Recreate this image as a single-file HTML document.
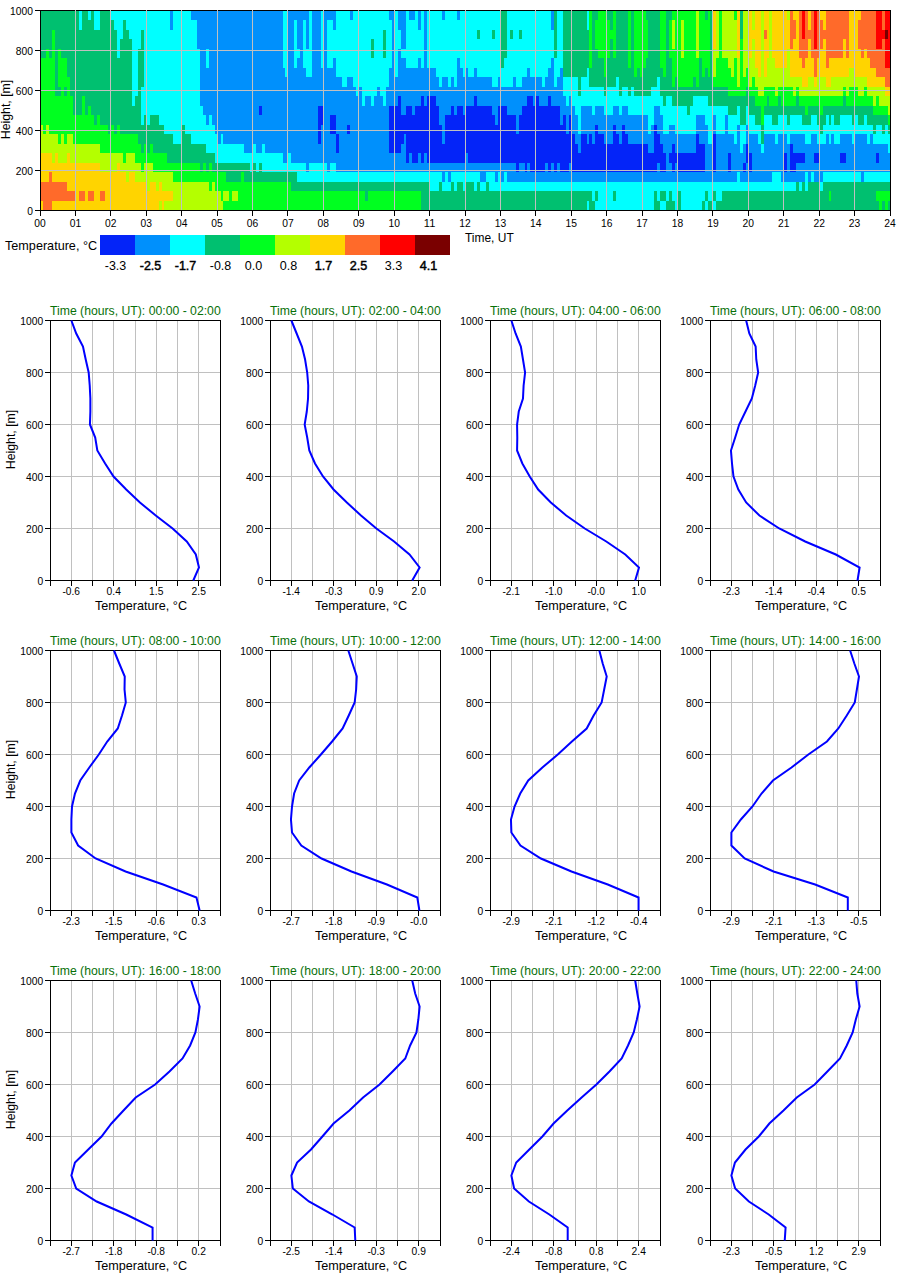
<!DOCTYPE html>
<html><head><meta charset="utf-8"><style>html,body{margin:0;padding:0;background:#fff;}svg{display:block}</style></head>
<body><svg width="900" height="1280" viewBox="0 0 900 1280" font-family="Liberation Sans, sans-serif">
<rect width="900" height="1280" fill="#fff"/>
<g shape-rendering="crispEdges">
<rect x="40.50" y="10.50" width="38.67" height="9.82" fill="#00c070"/>
<rect x="78.87" y="10.50" width="3.25" height="9.82" fill="#00ffff"/>
<rect x="81.82" y="10.50" width="6.20" height="9.82" fill="#00c070"/>
<rect x="87.72" y="10.50" width="3.25" height="9.82" fill="#00ffff"/>
<rect x="90.67" y="10.50" width="3.25" height="9.82" fill="#00c070"/>
<rect x="93.62" y="10.50" width="6.20" height="9.82" fill="#00ffff"/>
<rect x="99.53" y="10.50" width="12.11" height="9.82" fill="#00c070"/>
<rect x="111.33" y="10.50" width="59.33" height="9.82" fill="#00ffff"/>
<rect x="170.36" y="10.50" width="3.25" height="9.82" fill="#0090fc"/>
<rect x="173.31" y="10.50" width="18.01" height="9.82" fill="#00ffff"/>
<rect x="191.02" y="10.50" width="91.79" height="9.82" fill="#0090fc"/>
<rect x="282.51" y="10.50" width="6.20" height="9.82" fill="#00ffff"/>
<rect x="288.42" y="10.50" width="20.96" height="9.82" fill="#0090fc"/>
<rect x="309.08" y="10.50" width="3.25" height="9.82" fill="#00ffff"/>
<rect x="312.03" y="10.50" width="9.15" height="9.82" fill="#0090fc"/>
<rect x="320.88" y="10.50" width="3.25" height="9.82" fill="#00ffff"/>
<rect x="323.83" y="10.50" width="12.11" height="9.82" fill="#0090fc"/>
<rect x="335.64" y="10.50" width="15.06" height="9.82" fill="#00ffff"/>
<rect x="350.40" y="10.50" width="3.25" height="9.82" fill="#0090fc"/>
<rect x="353.35" y="10.50" width="35.72" height="9.82" fill="#00ffff"/>
<rect x="388.76" y="10.50" width="6.20" height="9.82" fill="#0090fc"/>
<rect x="394.67" y="10.50" width="3.25" height="9.82" fill="#00ffff"/>
<rect x="397.62" y="10.50" width="9.15" height="9.82" fill="#0090fc"/>
<rect x="406.47" y="10.50" width="3.25" height="9.82" fill="#00ffff"/>
<rect x="409.42" y="10.50" width="6.20" height="9.82" fill="#0090fc"/>
<rect x="415.33" y="10.50" width="3.25" height="9.82" fill="#00ffff"/>
<rect x="418.28" y="10.50" width="3.25" height="9.82" fill="#0090fc"/>
<rect x="421.23" y="10.50" width="3.25" height="9.82" fill="#00ffff"/>
<rect x="424.18" y="10.50" width="3.25" height="9.82" fill="#0090fc"/>
<rect x="427.13" y="10.50" width="15.06" height="9.82" fill="#00ffff"/>
<rect x="441.89" y="10.50" width="3.25" height="9.82" fill="#0090fc"/>
<rect x="444.84" y="10.50" width="12.11" height="9.82" fill="#00ffff"/>
<rect x="456.65" y="10.50" width="3.25" height="9.82" fill="#0090fc"/>
<rect x="459.60" y="10.50" width="41.62" height="9.82" fill="#00ffff"/>
<rect x="500.92" y="10.50" width="6.20" height="9.82" fill="#00c070"/>
<rect x="506.82" y="10.50" width="44.57" height="9.82" fill="#00ffff"/>
<rect x="551.09" y="10.50" width="3.25" height="9.82" fill="#0090fc"/>
<rect x="554.04" y="10.50" width="3.25" height="9.82" fill="#00c070"/>
<rect x="556.99" y="10.50" width="6.20" height="9.82" fill="#00ffff"/>
<rect x="562.90" y="10.50" width="23.91" height="9.82" fill="#00c070"/>
<rect x="586.51" y="10.50" width="3.25" height="9.82" fill="#00ffff"/>
<rect x="589.46" y="10.50" width="3.25" height="9.82" fill="#00ff20"/>
<rect x="592.41" y="10.50" width="6.20" height="9.82" fill="#00c070"/>
<rect x="598.31" y="10.50" width="9.15" height="9.82" fill="#00ff20"/>
<rect x="607.17" y="10.50" width="6.20" height="9.82" fill="#00c070"/>
<rect x="613.07" y="10.50" width="3.25" height="9.82" fill="#00ff20"/>
<rect x="616.02" y="10.50" width="12.11" height="9.82" fill="#00c070"/>
<rect x="627.83" y="10.50" width="3.25" height="9.82" fill="#00ff20"/>
<rect x="630.78" y="10.50" width="3.25" height="9.82" fill="#00c070"/>
<rect x="633.73" y="10.50" width="12.11" height="9.82" fill="#00ff20"/>
<rect x="645.53" y="10.50" width="15.06" height="9.82" fill="#00c070"/>
<rect x="660.29" y="10.50" width="6.20" height="9.82" fill="#00ff20"/>
<rect x="666.19" y="10.50" width="6.20" height="9.82" fill="#00c070"/>
<rect x="672.10" y="10.50" width="23.91" height="9.82" fill="#00ff20"/>
<rect x="695.71" y="10.50" width="3.25" height="9.82" fill="#b4ff00"/>
<rect x="698.66" y="10.50" width="6.20" height="9.82" fill="#00ff20"/>
<rect x="704.56" y="10.50" width="3.25" height="9.82" fill="#00c070"/>
<rect x="707.51" y="10.50" width="3.25" height="9.82" fill="#00ff20"/>
<rect x="710.47" y="10.50" width="3.25" height="9.82" fill="#00c070"/>
<rect x="713.42" y="10.50" width="3.25" height="9.82" fill="#ffd400"/>
<rect x="716.37" y="10.50" width="3.25" height="9.82" fill="#b4ff00"/>
<rect x="719.32" y="10.50" width="3.25" height="9.82" fill="#00ff20"/>
<rect x="722.27" y="10.50" width="12.11" height="9.82" fill="#b4ff00"/>
<rect x="734.08" y="10.50" width="3.25" height="9.82" fill="#00ff20"/>
<rect x="737.03" y="10.50" width="3.25" height="9.82" fill="#ffd400"/>
<rect x="739.98" y="10.50" width="3.25" height="9.82" fill="#00c070"/>
<rect x="742.93" y="10.50" width="6.20" height="9.82" fill="#b4ff00"/>
<rect x="748.83" y="10.50" width="3.25" height="9.82" fill="#ffd400"/>
<rect x="751.78" y="10.50" width="3.25" height="9.82" fill="#b4ff00"/>
<rect x="754.74" y="10.50" width="6.20" height="9.82" fill="#ffd400"/>
<rect x="760.64" y="10.50" width="3.25" height="9.82" fill="#b4ff00"/>
<rect x="763.59" y="10.50" width="6.20" height="9.82" fill="#ffd400"/>
<rect x="769.49" y="10.50" width="3.25" height="9.82" fill="#b4ff00"/>
<rect x="772.44" y="10.50" width="15.06" height="9.82" fill="#ffd400"/>
<rect x="787.20" y="10.50" width="3.25" height="9.82" fill="#b4ff00"/>
<rect x="790.15" y="10.50" width="3.25" height="9.82" fill="#ff6a2a"/>
<rect x="793.10" y="10.50" width="6.20" height="9.82" fill="#ffd400"/>
<rect x="799.01" y="10.50" width="3.25" height="9.82" fill="#ff6a2a"/>
<rect x="801.96" y="10.50" width="3.25" height="9.82" fill="#ff0000"/>
<rect x="804.91" y="10.50" width="3.25" height="9.82" fill="#ff6a2a"/>
<rect x="807.86" y="10.50" width="3.25" height="9.82" fill="#ffd400"/>
<rect x="810.81" y="10.50" width="3.25" height="9.82" fill="#ff6a2a"/>
<rect x="813.76" y="10.50" width="3.25" height="9.82" fill="#ff0000"/>
<rect x="816.72" y="10.50" width="3.25" height="9.82" fill="#ff6a2a"/>
<rect x="819.67" y="10.50" width="6.20" height="9.82" fill="#ffd400"/>
<rect x="825.57" y="10.50" width="23.91" height="9.82" fill="#ff6a2a"/>
<rect x="849.18" y="10.50" width="12.11" height="9.82" fill="#ffd400"/>
<rect x="860.99" y="10.50" width="15.06" height="9.82" fill="#ff6a2a"/>
<rect x="875.74" y="10.50" width="6.20" height="9.82" fill="#ff0000"/>
<rect x="881.65" y="10.50" width="3.25" height="9.82" fill="#ff6a2a"/>
<rect x="884.60" y="10.50" width="6.20" height="9.82" fill="#ff0000"/>
<rect x="40.50" y="20.02" width="38.67" height="9.82" fill="#00c070"/>
<rect x="78.87" y="20.02" width="3.25" height="9.82" fill="#00ffff"/>
<rect x="81.82" y="20.02" width="12.11" height="9.82" fill="#00c070"/>
<rect x="93.62" y="20.02" width="6.20" height="9.82" fill="#00ffff"/>
<rect x="99.53" y="20.02" width="15.06" height="9.82" fill="#00c070"/>
<rect x="114.28" y="20.02" width="9.15" height="9.82" fill="#00ffff"/>
<rect x="123.14" y="20.02" width="3.25" height="9.82" fill="#00c070"/>
<rect x="126.09" y="20.02" width="44.57" height="9.82" fill="#00ffff"/>
<rect x="170.36" y="20.02" width="3.25" height="9.82" fill="#0090fc"/>
<rect x="173.31" y="20.02" width="23.91" height="9.82" fill="#00ffff"/>
<rect x="196.92" y="20.02" width="85.89" height="9.82" fill="#0090fc"/>
<rect x="282.51" y="20.02" width="6.20" height="9.82" fill="#00ffff"/>
<rect x="288.42" y="20.02" width="6.20" height="9.82" fill="#0090fc"/>
<rect x="294.32" y="20.02" width="3.25" height="9.82" fill="#00ffff"/>
<rect x="297.27" y="20.02" width="6.20" height="9.82" fill="#0090fc"/>
<rect x="303.17" y="20.02" width="3.25" height="9.82" fill="#00ffff"/>
<rect x="306.12" y="20.02" width="3.25" height="9.82" fill="#0090fc"/>
<rect x="309.08" y="20.02" width="3.25" height="9.82" fill="#00ffff"/>
<rect x="312.03" y="20.02" width="9.15" height="9.82" fill="#0090fc"/>
<rect x="320.88" y="20.02" width="3.25" height="9.82" fill="#00ffff"/>
<rect x="323.83" y="20.02" width="3.25" height="9.82" fill="#0090fc"/>
<rect x="326.78" y="20.02" width="6.20" height="9.82" fill="#00ffff"/>
<rect x="332.69" y="20.02" width="3.25" height="9.82" fill="#0090fc"/>
<rect x="335.64" y="20.02" width="56.38" height="9.82" fill="#00ffff"/>
<rect x="391.72" y="20.02" width="3.25" height="9.82" fill="#0090fc"/>
<rect x="394.67" y="20.02" width="3.25" height="9.82" fill="#00ffff"/>
<rect x="397.62" y="20.02" width="9.15" height="9.82" fill="#0090fc"/>
<rect x="406.47" y="20.02" width="12.11" height="9.82" fill="#00ffff"/>
<rect x="418.28" y="20.02" width="3.25" height="9.82" fill="#0090fc"/>
<rect x="421.23" y="20.02" width="3.25" height="9.82" fill="#00ffff"/>
<rect x="424.18" y="20.02" width="3.25" height="9.82" fill="#0090fc"/>
<rect x="427.13" y="20.02" width="74.08" height="9.82" fill="#00ffff"/>
<rect x="500.92" y="20.02" width="6.20" height="9.82" fill="#00c070"/>
<rect x="506.82" y="20.02" width="44.57" height="9.82" fill="#00ffff"/>
<rect x="551.09" y="20.02" width="3.25" height="9.82" fill="#0090fc"/>
<rect x="554.04" y="20.02" width="3.25" height="9.82" fill="#00c070"/>
<rect x="556.99" y="20.02" width="6.20" height="9.82" fill="#00ffff"/>
<rect x="562.90" y="20.02" width="23.91" height="9.82" fill="#00c070"/>
<rect x="586.51" y="20.02" width="3.25" height="9.82" fill="#00ffff"/>
<rect x="589.46" y="20.02" width="3.25" height="9.82" fill="#00ff20"/>
<rect x="592.41" y="20.02" width="3.25" height="9.82" fill="#00c070"/>
<rect x="595.36" y="20.02" width="15.06" height="9.82" fill="#00ff20"/>
<rect x="610.12" y="20.02" width="3.25" height="9.82" fill="#00c070"/>
<rect x="613.07" y="20.02" width="3.25" height="9.82" fill="#00ff20"/>
<rect x="616.02" y="20.02" width="12.11" height="9.82" fill="#00c070"/>
<rect x="627.83" y="20.02" width="3.25" height="9.82" fill="#00ff20"/>
<rect x="630.78" y="20.02" width="3.25" height="9.82" fill="#00c070"/>
<rect x="633.73" y="20.02" width="15.06" height="9.82" fill="#00ff20"/>
<rect x="648.49" y="20.02" width="12.11" height="9.82" fill="#00c070"/>
<rect x="660.29" y="20.02" width="6.20" height="9.82" fill="#00ff20"/>
<rect x="666.19" y="20.02" width="3.25" height="9.82" fill="#00c070"/>
<rect x="669.15" y="20.02" width="3.25" height="9.82" fill="#00ff20"/>
<rect x="672.10" y="20.02" width="3.25" height="9.82" fill="#b4ff00"/>
<rect x="675.05" y="20.02" width="6.20" height="9.82" fill="#00ff20"/>
<rect x="680.95" y="20.02" width="3.25" height="9.82" fill="#b4ff00"/>
<rect x="683.90" y="20.02" width="12.11" height="9.82" fill="#00ff20"/>
<rect x="695.71" y="20.02" width="3.25" height="9.82" fill="#b4ff00"/>
<rect x="698.66" y="20.02" width="12.11" height="9.82" fill="#00ff20"/>
<rect x="710.47" y="20.02" width="3.25" height="9.82" fill="#00c070"/>
<rect x="713.42" y="20.02" width="3.25" height="9.82" fill="#ffd400"/>
<rect x="716.37" y="20.02" width="3.25" height="9.82" fill="#b4ff00"/>
<rect x="719.32" y="20.02" width="3.25" height="9.82" fill="#00ff20"/>
<rect x="722.27" y="20.02" width="15.06" height="9.82" fill="#b4ff00"/>
<rect x="737.03" y="20.02" width="3.25" height="9.82" fill="#ffd400"/>
<rect x="739.98" y="20.02" width="3.25" height="9.82" fill="#00c070"/>
<rect x="742.93" y="20.02" width="6.20" height="9.82" fill="#b4ff00"/>
<rect x="748.83" y="20.02" width="3.25" height="9.82" fill="#ffd400"/>
<rect x="751.78" y="20.02" width="3.25" height="9.82" fill="#b4ff00"/>
<rect x="754.74" y="20.02" width="6.20" height="9.82" fill="#ffd400"/>
<rect x="760.64" y="20.02" width="3.25" height="9.82" fill="#b4ff00"/>
<rect x="763.59" y="20.02" width="6.20" height="9.82" fill="#ffd400"/>
<rect x="769.49" y="20.02" width="3.25" height="9.82" fill="#b4ff00"/>
<rect x="772.44" y="20.02" width="18.01" height="9.82" fill="#ffd400"/>
<rect x="790.15" y="20.02" width="6.20" height="9.82" fill="#ff6a2a"/>
<rect x="796.06" y="20.02" width="3.25" height="9.82" fill="#ffd400"/>
<rect x="799.01" y="20.02" width="3.25" height="9.82" fill="#ff6a2a"/>
<rect x="801.96" y="20.02" width="3.25" height="9.82" fill="#ff0000"/>
<rect x="804.91" y="20.02" width="3.25" height="9.82" fill="#ff6a2a"/>
<rect x="807.86" y="20.02" width="3.25" height="9.82" fill="#ffd400"/>
<rect x="810.81" y="20.02" width="3.25" height="9.82" fill="#ff6a2a"/>
<rect x="813.76" y="20.02" width="3.25" height="9.82" fill="#ff0000"/>
<rect x="816.72" y="20.02" width="6.20" height="9.82" fill="#ff6a2a"/>
<rect x="822.62" y="20.02" width="3.25" height="9.82" fill="#ffd400"/>
<rect x="825.57" y="20.02" width="23.91" height="9.82" fill="#ff6a2a"/>
<rect x="849.18" y="20.02" width="9.15" height="9.82" fill="#ffd400"/>
<rect x="858.03" y="20.02" width="18.01" height="9.82" fill="#ff6a2a"/>
<rect x="875.74" y="20.02" width="6.20" height="9.82" fill="#ff0000"/>
<rect x="881.65" y="20.02" width="3.25" height="9.82" fill="#ff6a2a"/>
<rect x="884.60" y="20.02" width="6.20" height="9.82" fill="#ff0000"/>
<rect x="40.50" y="29.55" width="12.11" height="9.82" fill="#00c070"/>
<rect x="52.31" y="29.55" width="3.25" height="9.82" fill="#00ff20"/>
<rect x="55.26" y="29.55" width="62.28" height="9.82" fill="#00c070"/>
<rect x="117.24" y="29.55" width="6.20" height="9.82" fill="#00ffff"/>
<rect x="123.14" y="29.55" width="6.20" height="9.82" fill="#00c070"/>
<rect x="129.04" y="29.55" width="12.11" height="9.82" fill="#00ffff"/>
<rect x="140.85" y="29.55" width="3.25" height="9.82" fill="#00c070"/>
<rect x="143.80" y="29.55" width="53.42" height="9.82" fill="#00ffff"/>
<rect x="196.92" y="29.55" width="85.89" height="9.82" fill="#0090fc"/>
<rect x="282.51" y="29.55" width="6.20" height="9.82" fill="#00ffff"/>
<rect x="288.42" y="29.55" width="6.20" height="9.82" fill="#0090fc"/>
<rect x="294.32" y="29.55" width="3.25" height="9.82" fill="#00ffff"/>
<rect x="297.27" y="29.55" width="6.20" height="9.82" fill="#0090fc"/>
<rect x="303.17" y="29.55" width="3.25" height="9.82" fill="#00ffff"/>
<rect x="306.12" y="29.55" width="3.25" height="9.82" fill="#0090fc"/>
<rect x="309.08" y="29.55" width="3.25" height="9.82" fill="#00ffff"/>
<rect x="312.03" y="29.55" width="9.15" height="9.82" fill="#0090fc"/>
<rect x="320.88" y="29.55" width="3.25" height="9.82" fill="#00ffff"/>
<rect x="323.83" y="29.55" width="3.25" height="9.82" fill="#0090fc"/>
<rect x="326.78" y="29.55" width="56.38" height="9.82" fill="#00ffff"/>
<rect x="382.86" y="29.55" width="3.25" height="9.82" fill="#00c070"/>
<rect x="385.81" y="29.55" width="6.20" height="9.82" fill="#00ffff"/>
<rect x="391.72" y="29.55" width="3.25" height="9.82" fill="#0090fc"/>
<rect x="394.67" y="29.55" width="6.20" height="9.82" fill="#00ffff"/>
<rect x="400.57" y="29.55" width="6.20" height="9.82" fill="#0090fc"/>
<rect x="406.47" y="29.55" width="18.01" height="9.82" fill="#00ffff"/>
<rect x="424.18" y="29.55" width="3.25" height="9.82" fill="#0090fc"/>
<rect x="427.13" y="29.55" width="50.47" height="9.82" fill="#00ffff"/>
<rect x="477.31" y="29.55" width="3.25" height="9.82" fill="#00c070"/>
<rect x="480.26" y="29.55" width="12.11" height="9.82" fill="#00ffff"/>
<rect x="492.06" y="29.55" width="3.25" height="9.82" fill="#00c070"/>
<rect x="495.01" y="29.55" width="6.20" height="9.82" fill="#00ffff"/>
<rect x="500.92" y="29.55" width="6.20" height="9.82" fill="#00c070"/>
<rect x="506.82" y="29.55" width="3.25" height="9.82" fill="#00ffff"/>
<rect x="509.77" y="29.55" width="3.25" height="9.82" fill="#00c070"/>
<rect x="512.72" y="29.55" width="6.20" height="9.82" fill="#00ffff"/>
<rect x="518.62" y="29.55" width="3.25" height="9.82" fill="#00c070"/>
<rect x="521.58" y="29.55" width="32.77" height="9.82" fill="#00ffff"/>
<rect x="554.04" y="29.55" width="3.25" height="9.82" fill="#00c070"/>
<rect x="556.99" y="29.55" width="6.20" height="9.82" fill="#00ffff"/>
<rect x="562.90" y="29.55" width="26.86" height="9.82" fill="#00c070"/>
<rect x="589.46" y="29.55" width="3.25" height="9.82" fill="#00ff20"/>
<rect x="592.41" y="29.55" width="3.25" height="9.82" fill="#00c070"/>
<rect x="595.36" y="29.55" width="20.96" height="9.82" fill="#00ff20"/>
<rect x="616.02" y="29.55" width="12.11" height="9.82" fill="#00c070"/>
<rect x="627.83" y="29.55" width="3.25" height="9.82" fill="#00ff20"/>
<rect x="630.78" y="29.55" width="3.25" height="9.82" fill="#00c070"/>
<rect x="633.73" y="29.55" width="15.06" height="9.82" fill="#00ff20"/>
<rect x="648.49" y="29.55" width="12.11" height="9.82" fill="#00c070"/>
<rect x="660.29" y="29.55" width="6.20" height="9.82" fill="#00ff20"/>
<rect x="666.19" y="29.55" width="3.25" height="9.82" fill="#00c070"/>
<rect x="669.15" y="29.55" width="3.25" height="9.82" fill="#00ff20"/>
<rect x="672.10" y="29.55" width="3.25" height="9.82" fill="#b4ff00"/>
<rect x="675.05" y="29.55" width="6.20" height="9.82" fill="#00ff20"/>
<rect x="680.95" y="29.55" width="3.25" height="9.82" fill="#b4ff00"/>
<rect x="683.90" y="29.55" width="12.11" height="9.82" fill="#00ff20"/>
<rect x="695.71" y="29.55" width="3.25" height="9.82" fill="#b4ff00"/>
<rect x="698.66" y="29.55" width="12.11" height="9.82" fill="#00ff20"/>
<rect x="710.47" y="29.55" width="3.25" height="9.82" fill="#00c070"/>
<rect x="713.42" y="29.55" width="3.25" height="9.82" fill="#ffd400"/>
<rect x="716.37" y="29.55" width="3.25" height="9.82" fill="#b4ff00"/>
<rect x="719.32" y="29.55" width="3.25" height="9.82" fill="#00ff20"/>
<rect x="722.27" y="29.55" width="15.06" height="9.82" fill="#b4ff00"/>
<rect x="737.03" y="29.55" width="3.25" height="9.82" fill="#ffd400"/>
<rect x="739.98" y="29.55" width="3.25" height="9.82" fill="#00c070"/>
<rect x="742.93" y="29.55" width="6.20" height="9.82" fill="#b4ff00"/>
<rect x="748.83" y="29.55" width="12.11" height="9.82" fill="#ffd400"/>
<rect x="760.64" y="29.55" width="3.25" height="9.82" fill="#b4ff00"/>
<rect x="763.59" y="29.55" width="3.25" height="9.82" fill="#ff6a2a"/>
<rect x="766.54" y="29.55" width="3.25" height="9.82" fill="#ffd400"/>
<rect x="769.49" y="29.55" width="3.25" height="9.82" fill="#b4ff00"/>
<rect x="772.44" y="29.55" width="18.01" height="9.82" fill="#ffd400"/>
<rect x="790.15" y="29.55" width="6.20" height="9.82" fill="#ff6a2a"/>
<rect x="796.06" y="29.55" width="3.25" height="9.82" fill="#ffd400"/>
<rect x="799.01" y="29.55" width="3.25" height="9.82" fill="#ff6a2a"/>
<rect x="801.96" y="29.55" width="3.25" height="9.82" fill="#ff0000"/>
<rect x="804.91" y="29.55" width="9.15" height="9.82" fill="#ff6a2a"/>
<rect x="813.76" y="29.55" width="3.25" height="9.82" fill="#ff0000"/>
<rect x="816.72" y="29.55" width="32.77" height="9.82" fill="#ff6a2a"/>
<rect x="849.18" y="29.55" width="9.15" height="9.82" fill="#ffd400"/>
<rect x="858.03" y="29.55" width="18.01" height="9.82" fill="#ff6a2a"/>
<rect x="875.74" y="29.55" width="9.15" height="9.82" fill="#ff0000"/>
<rect x="884.60" y="29.55" width="3.25" height="9.82" fill="#7a0000"/>
<rect x="887.55" y="29.55" width="3.25" height="9.82" fill="#ff0000"/>
<rect x="40.50" y="39.07" width="12.11" height="9.82" fill="#00c070"/>
<rect x="52.31" y="39.07" width="3.25" height="9.82" fill="#00ff20"/>
<rect x="55.26" y="39.07" width="62.28" height="9.82" fill="#00c070"/>
<rect x="117.24" y="39.07" width="3.25" height="9.82" fill="#00ffff"/>
<rect x="120.19" y="39.07" width="12.11" height="9.82" fill="#00c070"/>
<rect x="131.99" y="39.07" width="9.15" height="9.82" fill="#00ffff"/>
<rect x="140.85" y="39.07" width="3.25" height="9.82" fill="#00c070"/>
<rect x="143.80" y="39.07" width="53.42" height="9.82" fill="#00ffff"/>
<rect x="196.92" y="39.07" width="85.89" height="9.82" fill="#0090fc"/>
<rect x="282.51" y="39.07" width="6.20" height="9.82" fill="#00ffff"/>
<rect x="288.42" y="39.07" width="6.20" height="9.82" fill="#0090fc"/>
<rect x="294.32" y="39.07" width="3.25" height="9.82" fill="#00ffff"/>
<rect x="297.27" y="39.07" width="6.20" height="9.82" fill="#0090fc"/>
<rect x="303.17" y="39.07" width="3.25" height="9.82" fill="#00ffff"/>
<rect x="306.12" y="39.07" width="3.25" height="9.82" fill="#0090fc"/>
<rect x="309.08" y="39.07" width="3.25" height="9.82" fill="#00ffff"/>
<rect x="312.03" y="39.07" width="9.15" height="9.82" fill="#0090fc"/>
<rect x="320.88" y="39.07" width="3.25" height="9.82" fill="#00ffff"/>
<rect x="323.83" y="39.07" width="3.25" height="9.82" fill="#0090fc"/>
<rect x="326.78" y="39.07" width="44.57" height="9.82" fill="#00ffff"/>
<rect x="371.06" y="39.07" width="3.25" height="9.82" fill="#00c070"/>
<rect x="374.01" y="39.07" width="9.15" height="9.82" fill="#00ffff"/>
<rect x="382.86" y="39.07" width="3.25" height="9.82" fill="#00c070"/>
<rect x="385.81" y="39.07" width="6.20" height="9.82" fill="#00ffff"/>
<rect x="391.72" y="39.07" width="3.25" height="9.82" fill="#0090fc"/>
<rect x="394.67" y="39.07" width="6.20" height="9.82" fill="#00ffff"/>
<rect x="400.57" y="39.07" width="6.20" height="9.82" fill="#0090fc"/>
<rect x="406.47" y="39.07" width="18.01" height="9.82" fill="#00ffff"/>
<rect x="424.18" y="39.07" width="3.25" height="9.82" fill="#0090fc"/>
<rect x="427.13" y="39.07" width="74.08" height="9.82" fill="#00ffff"/>
<rect x="500.92" y="39.07" width="6.20" height="9.82" fill="#00c070"/>
<rect x="506.82" y="39.07" width="47.52" height="9.82" fill="#00ffff"/>
<rect x="554.04" y="39.07" width="3.25" height="9.82" fill="#00c070"/>
<rect x="556.99" y="39.07" width="6.20" height="9.82" fill="#00ffff"/>
<rect x="562.90" y="39.07" width="26.86" height="9.82" fill="#00c070"/>
<rect x="589.46" y="39.07" width="3.25" height="9.82" fill="#00ff20"/>
<rect x="592.41" y="39.07" width="3.25" height="9.82" fill="#00c070"/>
<rect x="595.36" y="39.07" width="15.06" height="9.82" fill="#00ff20"/>
<rect x="610.12" y="39.07" width="3.25" height="9.82" fill="#00c070"/>
<rect x="613.07" y="39.07" width="3.25" height="9.82" fill="#00ff20"/>
<rect x="616.02" y="39.07" width="12.11" height="9.82" fill="#00c070"/>
<rect x="627.83" y="39.07" width="3.25" height="9.82" fill="#00ff20"/>
<rect x="630.78" y="39.07" width="3.25" height="9.82" fill="#00c070"/>
<rect x="633.73" y="39.07" width="15.06" height="9.82" fill="#00ff20"/>
<rect x="648.49" y="39.07" width="12.11" height="9.82" fill="#00c070"/>
<rect x="660.29" y="39.07" width="6.20" height="9.82" fill="#00ff20"/>
<rect x="666.19" y="39.07" width="3.25" height="9.82" fill="#00c070"/>
<rect x="669.15" y="39.07" width="3.25" height="9.82" fill="#00ff20"/>
<rect x="672.10" y="39.07" width="3.25" height="9.82" fill="#b4ff00"/>
<rect x="675.05" y="39.07" width="6.20" height="9.82" fill="#00ff20"/>
<rect x="680.95" y="39.07" width="3.25" height="9.82" fill="#b4ff00"/>
<rect x="683.90" y="39.07" width="12.11" height="9.82" fill="#00ff20"/>
<rect x="695.71" y="39.07" width="3.25" height="9.82" fill="#b4ff00"/>
<rect x="698.66" y="39.07" width="12.11" height="9.82" fill="#00ff20"/>
<rect x="710.47" y="39.07" width="3.25" height="9.82" fill="#00c070"/>
<rect x="713.42" y="39.07" width="3.25" height="9.82" fill="#ffd400"/>
<rect x="716.37" y="39.07" width="3.25" height="9.82" fill="#b4ff00"/>
<rect x="719.32" y="39.07" width="3.25" height="9.82" fill="#00ff20"/>
<rect x="722.27" y="39.07" width="15.06" height="9.82" fill="#b4ff00"/>
<rect x="737.03" y="39.07" width="3.25" height="9.82" fill="#ffd400"/>
<rect x="739.98" y="39.07" width="3.25" height="9.82" fill="#00ff20"/>
<rect x="742.93" y="39.07" width="6.20" height="9.82" fill="#b4ff00"/>
<rect x="748.83" y="39.07" width="3.25" height="9.82" fill="#ffd400"/>
<rect x="751.78" y="39.07" width="3.25" height="9.82" fill="#b4ff00"/>
<rect x="754.74" y="39.07" width="6.20" height="9.82" fill="#ffd400"/>
<rect x="760.64" y="39.07" width="3.25" height="9.82" fill="#b4ff00"/>
<rect x="763.59" y="39.07" width="6.20" height="9.82" fill="#ffd400"/>
<rect x="769.49" y="39.07" width="3.25" height="9.82" fill="#b4ff00"/>
<rect x="772.44" y="39.07" width="18.01" height="9.82" fill="#ffd400"/>
<rect x="790.15" y="39.07" width="3.25" height="9.82" fill="#ff6a2a"/>
<rect x="793.10" y="39.07" width="6.20" height="9.82" fill="#ffd400"/>
<rect x="799.01" y="39.07" width="9.15" height="9.82" fill="#ff6a2a"/>
<rect x="807.86" y="39.07" width="3.25" height="9.82" fill="#ffd400"/>
<rect x="810.81" y="39.07" width="3.25" height="9.82" fill="#ff6a2a"/>
<rect x="813.76" y="39.07" width="3.25" height="9.82" fill="#ff0000"/>
<rect x="816.72" y="39.07" width="6.20" height="9.82" fill="#ff6a2a"/>
<rect x="822.62" y="39.07" width="3.25" height="9.82" fill="#ffd400"/>
<rect x="825.57" y="39.07" width="18.01" height="9.82" fill="#ff6a2a"/>
<rect x="843.28" y="39.07" width="3.25" height="9.82" fill="#ffd400"/>
<rect x="846.23" y="39.07" width="3.25" height="9.82" fill="#ff6a2a"/>
<rect x="849.18" y="39.07" width="9.15" height="9.82" fill="#ffd400"/>
<rect x="858.03" y="39.07" width="18.01" height="9.82" fill="#ff6a2a"/>
<rect x="875.74" y="39.07" width="6.20" height="9.82" fill="#ff0000"/>
<rect x="881.65" y="39.07" width="3.25" height="9.82" fill="#ff6a2a"/>
<rect x="884.60" y="39.07" width="6.20" height="9.82" fill="#ff0000"/>
<rect x="40.50" y="48.60" width="6.20" height="9.82" fill="#00c070"/>
<rect x="46.40" y="48.60" width="3.25" height="9.82" fill="#00ff20"/>
<rect x="49.35" y="48.60" width="3.25" height="9.82" fill="#00c070"/>
<rect x="52.31" y="48.60" width="3.25" height="9.82" fill="#00ff20"/>
<rect x="55.26" y="48.60" width="3.25" height="9.82" fill="#00c070"/>
<rect x="58.21" y="48.60" width="3.25" height="9.82" fill="#00ff20"/>
<rect x="61.16" y="48.60" width="56.38" height="9.82" fill="#00c070"/>
<rect x="117.24" y="48.60" width="3.25" height="9.82" fill="#00ffff"/>
<rect x="120.19" y="48.60" width="12.11" height="9.82" fill="#00c070"/>
<rect x="131.99" y="48.60" width="6.20" height="9.82" fill="#00ffff"/>
<rect x="137.90" y="48.60" width="6.20" height="9.82" fill="#00c070"/>
<rect x="143.80" y="48.60" width="56.38" height="9.82" fill="#00ffff"/>
<rect x="199.88" y="48.60" width="6.20" height="9.82" fill="#0090fc"/>
<rect x="205.78" y="48.60" width="3.25" height="9.82" fill="#00ffff"/>
<rect x="208.73" y="48.60" width="74.08" height="9.82" fill="#0090fc"/>
<rect x="282.51" y="48.60" width="6.20" height="9.82" fill="#00ffff"/>
<rect x="288.42" y="48.60" width="6.20" height="9.82" fill="#0090fc"/>
<rect x="294.32" y="48.60" width="6.20" height="9.82" fill="#00ffff"/>
<rect x="300.22" y="48.60" width="3.25" height="9.82" fill="#0090fc"/>
<rect x="303.17" y="48.60" width="9.15" height="9.82" fill="#00ffff"/>
<rect x="312.03" y="48.60" width="9.15" height="9.82" fill="#0090fc"/>
<rect x="320.88" y="48.60" width="3.25" height="9.82" fill="#00ffff"/>
<rect x="323.83" y="48.60" width="3.25" height="9.82" fill="#0090fc"/>
<rect x="326.78" y="48.60" width="44.57" height="9.82" fill="#00ffff"/>
<rect x="371.06" y="48.60" width="3.25" height="9.82" fill="#00c070"/>
<rect x="374.01" y="48.60" width="9.15" height="9.82" fill="#00ffff"/>
<rect x="382.86" y="48.60" width="3.25" height="9.82" fill="#00c070"/>
<rect x="385.81" y="48.60" width="6.20" height="9.82" fill="#00ffff"/>
<rect x="391.72" y="48.60" width="3.25" height="9.82" fill="#0090fc"/>
<rect x="394.67" y="48.60" width="3.25" height="9.82" fill="#00ffff"/>
<rect x="397.62" y="48.60" width="3.25" height="9.82" fill="#0090fc"/>
<rect x="400.57" y="48.60" width="23.91" height="9.82" fill="#00ffff"/>
<rect x="424.18" y="48.60" width="3.25" height="9.82" fill="#0090fc"/>
<rect x="427.13" y="48.60" width="74.08" height="9.82" fill="#00ffff"/>
<rect x="500.92" y="48.60" width="6.20" height="9.82" fill="#00c070"/>
<rect x="506.82" y="48.60" width="47.52" height="9.82" fill="#00ffff"/>
<rect x="554.04" y="48.60" width="3.25" height="9.82" fill="#00c070"/>
<rect x="556.99" y="48.60" width="6.20" height="9.82" fill="#00ffff"/>
<rect x="562.90" y="48.60" width="26.86" height="9.82" fill="#00c070"/>
<rect x="589.46" y="48.60" width="3.25" height="9.82" fill="#00ff20"/>
<rect x="592.41" y="48.60" width="6.20" height="9.82" fill="#00c070"/>
<rect x="598.31" y="48.60" width="12.11" height="9.82" fill="#00ff20"/>
<rect x="610.12" y="48.60" width="3.25" height="9.82" fill="#00c070"/>
<rect x="613.07" y="48.60" width="3.25" height="9.82" fill="#00ff20"/>
<rect x="616.02" y="48.60" width="12.11" height="9.82" fill="#00c070"/>
<rect x="627.83" y="48.60" width="3.25" height="9.82" fill="#00ff20"/>
<rect x="630.78" y="48.60" width="3.25" height="9.82" fill="#00c070"/>
<rect x="633.73" y="48.60" width="15.06" height="9.82" fill="#00ff20"/>
<rect x="648.49" y="48.60" width="12.11" height="9.82" fill="#00c070"/>
<rect x="660.29" y="48.60" width="6.20" height="9.82" fill="#00ff20"/>
<rect x="666.19" y="48.60" width="3.25" height="9.82" fill="#00c070"/>
<rect x="669.15" y="48.60" width="12.11" height="9.82" fill="#00ff20"/>
<rect x="680.95" y="48.60" width="3.25" height="9.82" fill="#b4ff00"/>
<rect x="683.90" y="48.60" width="12.11" height="9.82" fill="#00ff20"/>
<rect x="695.71" y="48.60" width="3.25" height="9.82" fill="#b4ff00"/>
<rect x="698.66" y="48.60" width="12.11" height="9.82" fill="#00ff20"/>
<rect x="710.47" y="48.60" width="3.25" height="9.82" fill="#00c070"/>
<rect x="713.42" y="48.60" width="6.20" height="9.82" fill="#b4ff00"/>
<rect x="719.32" y="48.60" width="3.25" height="9.82" fill="#00ff20"/>
<rect x="722.27" y="48.60" width="15.06" height="9.82" fill="#b4ff00"/>
<rect x="737.03" y="48.60" width="3.25" height="9.82" fill="#ffd400"/>
<rect x="739.98" y="48.60" width="3.25" height="9.82" fill="#00ff20"/>
<rect x="742.93" y="48.60" width="6.20" height="9.82" fill="#b4ff00"/>
<rect x="748.83" y="48.60" width="3.25" height="9.82" fill="#ffd400"/>
<rect x="751.78" y="48.60" width="3.25" height="9.82" fill="#b4ff00"/>
<rect x="754.74" y="48.60" width="6.20" height="9.82" fill="#ffd400"/>
<rect x="760.64" y="48.60" width="3.25" height="9.82" fill="#b4ff00"/>
<rect x="763.59" y="48.60" width="6.20" height="9.82" fill="#ffd400"/>
<rect x="769.49" y="48.60" width="3.25" height="9.82" fill="#b4ff00"/>
<rect x="772.44" y="48.60" width="15.06" height="9.82" fill="#ffd400"/>
<rect x="787.20" y="48.60" width="3.25" height="9.82" fill="#b4ff00"/>
<rect x="790.15" y="48.60" width="9.15" height="9.82" fill="#ffd400"/>
<rect x="799.01" y="48.60" width="9.15" height="9.82" fill="#ff6a2a"/>
<rect x="807.86" y="48.60" width="3.25" height="9.82" fill="#ffd400"/>
<rect x="810.81" y="48.60" width="9.15" height="9.82" fill="#ff6a2a"/>
<rect x="819.67" y="48.60" width="6.20" height="9.82" fill="#ffd400"/>
<rect x="825.57" y="48.60" width="18.01" height="9.82" fill="#ff6a2a"/>
<rect x="843.28" y="48.60" width="3.25" height="9.82" fill="#ffd400"/>
<rect x="846.23" y="48.60" width="3.25" height="9.82" fill="#ff6a2a"/>
<rect x="849.18" y="48.60" width="12.11" height="9.82" fill="#ffd400"/>
<rect x="860.99" y="48.60" width="3.25" height="9.82" fill="#ff6a2a"/>
<rect x="863.94" y="48.60" width="3.25" height="9.82" fill="#ffd400"/>
<rect x="866.89" y="48.60" width="18.01" height="9.82" fill="#ff6a2a"/>
<rect x="884.60" y="48.60" width="6.20" height="9.82" fill="#ff0000"/>
<rect x="40.50" y="58.12" width="15.06" height="9.82" fill="#00ff20"/>
<rect x="55.26" y="58.12" width="3.25" height="9.82" fill="#00c070"/>
<rect x="58.21" y="58.12" width="9.15" height="9.82" fill="#00ff20"/>
<rect x="67.06" y="58.12" width="65.23" height="9.82" fill="#00c070"/>
<rect x="131.99" y="58.12" width="6.20" height="9.82" fill="#00ffff"/>
<rect x="137.90" y="58.12" width="6.20" height="9.82" fill="#00c070"/>
<rect x="143.80" y="58.12" width="56.38" height="9.82" fill="#00ffff"/>
<rect x="199.88" y="58.12" width="6.20" height="9.82" fill="#0090fc"/>
<rect x="205.78" y="58.12" width="3.25" height="9.82" fill="#00ffff"/>
<rect x="208.73" y="58.12" width="74.08" height="9.82" fill="#0090fc"/>
<rect x="282.51" y="58.12" width="6.20" height="9.82" fill="#00ffff"/>
<rect x="288.42" y="58.12" width="6.20" height="9.82" fill="#0090fc"/>
<rect x="294.32" y="58.12" width="3.25" height="9.82" fill="#00ffff"/>
<rect x="297.27" y="58.12" width="6.20" height="9.82" fill="#0090fc"/>
<rect x="303.17" y="58.12" width="9.15" height="9.82" fill="#00ffff"/>
<rect x="312.03" y="58.12" width="9.15" height="9.82" fill="#0090fc"/>
<rect x="320.88" y="58.12" width="3.25" height="9.82" fill="#00ffff"/>
<rect x="323.83" y="58.12" width="3.25" height="9.82" fill="#0090fc"/>
<rect x="326.78" y="58.12" width="6.20" height="9.82" fill="#00ffff"/>
<rect x="332.69" y="58.12" width="3.25" height="9.82" fill="#0090fc"/>
<rect x="335.64" y="58.12" width="56.38" height="9.82" fill="#00ffff"/>
<rect x="391.72" y="58.12" width="3.25" height="9.82" fill="#0090fc"/>
<rect x="394.67" y="58.12" width="3.25" height="9.82" fill="#00ffff"/>
<rect x="397.62" y="58.12" width="9.15" height="9.82" fill="#0090fc"/>
<rect x="406.47" y="58.12" width="12.11" height="9.82" fill="#00ffff"/>
<rect x="418.28" y="58.12" width="3.25" height="9.82" fill="#0090fc"/>
<rect x="421.23" y="58.12" width="3.25" height="9.82" fill="#00ffff"/>
<rect x="424.18" y="58.12" width="3.25" height="9.82" fill="#0090fc"/>
<rect x="427.13" y="58.12" width="29.81" height="9.82" fill="#00ffff"/>
<rect x="456.65" y="58.12" width="3.25" height="9.82" fill="#0090fc"/>
<rect x="459.60" y="58.12" width="41.62" height="9.82" fill="#00ffff"/>
<rect x="500.92" y="58.12" width="3.25" height="9.82" fill="#00c070"/>
<rect x="503.87" y="58.12" width="47.52" height="9.82" fill="#00ffff"/>
<rect x="551.09" y="58.12" width="3.25" height="9.82" fill="#0090fc"/>
<rect x="554.04" y="58.12" width="9.15" height="9.82" fill="#00ffff"/>
<rect x="562.90" y="58.12" width="26.86" height="9.82" fill="#00c070"/>
<rect x="589.46" y="58.12" width="3.25" height="9.82" fill="#00ff20"/>
<rect x="592.41" y="58.12" width="12.11" height="9.82" fill="#00c070"/>
<rect x="604.22" y="58.12" width="3.25" height="9.82" fill="#00ff20"/>
<rect x="607.17" y="58.12" width="20.96" height="9.82" fill="#00c070"/>
<rect x="627.83" y="58.12" width="3.25" height="9.82" fill="#00ff20"/>
<rect x="630.78" y="58.12" width="3.25" height="9.82" fill="#00c070"/>
<rect x="633.73" y="58.12" width="12.11" height="9.82" fill="#00ff20"/>
<rect x="645.53" y="58.12" width="15.06" height="9.82" fill="#00c070"/>
<rect x="660.29" y="58.12" width="6.20" height="9.82" fill="#00ff20"/>
<rect x="666.19" y="58.12" width="6.20" height="9.82" fill="#00c070"/>
<rect x="672.10" y="58.12" width="26.86" height="9.82" fill="#00ff20"/>
<rect x="698.66" y="58.12" width="3.25" height="9.82" fill="#00c070"/>
<rect x="701.61" y="58.12" width="9.15" height="9.82" fill="#00ff20"/>
<rect x="710.47" y="58.12" width="3.25" height="9.82" fill="#00c070"/>
<rect x="713.42" y="58.12" width="3.25" height="9.82" fill="#b4ff00"/>
<rect x="716.37" y="58.12" width="12.11" height="9.82" fill="#00ff20"/>
<rect x="728.17" y="58.12" width="6.20" height="9.82" fill="#b4ff00"/>
<rect x="734.08" y="58.12" width="3.25" height="9.82" fill="#00ff20"/>
<rect x="737.03" y="58.12" width="3.25" height="9.82" fill="#b4ff00"/>
<rect x="739.98" y="58.12" width="3.25" height="9.82" fill="#00ff20"/>
<rect x="742.93" y="58.12" width="12.11" height="9.82" fill="#b4ff00"/>
<rect x="754.74" y="58.12" width="6.20" height="9.82" fill="#ffd400"/>
<rect x="760.64" y="58.12" width="3.25" height="9.82" fill="#b4ff00"/>
<rect x="763.59" y="58.12" width="3.25" height="9.82" fill="#ffd400"/>
<rect x="766.54" y="58.12" width="9.15" height="9.82" fill="#b4ff00"/>
<rect x="775.40" y="58.12" width="12.11" height="9.82" fill="#ffd400"/>
<rect x="787.20" y="58.12" width="3.25" height="9.82" fill="#b4ff00"/>
<rect x="790.15" y="58.12" width="12.11" height="9.82" fill="#ffd400"/>
<rect x="801.96" y="58.12" width="3.25" height="9.82" fill="#ff6a2a"/>
<rect x="804.91" y="58.12" width="9.15" height="9.82" fill="#ffd400"/>
<rect x="813.76" y="58.12" width="3.25" height="9.82" fill="#ff6a2a"/>
<rect x="816.72" y="58.12" width="9.15" height="9.82" fill="#ffd400"/>
<rect x="825.57" y="58.12" width="3.25" height="9.82" fill="#ff6a2a"/>
<rect x="828.52" y="58.12" width="41.62" height="9.82" fill="#ffd400"/>
<rect x="869.84" y="58.12" width="15.06" height="9.82" fill="#ff6a2a"/>
<rect x="884.60" y="58.12" width="6.20" height="9.82" fill="#ff0000"/>
<rect x="40.50" y="67.64" width="15.06" height="9.82" fill="#00ff20"/>
<rect x="55.26" y="67.64" width="3.25" height="9.82" fill="#00c070"/>
<rect x="58.21" y="67.64" width="9.15" height="9.82" fill="#00ff20"/>
<rect x="67.06" y="67.64" width="65.23" height="9.82" fill="#00c070"/>
<rect x="131.99" y="67.64" width="6.20" height="9.82" fill="#00ffff"/>
<rect x="137.90" y="67.64" width="6.20" height="9.82" fill="#00c070"/>
<rect x="143.80" y="67.64" width="56.38" height="9.82" fill="#00ffff"/>
<rect x="199.88" y="67.64" width="85.89" height="9.82" fill="#0090fc"/>
<rect x="285.47" y="67.64" width="3.25" height="9.82" fill="#00ffff"/>
<rect x="288.42" y="67.64" width="18.01" height="9.82" fill="#0090fc"/>
<rect x="306.12" y="67.64" width="6.20" height="9.82" fill="#00ffff"/>
<rect x="312.03" y="67.64" width="23.91" height="9.82" fill="#0090fc"/>
<rect x="335.64" y="67.64" width="53.42" height="9.82" fill="#00ffff"/>
<rect x="388.76" y="67.64" width="6.20" height="9.82" fill="#0090fc"/>
<rect x="394.67" y="67.64" width="3.25" height="9.82" fill="#00ffff"/>
<rect x="397.62" y="67.64" width="38.67" height="9.82" fill="#0090fc"/>
<rect x="435.99" y="67.64" width="20.96" height="9.82" fill="#00ffff"/>
<rect x="456.65" y="67.64" width="6.20" height="9.82" fill="#0090fc"/>
<rect x="462.55" y="67.64" width="3.25" height="9.82" fill="#00ffff"/>
<rect x="465.50" y="67.64" width="3.25" height="9.82" fill="#0090fc"/>
<rect x="468.45" y="67.64" width="6.20" height="9.82" fill="#00ffff"/>
<rect x="474.35" y="67.64" width="3.25" height="9.82" fill="#0090fc"/>
<rect x="477.31" y="67.64" width="50.47" height="9.82" fill="#00ffff"/>
<rect x="527.48" y="67.64" width="3.25" height="9.82" fill="#0090fc"/>
<rect x="530.43" y="67.64" width="18.01" height="9.82" fill="#00ffff"/>
<rect x="548.14" y="67.64" width="6.20" height="9.82" fill="#0090fc"/>
<rect x="554.04" y="67.64" width="6.20" height="9.82" fill="#00ffff"/>
<rect x="559.94" y="67.64" width="3.25" height="9.82" fill="#0090fc"/>
<rect x="562.90" y="67.64" width="23.91" height="9.82" fill="#00c070"/>
<rect x="586.51" y="67.64" width="3.25" height="9.82" fill="#00ffff"/>
<rect x="589.46" y="67.64" width="15.06" height="9.82" fill="#00c070"/>
<rect x="604.22" y="67.64" width="3.25" height="9.82" fill="#00ff20"/>
<rect x="607.17" y="67.64" width="26.86" height="9.82" fill="#00c070"/>
<rect x="633.73" y="67.64" width="3.25" height="9.82" fill="#00ff20"/>
<rect x="636.68" y="67.64" width="3.25" height="9.82" fill="#00c070"/>
<rect x="639.63" y="67.64" width="3.25" height="9.82" fill="#00ff20"/>
<rect x="642.58" y="67.64" width="20.96" height="9.82" fill="#00c070"/>
<rect x="663.24" y="67.64" width="3.25" height="9.82" fill="#00ff20"/>
<rect x="666.19" y="67.64" width="6.20" height="9.82" fill="#00c070"/>
<rect x="672.10" y="67.64" width="26.86" height="9.82" fill="#00ff20"/>
<rect x="698.66" y="67.64" width="3.25" height="9.82" fill="#00c070"/>
<rect x="701.61" y="67.64" width="3.25" height="9.82" fill="#00ff20"/>
<rect x="704.56" y="67.64" width="3.25" height="9.82" fill="#00c070"/>
<rect x="707.51" y="67.64" width="3.25" height="9.82" fill="#00ff20"/>
<rect x="710.47" y="67.64" width="3.25" height="9.82" fill="#00c070"/>
<rect x="713.42" y="67.64" width="3.25" height="9.82" fill="#b4ff00"/>
<rect x="716.37" y="67.64" width="15.06" height="9.82" fill="#00ff20"/>
<rect x="731.12" y="67.64" width="3.25" height="9.82" fill="#b4ff00"/>
<rect x="734.08" y="67.64" width="3.25" height="9.82" fill="#00ff20"/>
<rect x="737.03" y="67.64" width="3.25" height="9.82" fill="#b4ff00"/>
<rect x="739.98" y="67.64" width="3.25" height="9.82" fill="#00ff20"/>
<rect x="742.93" y="67.64" width="3.25" height="9.82" fill="#b4ff00"/>
<rect x="745.88" y="67.64" width="3.25" height="9.82" fill="#00ff20"/>
<rect x="748.83" y="67.64" width="9.15" height="9.82" fill="#b4ff00"/>
<rect x="757.69" y="67.64" width="3.25" height="9.82" fill="#ffd400"/>
<rect x="760.64" y="67.64" width="3.25" height="9.82" fill="#b4ff00"/>
<rect x="763.59" y="67.64" width="3.25" height="9.82" fill="#ffd400"/>
<rect x="766.54" y="67.64" width="23.91" height="9.82" fill="#b4ff00"/>
<rect x="790.15" y="67.64" width="23.91" height="9.82" fill="#ffd400"/>
<rect x="813.76" y="67.64" width="3.25" height="9.82" fill="#ff6a2a"/>
<rect x="816.72" y="67.64" width="32.77" height="9.82" fill="#ffd400"/>
<rect x="849.18" y="67.64" width="6.20" height="9.82" fill="#b4ff00"/>
<rect x="855.08" y="67.64" width="20.96" height="9.82" fill="#ffd400"/>
<rect x="875.74" y="67.64" width="15.06" height="9.82" fill="#ff6a2a"/>
<rect x="40.50" y="77.17" width="15.06" height="9.82" fill="#00ff20"/>
<rect x="55.26" y="77.17" width="3.25" height="9.82" fill="#00c070"/>
<rect x="58.21" y="77.17" width="12.11" height="9.82" fill="#00ff20"/>
<rect x="70.01" y="77.17" width="62.28" height="9.82" fill="#00c070"/>
<rect x="131.99" y="77.17" width="6.20" height="9.82" fill="#00ffff"/>
<rect x="137.90" y="77.17" width="6.20" height="9.82" fill="#00c070"/>
<rect x="143.80" y="77.17" width="56.38" height="9.82" fill="#00ffff"/>
<rect x="199.88" y="77.17" width="141.97" height="9.82" fill="#0090fc"/>
<rect x="341.54" y="77.17" width="6.20" height="9.82" fill="#00ffff"/>
<rect x="347.44" y="77.17" width="6.20" height="9.82" fill="#0090fc"/>
<rect x="353.35" y="77.17" width="35.72" height="9.82" fill="#00ffff"/>
<rect x="388.76" y="77.17" width="50.47" height="9.82" fill="#0090fc"/>
<rect x="438.94" y="77.17" width="3.25" height="9.82" fill="#00ffff"/>
<rect x="441.89" y="77.17" width="6.20" height="9.82" fill="#0090fc"/>
<rect x="447.79" y="77.17" width="3.25" height="9.82" fill="#00ffff"/>
<rect x="450.74" y="77.17" width="3.25" height="9.82" fill="#0090fc"/>
<rect x="453.69" y="77.17" width="3.25" height="9.82" fill="#00ffff"/>
<rect x="456.65" y="77.17" width="35.72" height="9.82" fill="#0090fc"/>
<rect x="492.06" y="77.17" width="6.20" height="9.82" fill="#00ffff"/>
<rect x="497.97" y="77.17" width="3.25" height="9.82" fill="#0090fc"/>
<rect x="500.92" y="77.17" width="12.11" height="9.82" fill="#00ffff"/>
<rect x="512.72" y="77.17" width="3.25" height="9.82" fill="#0090fc"/>
<rect x="515.67" y="77.17" width="6.20" height="9.82" fill="#00ffff"/>
<rect x="521.58" y="77.17" width="20.96" height="9.82" fill="#0090fc"/>
<rect x="542.24" y="77.17" width="3.25" height="9.82" fill="#00ffff"/>
<rect x="545.19" y="77.17" width="9.15" height="9.82" fill="#0090fc"/>
<rect x="554.04" y="77.17" width="3.25" height="9.82" fill="#00ffff"/>
<rect x="556.99" y="77.17" width="6.20" height="9.82" fill="#0090fc"/>
<rect x="562.90" y="77.17" width="15.06" height="9.82" fill="#00ffff"/>
<rect x="577.65" y="77.17" width="3.25" height="9.82" fill="#00c070"/>
<rect x="580.60" y="77.17" width="9.15" height="9.82" fill="#00ffff"/>
<rect x="589.46" y="77.17" width="26.86" height="9.82" fill="#00c070"/>
<rect x="616.02" y="77.17" width="3.25" height="9.82" fill="#00ffff"/>
<rect x="618.97" y="77.17" width="38.67" height="9.82" fill="#00c070"/>
<rect x="657.34" y="77.17" width="3.25" height="9.82" fill="#00ffff"/>
<rect x="660.29" y="77.17" width="12.11" height="9.82" fill="#00c070"/>
<rect x="672.10" y="77.17" width="3.25" height="9.82" fill="#00ff20"/>
<rect x="675.05" y="77.17" width="3.25" height="9.82" fill="#00c070"/>
<rect x="678.00" y="77.17" width="15.06" height="9.82" fill="#00ff20"/>
<rect x="692.76" y="77.17" width="3.25" height="9.82" fill="#00c070"/>
<rect x="695.71" y="77.17" width="3.25" height="9.82" fill="#00ff20"/>
<rect x="698.66" y="77.17" width="15.06" height="9.82" fill="#00c070"/>
<rect x="713.42" y="77.17" width="23.91" height="9.82" fill="#00ff20"/>
<rect x="737.03" y="77.17" width="3.25" height="9.82" fill="#b4ff00"/>
<rect x="739.98" y="77.17" width="9.15" height="9.82" fill="#00ff20"/>
<rect x="748.83" y="77.17" width="3.25" height="9.82" fill="#b4ff00"/>
<rect x="751.78" y="77.17" width="3.25" height="9.82" fill="#00ff20"/>
<rect x="754.74" y="77.17" width="47.52" height="9.82" fill="#b4ff00"/>
<rect x="801.96" y="77.17" width="6.20" height="9.82" fill="#ffd400"/>
<rect x="807.86" y="77.17" width="6.20" height="9.82" fill="#b4ff00"/>
<rect x="813.76" y="77.17" width="3.25" height="9.82" fill="#ffd400"/>
<rect x="816.72" y="77.17" width="9.15" height="9.82" fill="#b4ff00"/>
<rect x="825.57" y="77.17" width="6.20" height="9.82" fill="#ffd400"/>
<rect x="831.47" y="77.17" width="35.72" height="9.82" fill="#b4ff00"/>
<rect x="866.89" y="77.17" width="18.01" height="9.82" fill="#ffd400"/>
<rect x="884.60" y="77.17" width="6.20" height="9.82" fill="#ff6a2a"/>
<rect x="40.50" y="86.69" width="15.06" height="9.82" fill="#00ff20"/>
<rect x="55.26" y="86.69" width="6.20" height="9.82" fill="#00c070"/>
<rect x="61.16" y="86.69" width="3.25" height="9.82" fill="#00ff20"/>
<rect x="64.11" y="86.69" width="3.25" height="9.82" fill="#00c070"/>
<rect x="67.06" y="86.69" width="3.25" height="9.82" fill="#00ff20"/>
<rect x="70.01" y="86.69" width="62.28" height="9.82" fill="#00c070"/>
<rect x="131.99" y="86.69" width="6.20" height="9.82" fill="#00ffff"/>
<rect x="137.90" y="86.69" width="3.25" height="9.82" fill="#00c070"/>
<rect x="140.85" y="86.69" width="59.33" height="9.82" fill="#00ffff"/>
<rect x="199.88" y="86.69" width="156.72" height="9.82" fill="#0090fc"/>
<rect x="356.30" y="86.69" width="3.25" height="9.82" fill="#00ffff"/>
<rect x="359.25" y="86.69" width="3.25" height="9.82" fill="#0090fc"/>
<rect x="362.20" y="86.69" width="15.06" height="9.82" fill="#00ffff"/>
<rect x="376.96" y="86.69" width="3.25" height="9.82" fill="#0090fc"/>
<rect x="379.91" y="86.69" width="6.20" height="9.82" fill="#00ffff"/>
<rect x="385.81" y="86.69" width="177.38" height="9.82" fill="#0090fc"/>
<rect x="562.90" y="86.69" width="15.06" height="9.82" fill="#00ffff"/>
<rect x="577.65" y="86.69" width="3.25" height="9.82" fill="#00c070"/>
<rect x="580.60" y="86.69" width="23.91" height="9.82" fill="#00ffff"/>
<rect x="604.22" y="86.69" width="3.25" height="9.82" fill="#00c070"/>
<rect x="607.17" y="86.69" width="12.11" height="9.82" fill="#00ffff"/>
<rect x="618.97" y="86.69" width="3.25" height="9.82" fill="#00c070"/>
<rect x="621.92" y="86.69" width="6.20" height="9.82" fill="#00ffff"/>
<rect x="627.83" y="86.69" width="3.25" height="9.82" fill="#00c070"/>
<rect x="630.78" y="86.69" width="3.25" height="9.82" fill="#00ffff"/>
<rect x="633.73" y="86.69" width="18.01" height="9.82" fill="#00c070"/>
<rect x="651.44" y="86.69" width="9.15" height="9.82" fill="#00ffff"/>
<rect x="660.29" y="86.69" width="68.18" height="9.82" fill="#00c070"/>
<rect x="728.17" y="86.69" width="18.01" height="9.82" fill="#00ff20"/>
<rect x="745.88" y="86.69" width="3.25" height="9.82" fill="#00c070"/>
<rect x="748.83" y="86.69" width="9.15" height="9.82" fill="#00ff20"/>
<rect x="757.69" y="86.69" width="6.20" height="9.82" fill="#b4ff00"/>
<rect x="763.59" y="86.69" width="12.11" height="9.82" fill="#00ff20"/>
<rect x="775.40" y="86.69" width="3.25" height="9.82" fill="#b4ff00"/>
<rect x="778.35" y="86.69" width="15.06" height="9.82" fill="#00ff20"/>
<rect x="793.10" y="86.69" width="3.25" height="9.82" fill="#b4ff00"/>
<rect x="796.06" y="86.69" width="3.25" height="9.82" fill="#00ff20"/>
<rect x="799.01" y="86.69" width="44.57" height="9.82" fill="#b4ff00"/>
<rect x="843.28" y="86.69" width="3.25" height="9.82" fill="#00ff20"/>
<rect x="846.23" y="86.69" width="3.25" height="9.82" fill="#b4ff00"/>
<rect x="849.18" y="86.69" width="9.15" height="9.82" fill="#00ff20"/>
<rect x="858.03" y="86.69" width="6.20" height="9.82" fill="#b4ff00"/>
<rect x="863.94" y="86.69" width="3.25" height="9.82" fill="#00ff20"/>
<rect x="866.89" y="86.69" width="18.01" height="9.82" fill="#b4ff00"/>
<rect x="884.60" y="86.69" width="6.20" height="9.82" fill="#ffd400"/>
<rect x="40.50" y="96.21" width="32.77" height="9.82" fill="#00ff20"/>
<rect x="72.97" y="96.21" width="9.15" height="9.82" fill="#00c070"/>
<rect x="81.82" y="96.21" width="3.25" height="9.82" fill="#00ff20"/>
<rect x="84.77" y="96.21" width="47.52" height="9.82" fill="#00c070"/>
<rect x="131.99" y="96.21" width="3.25" height="9.82" fill="#00ffff"/>
<rect x="134.94" y="96.21" width="6.20" height="9.82" fill="#00c070"/>
<rect x="140.85" y="96.21" width="59.33" height="9.82" fill="#00ffff"/>
<rect x="199.88" y="96.21" width="162.63" height="9.82" fill="#0090fc"/>
<rect x="362.20" y="96.21" width="3.25" height="9.82" fill="#00ffff"/>
<rect x="365.15" y="96.21" width="6.20" height="9.82" fill="#0090fc"/>
<rect x="371.06" y="96.21" width="3.25" height="9.82" fill="#00ffff"/>
<rect x="374.01" y="96.21" width="9.15" height="9.82" fill="#0090fc"/>
<rect x="382.86" y="96.21" width="3.25" height="9.82" fill="#00ffff"/>
<rect x="385.81" y="96.21" width="12.11" height="9.82" fill="#0090fc"/>
<rect x="397.62" y="96.21" width="3.25" height="9.82" fill="#0424f8"/>
<rect x="400.57" y="96.21" width="20.96" height="9.82" fill="#0090fc"/>
<rect x="421.23" y="96.21" width="3.25" height="9.82" fill="#0424f8"/>
<rect x="424.18" y="96.21" width="3.25" height="9.82" fill="#0090fc"/>
<rect x="427.13" y="96.21" width="9.15" height="9.82" fill="#0424f8"/>
<rect x="435.99" y="96.21" width="38.67" height="9.82" fill="#0090fc"/>
<rect x="474.35" y="96.21" width="3.25" height="9.82" fill="#0424f8"/>
<rect x="477.31" y="96.21" width="50.47" height="9.82" fill="#0090fc"/>
<rect x="527.48" y="96.21" width="6.20" height="9.82" fill="#0424f8"/>
<rect x="533.38" y="96.21" width="3.25" height="9.82" fill="#0090fc"/>
<rect x="536.33" y="96.21" width="3.25" height="9.82" fill="#0424f8"/>
<rect x="539.28" y="96.21" width="9.15" height="9.82" fill="#0090fc"/>
<rect x="548.14" y="96.21" width="3.25" height="9.82" fill="#0424f8"/>
<rect x="551.09" y="96.21" width="15.06" height="9.82" fill="#0090fc"/>
<rect x="565.85" y="96.21" width="3.25" height="9.82" fill="#00ffff"/>
<rect x="568.80" y="96.21" width="3.25" height="9.82" fill="#0090fc"/>
<rect x="571.75" y="96.21" width="91.79" height="9.82" fill="#00ffff"/>
<rect x="663.24" y="96.21" width="3.25" height="9.82" fill="#00c070"/>
<rect x="666.19" y="96.21" width="6.20" height="9.82" fill="#00ffff"/>
<rect x="672.10" y="96.21" width="20.96" height="9.82" fill="#00c070"/>
<rect x="692.76" y="96.21" width="15.06" height="9.82" fill="#00ffff"/>
<rect x="707.51" y="96.21" width="47.52" height="9.82" fill="#00c070"/>
<rect x="754.74" y="96.21" width="12.11" height="9.82" fill="#00ff20"/>
<rect x="766.54" y="96.21" width="3.25" height="9.82" fill="#00c070"/>
<rect x="769.49" y="96.21" width="9.15" height="9.82" fill="#00ff20"/>
<rect x="778.35" y="96.21" width="3.25" height="9.82" fill="#00c070"/>
<rect x="781.30" y="96.21" width="15.06" height="9.82" fill="#00ff20"/>
<rect x="796.06" y="96.21" width="3.25" height="9.82" fill="#00c070"/>
<rect x="799.01" y="96.21" width="44.57" height="9.82" fill="#00ff20"/>
<rect x="843.28" y="96.21" width="3.25" height="9.82" fill="#00c070"/>
<rect x="846.23" y="96.21" width="26.86" height="9.82" fill="#00ff20"/>
<rect x="872.79" y="96.21" width="3.25" height="9.82" fill="#b4ff00"/>
<rect x="875.74" y="96.21" width="3.25" height="9.82" fill="#00ff20"/>
<rect x="878.69" y="96.21" width="12.11" height="9.82" fill="#b4ff00"/>
<rect x="40.50" y="105.74" width="32.77" height="9.82" fill="#00ff20"/>
<rect x="72.97" y="105.74" width="9.15" height="9.82" fill="#00c070"/>
<rect x="81.82" y="105.74" width="3.25" height="9.82" fill="#00ff20"/>
<rect x="84.77" y="105.74" width="3.25" height="9.82" fill="#00c070"/>
<rect x="87.72" y="105.74" width="3.25" height="9.82" fill="#00ff20"/>
<rect x="90.67" y="105.74" width="50.47" height="9.82" fill="#00c070"/>
<rect x="140.85" y="105.74" width="62.28" height="9.82" fill="#00ffff"/>
<rect x="202.83" y="105.74" width="56.38" height="9.82" fill="#0090fc"/>
<rect x="258.90" y="105.74" width="3.25" height="9.82" fill="#0424f8"/>
<rect x="261.85" y="105.74" width="56.38" height="9.82" fill="#0090fc"/>
<rect x="317.93" y="105.74" width="6.20" height="9.82" fill="#0424f8"/>
<rect x="323.83" y="105.74" width="65.23" height="9.82" fill="#0090fc"/>
<rect x="388.76" y="105.74" width="12.11" height="9.82" fill="#0424f8"/>
<rect x="400.57" y="105.74" width="6.20" height="9.82" fill="#0090fc"/>
<rect x="406.47" y="105.74" width="6.20" height="9.82" fill="#0424f8"/>
<rect x="412.38" y="105.74" width="3.25" height="9.82" fill="#0090fc"/>
<rect x="415.33" y="105.74" width="23.91" height="9.82" fill="#0424f8"/>
<rect x="438.94" y="105.74" width="12.11" height="9.82" fill="#0090fc"/>
<rect x="450.74" y="105.74" width="3.25" height="9.82" fill="#0424f8"/>
<rect x="453.69" y="105.74" width="3.25" height="9.82" fill="#0090fc"/>
<rect x="456.65" y="105.74" width="6.20" height="9.82" fill="#0424f8"/>
<rect x="462.55" y="105.74" width="3.25" height="9.82" fill="#0090fc"/>
<rect x="465.50" y="105.74" width="26.86" height="9.82" fill="#0424f8"/>
<rect x="492.06" y="105.74" width="6.20" height="9.82" fill="#0090fc"/>
<rect x="497.97" y="105.74" width="9.15" height="9.82" fill="#0424f8"/>
<rect x="506.82" y="105.74" width="15.06" height="9.82" fill="#0090fc"/>
<rect x="521.58" y="105.74" width="38.67" height="9.82" fill="#0424f8"/>
<rect x="559.94" y="105.74" width="15.06" height="9.82" fill="#0090fc"/>
<rect x="574.70" y="105.74" width="6.20" height="9.82" fill="#00ffff"/>
<rect x="580.60" y="105.74" width="12.11" height="9.82" fill="#0090fc"/>
<rect x="592.41" y="105.74" width="3.25" height="9.82" fill="#00ffff"/>
<rect x="595.36" y="105.74" width="9.15" height="9.82" fill="#0090fc"/>
<rect x="604.22" y="105.74" width="9.15" height="9.82" fill="#00ffff"/>
<rect x="613.07" y="105.74" width="6.20" height="9.82" fill="#0090fc"/>
<rect x="618.97" y="105.74" width="3.25" height="9.82" fill="#00ffff"/>
<rect x="621.92" y="105.74" width="6.20" height="9.82" fill="#0090fc"/>
<rect x="627.83" y="105.74" width="26.86" height="9.82" fill="#00ffff"/>
<rect x="654.39" y="105.74" width="6.20" height="9.82" fill="#0090fc"/>
<rect x="660.29" y="105.74" width="26.86" height="9.82" fill="#00ffff"/>
<rect x="686.85" y="105.74" width="3.25" height="9.82" fill="#00c070"/>
<rect x="689.81" y="105.74" width="38.67" height="9.82" fill="#00ffff"/>
<rect x="728.17" y="105.74" width="9.15" height="9.82" fill="#00c070"/>
<rect x="737.03" y="105.74" width="3.25" height="9.82" fill="#00ffff"/>
<rect x="739.98" y="105.74" width="6.20" height="9.82" fill="#00c070"/>
<rect x="745.88" y="105.74" width="3.25" height="9.82" fill="#00ffff"/>
<rect x="748.83" y="105.74" width="12.11" height="9.82" fill="#00c070"/>
<rect x="760.64" y="105.74" width="3.25" height="9.82" fill="#00ff20"/>
<rect x="763.59" y="105.74" width="41.62" height="9.82" fill="#00c070"/>
<rect x="804.91" y="105.74" width="3.25" height="9.82" fill="#00ff20"/>
<rect x="807.86" y="105.74" width="12.11" height="9.82" fill="#00c070"/>
<rect x="819.67" y="105.74" width="3.25" height="9.82" fill="#00ff20"/>
<rect x="822.62" y="105.74" width="50.47" height="9.82" fill="#00c070"/>
<rect x="872.79" y="105.74" width="15.06" height="9.82" fill="#00ff20"/>
<rect x="887.55" y="105.74" width="3.25" height="9.82" fill="#b4ff00"/>
<rect x="40.50" y="115.26" width="53.42" height="9.82" fill="#00ff20"/>
<rect x="93.62" y="115.26" width="3.25" height="9.82" fill="#00c070"/>
<rect x="96.58" y="115.26" width="3.25" height="9.82" fill="#00ff20"/>
<rect x="99.53" y="115.26" width="41.62" height="9.82" fill="#00c070"/>
<rect x="140.85" y="115.26" width="3.25" height="9.82" fill="#00ffff"/>
<rect x="143.80" y="115.26" width="3.25" height="9.82" fill="#00c070"/>
<rect x="146.75" y="115.26" width="3.25" height="9.82" fill="#00ffff"/>
<rect x="149.70" y="115.26" width="9.15" height="9.82" fill="#00c070"/>
<rect x="158.56" y="115.26" width="47.52" height="9.82" fill="#00ffff"/>
<rect x="205.78" y="115.26" width="3.25" height="9.82" fill="#0090fc"/>
<rect x="208.73" y="115.26" width="3.25" height="9.82" fill="#00ffff"/>
<rect x="211.68" y="115.26" width="106.55" height="9.82" fill="#0090fc"/>
<rect x="317.93" y="115.26" width="6.20" height="9.82" fill="#0424f8"/>
<rect x="323.83" y="115.26" width="6.20" height="9.82" fill="#0090fc"/>
<rect x="329.74" y="115.26" width="6.20" height="9.82" fill="#0424f8"/>
<rect x="335.64" y="115.26" width="53.42" height="9.82" fill="#0090fc"/>
<rect x="388.76" y="115.26" width="50.47" height="9.82" fill="#0424f8"/>
<rect x="438.94" y="115.26" width="6.20" height="9.82" fill="#0090fc"/>
<rect x="444.84" y="115.26" width="50.47" height="9.82" fill="#0424f8"/>
<rect x="495.01" y="115.26" width="3.25" height="9.82" fill="#0090fc"/>
<rect x="497.97" y="115.26" width="18.01" height="9.82" fill="#0424f8"/>
<rect x="515.67" y="115.26" width="3.25" height="9.82" fill="#0090fc"/>
<rect x="518.62" y="115.26" width="41.62" height="9.82" fill="#0424f8"/>
<rect x="559.94" y="115.26" width="3.25" height="9.82" fill="#0090fc"/>
<rect x="562.90" y="115.26" width="3.25" height="9.82" fill="#0424f8"/>
<rect x="565.85" y="115.26" width="3.25" height="9.82" fill="#0090fc"/>
<rect x="568.80" y="115.26" width="3.25" height="9.82" fill="#0424f8"/>
<rect x="571.75" y="115.26" width="6.20" height="9.82" fill="#0090fc"/>
<rect x="577.65" y="115.26" width="3.25" height="9.82" fill="#00ffff"/>
<rect x="580.60" y="115.26" width="68.18" height="9.82" fill="#0090fc"/>
<rect x="648.49" y="115.26" width="6.20" height="9.82" fill="#00ffff"/>
<rect x="654.39" y="115.26" width="9.15" height="9.82" fill="#0090fc"/>
<rect x="663.24" y="115.26" width="32.77" height="9.82" fill="#00ffff"/>
<rect x="695.71" y="115.26" width="9.15" height="9.82" fill="#0090fc"/>
<rect x="704.56" y="115.26" width="9.15" height="9.82" fill="#00ffff"/>
<rect x="713.42" y="115.26" width="3.25" height="9.82" fill="#0090fc"/>
<rect x="716.37" y="115.26" width="9.15" height="9.82" fill="#00ffff"/>
<rect x="725.22" y="115.26" width="3.25" height="9.82" fill="#0090fc"/>
<rect x="728.17" y="115.26" width="12.11" height="9.82" fill="#00ffff"/>
<rect x="739.98" y="115.26" width="6.20" height="9.82" fill="#00c070"/>
<rect x="745.88" y="115.26" width="9.15" height="9.82" fill="#00ffff"/>
<rect x="754.74" y="115.26" width="6.20" height="9.82" fill="#00c070"/>
<rect x="760.64" y="115.26" width="3.25" height="9.82" fill="#00ff20"/>
<rect x="763.59" y="115.26" width="9.15" height="9.82" fill="#00ffff"/>
<rect x="772.44" y="115.26" width="6.20" height="9.82" fill="#00c070"/>
<rect x="778.35" y="115.26" width="9.15" height="9.82" fill="#00ffff"/>
<rect x="787.20" y="115.26" width="3.25" height="9.82" fill="#00c070"/>
<rect x="790.15" y="115.26" width="12.11" height="9.82" fill="#00ffff"/>
<rect x="801.96" y="115.26" width="9.15" height="9.82" fill="#00c070"/>
<rect x="810.81" y="115.26" width="6.20" height="9.82" fill="#00ffff"/>
<rect x="816.72" y="115.26" width="9.15" height="9.82" fill="#00c070"/>
<rect x="825.57" y="115.26" width="3.25" height="9.82" fill="#00ffff"/>
<rect x="828.52" y="115.26" width="3.25" height="9.82" fill="#00c070"/>
<rect x="831.47" y="115.26" width="3.25" height="9.82" fill="#00ffff"/>
<rect x="834.42" y="115.26" width="6.20" height="9.82" fill="#00c070"/>
<rect x="840.33" y="115.26" width="12.11" height="9.82" fill="#00ffff"/>
<rect x="852.13" y="115.26" width="3.25" height="9.82" fill="#00c070"/>
<rect x="855.08" y="115.26" width="3.25" height="9.82" fill="#00ffff"/>
<rect x="858.03" y="115.26" width="6.20" height="9.82" fill="#00c070"/>
<rect x="863.94" y="115.26" width="3.25" height="9.82" fill="#00ffff"/>
<rect x="866.89" y="115.26" width="20.96" height="9.82" fill="#00c070"/>
<rect x="887.55" y="115.26" width="3.25" height="9.82" fill="#00ff20"/>
<rect x="40.50" y="124.79" width="3.25" height="9.82" fill="#b4ff00"/>
<rect x="43.45" y="124.79" width="3.25" height="9.82" fill="#00ff20"/>
<rect x="46.40" y="124.79" width="3.25" height="9.82" fill="#b4ff00"/>
<rect x="49.35" y="124.79" width="59.33" height="9.82" fill="#00ff20"/>
<rect x="108.38" y="124.79" width="3.25" height="9.82" fill="#00c070"/>
<rect x="111.33" y="124.79" width="3.25" height="9.82" fill="#00ff20"/>
<rect x="114.28" y="124.79" width="3.25" height="9.82" fill="#00c070"/>
<rect x="117.24" y="124.79" width="3.25" height="9.82" fill="#00ff20"/>
<rect x="120.19" y="124.79" width="44.57" height="9.82" fill="#00c070"/>
<rect x="164.46" y="124.79" width="18.01" height="9.82" fill="#00ffff"/>
<rect x="182.17" y="124.79" width="3.25" height="9.82" fill="#00c070"/>
<rect x="185.12" y="124.79" width="29.81" height="9.82" fill="#00ffff"/>
<rect x="214.63" y="124.79" width="103.60" height="9.82" fill="#0090fc"/>
<rect x="317.93" y="124.79" width="3.25" height="9.82" fill="#0424f8"/>
<rect x="320.88" y="124.79" width="9.15" height="9.82" fill="#0090fc"/>
<rect x="329.74" y="124.79" width="6.20" height="9.82" fill="#0424f8"/>
<rect x="335.64" y="124.79" width="12.11" height="9.82" fill="#0090fc"/>
<rect x="347.44" y="124.79" width="3.25" height="9.82" fill="#0424f8"/>
<rect x="350.40" y="124.79" width="38.67" height="9.82" fill="#0090fc"/>
<rect x="388.76" y="124.79" width="53.42" height="9.82" fill="#0424f8"/>
<rect x="441.89" y="124.79" width="3.25" height="9.82" fill="#0090fc"/>
<rect x="444.84" y="124.79" width="71.13" height="9.82" fill="#0424f8"/>
<rect x="515.67" y="124.79" width="3.25" height="9.82" fill="#0090fc"/>
<rect x="518.62" y="124.79" width="47.52" height="9.82" fill="#0424f8"/>
<rect x="565.85" y="124.79" width="3.25" height="9.82" fill="#0090fc"/>
<rect x="568.80" y="124.79" width="3.25" height="9.82" fill="#0424f8"/>
<rect x="571.75" y="124.79" width="6.20" height="9.82" fill="#0090fc"/>
<rect x="577.65" y="124.79" width="3.25" height="9.82" fill="#00ffff"/>
<rect x="580.60" y="124.79" width="15.06" height="9.82" fill="#0090fc"/>
<rect x="595.36" y="124.79" width="3.25" height="9.82" fill="#0424f8"/>
<rect x="598.31" y="124.79" width="15.06" height="9.82" fill="#0090fc"/>
<rect x="613.07" y="124.79" width="3.25" height="9.82" fill="#0424f8"/>
<rect x="616.02" y="124.79" width="6.20" height="9.82" fill="#0090fc"/>
<rect x="621.92" y="124.79" width="3.25" height="9.82" fill="#0424f8"/>
<rect x="624.88" y="124.79" width="23.91" height="9.82" fill="#0090fc"/>
<rect x="648.49" y="124.79" width="3.25" height="9.82" fill="#00ffff"/>
<rect x="651.44" y="124.79" width="3.25" height="9.82" fill="#0090fc"/>
<rect x="654.39" y="124.79" width="3.25" height="9.82" fill="#0424f8"/>
<rect x="657.34" y="124.79" width="6.20" height="9.82" fill="#0090fc"/>
<rect x="663.24" y="124.79" width="6.20" height="9.82" fill="#00ffff"/>
<rect x="669.15" y="124.79" width="6.20" height="9.82" fill="#0090fc"/>
<rect x="675.05" y="124.79" width="20.96" height="9.82" fill="#00ffff"/>
<rect x="695.71" y="124.79" width="12.11" height="9.82" fill="#0090fc"/>
<rect x="707.51" y="124.79" width="6.20" height="9.82" fill="#00ffff"/>
<rect x="713.42" y="124.79" width="3.25" height="9.82" fill="#0090fc"/>
<rect x="716.37" y="124.79" width="9.15" height="9.82" fill="#00ffff"/>
<rect x="725.22" y="124.79" width="3.25" height="9.82" fill="#0090fc"/>
<rect x="728.17" y="124.79" width="9.15" height="9.82" fill="#00ffff"/>
<rect x="737.03" y="124.79" width="3.25" height="9.82" fill="#0090fc"/>
<rect x="739.98" y="124.79" width="6.20" height="9.82" fill="#00ffff"/>
<rect x="745.88" y="124.79" width="3.25" height="9.82" fill="#0090fc"/>
<rect x="748.83" y="124.79" width="12.11" height="9.82" fill="#00ffff"/>
<rect x="760.64" y="124.79" width="3.25" height="9.82" fill="#00c070"/>
<rect x="763.59" y="124.79" width="56.38" height="9.82" fill="#00ffff"/>
<rect x="819.67" y="124.79" width="3.25" height="9.82" fill="#00c070"/>
<rect x="822.62" y="124.79" width="50.47" height="9.82" fill="#00ffff"/>
<rect x="872.79" y="124.79" width="3.25" height="9.82" fill="#00c070"/>
<rect x="875.74" y="124.79" width="6.20" height="9.82" fill="#00ffff"/>
<rect x="881.65" y="124.79" width="3.25" height="9.82" fill="#00c070"/>
<rect x="884.60" y="124.79" width="3.25" height="9.82" fill="#00ffff"/>
<rect x="887.55" y="124.79" width="3.25" height="9.82" fill="#00c070"/>
<rect x="40.50" y="134.31" width="18.01" height="9.82" fill="#b4ff00"/>
<rect x="58.21" y="134.31" width="3.25" height="9.82" fill="#00ff20"/>
<rect x="61.16" y="134.31" width="3.25" height="9.82" fill="#b4ff00"/>
<rect x="64.11" y="134.31" width="3.25" height="9.82" fill="#00ff20"/>
<rect x="67.06" y="134.31" width="6.20" height="9.82" fill="#b4ff00"/>
<rect x="72.97" y="134.31" width="65.23" height="9.82" fill="#00ff20"/>
<rect x="137.90" y="134.31" width="35.72" height="9.82" fill="#00c070"/>
<rect x="173.31" y="134.31" width="9.15" height="9.82" fill="#00ffff"/>
<rect x="182.17" y="134.31" width="9.15" height="9.82" fill="#00c070"/>
<rect x="191.02" y="134.31" width="26.86" height="9.82" fill="#00ffff"/>
<rect x="217.58" y="134.31" width="3.25" height="9.82" fill="#0090fc"/>
<rect x="220.53" y="134.31" width="3.25" height="9.82" fill="#00ffff"/>
<rect x="223.49" y="134.31" width="94.74" height="9.82" fill="#0090fc"/>
<rect x="317.93" y="134.31" width="3.25" height="9.82" fill="#0424f8"/>
<rect x="320.88" y="134.31" width="15.06" height="9.82" fill="#0090fc"/>
<rect x="335.64" y="134.31" width="3.25" height="9.82" fill="#0424f8"/>
<rect x="338.59" y="134.31" width="50.47" height="9.82" fill="#0090fc"/>
<rect x="388.76" y="134.31" width="15.06" height="9.82" fill="#0424f8"/>
<rect x="403.52" y="134.31" width="3.25" height="9.82" fill="#0090fc"/>
<rect x="406.47" y="134.31" width="35.72" height="9.82" fill="#0424f8"/>
<rect x="441.89" y="134.31" width="3.25" height="9.82" fill="#0090fc"/>
<rect x="444.84" y="134.31" width="130.16" height="9.82" fill="#0424f8"/>
<rect x="574.70" y="134.31" width="6.20" height="9.82" fill="#0090fc"/>
<rect x="580.60" y="134.31" width="6.20" height="9.82" fill="#0424f8"/>
<rect x="586.51" y="134.31" width="3.25" height="9.82" fill="#0090fc"/>
<rect x="589.46" y="134.31" width="3.25" height="9.82" fill="#0424f8"/>
<rect x="592.41" y="134.31" width="3.25" height="9.82" fill="#0090fc"/>
<rect x="595.36" y="134.31" width="9.15" height="9.82" fill="#0424f8"/>
<rect x="604.22" y="134.31" width="9.15" height="9.82" fill="#0090fc"/>
<rect x="613.07" y="134.31" width="6.20" height="9.82" fill="#0424f8"/>
<rect x="618.97" y="134.31" width="3.25" height="9.82" fill="#0090fc"/>
<rect x="621.92" y="134.31" width="6.20" height="9.82" fill="#0424f8"/>
<rect x="627.83" y="134.31" width="26.86" height="9.82" fill="#0090fc"/>
<rect x="654.39" y="134.31" width="6.20" height="9.82" fill="#0424f8"/>
<rect x="660.29" y="134.31" width="35.72" height="9.82" fill="#0090fc"/>
<rect x="695.71" y="134.31" width="3.25" height="9.82" fill="#0424f8"/>
<rect x="698.66" y="134.31" width="9.15" height="9.82" fill="#0090fc"/>
<rect x="707.51" y="134.31" width="6.20" height="9.82" fill="#00ffff"/>
<rect x="713.42" y="134.31" width="3.25" height="9.82" fill="#0424f8"/>
<rect x="716.37" y="134.31" width="18.01" height="9.82" fill="#0090fc"/>
<rect x="734.08" y="134.31" width="3.25" height="9.82" fill="#00ffff"/>
<rect x="737.03" y="134.31" width="3.25" height="9.82" fill="#0090fc"/>
<rect x="739.98" y="134.31" width="6.20" height="9.82" fill="#00ffff"/>
<rect x="745.88" y="134.31" width="12.11" height="9.82" fill="#0090fc"/>
<rect x="757.69" y="134.31" width="3.25" height="9.82" fill="#00ffff"/>
<rect x="760.64" y="134.31" width="3.25" height="9.82" fill="#00c070"/>
<rect x="763.59" y="134.31" width="12.11" height="9.82" fill="#0090fc"/>
<rect x="775.40" y="134.31" width="3.25" height="9.82" fill="#00ffff"/>
<rect x="778.35" y="134.31" width="9.15" height="9.82" fill="#0090fc"/>
<rect x="787.20" y="134.31" width="3.25" height="9.82" fill="#00ffff"/>
<rect x="790.15" y="134.31" width="15.06" height="9.82" fill="#0090fc"/>
<rect x="804.91" y="134.31" width="6.20" height="9.82" fill="#00ffff"/>
<rect x="810.81" y="134.31" width="6.20" height="9.82" fill="#0090fc"/>
<rect x="816.72" y="134.31" width="9.15" height="9.82" fill="#00ffff"/>
<rect x="825.57" y="134.31" width="3.25" height="9.82" fill="#0090fc"/>
<rect x="828.52" y="134.31" width="3.25" height="9.82" fill="#00ffff"/>
<rect x="831.47" y="134.31" width="3.25" height="9.82" fill="#0090fc"/>
<rect x="834.42" y="134.31" width="6.20" height="9.82" fill="#00ffff"/>
<rect x="840.33" y="134.31" width="12.11" height="9.82" fill="#0090fc"/>
<rect x="852.13" y="134.31" width="3.25" height="9.82" fill="#00ffff"/>
<rect x="855.08" y="134.31" width="12.11" height="9.82" fill="#0090fc"/>
<rect x="866.89" y="134.31" width="3.25" height="9.82" fill="#00ffff"/>
<rect x="869.84" y="134.31" width="3.25" height="9.82" fill="#0090fc"/>
<rect x="872.79" y="134.31" width="18.01" height="9.82" fill="#00ffff"/>
<rect x="40.50" y="143.83" width="59.33" height="9.82" fill="#b4ff00"/>
<rect x="99.53" y="143.83" width="41.62" height="9.82" fill="#00ff20"/>
<rect x="140.85" y="143.83" width="3.25" height="9.82" fill="#00c070"/>
<rect x="143.80" y="143.83" width="3.25" height="9.82" fill="#00ff20"/>
<rect x="146.75" y="143.83" width="3.25" height="9.82" fill="#00c070"/>
<rect x="149.70" y="143.83" width="3.25" height="9.82" fill="#00ff20"/>
<rect x="152.65" y="143.83" width="53.42" height="9.82" fill="#00c070"/>
<rect x="205.78" y="143.83" width="38.67" height="9.82" fill="#00ffff"/>
<rect x="244.15" y="143.83" width="9.15" height="9.82" fill="#0090fc"/>
<rect x="253.00" y="143.83" width="3.25" height="9.82" fill="#00ffff"/>
<rect x="255.95" y="143.83" width="6.20" height="9.82" fill="#0090fc"/>
<rect x="261.85" y="143.83" width="3.25" height="9.82" fill="#00ffff"/>
<rect x="264.81" y="143.83" width="71.13" height="9.82" fill="#0090fc"/>
<rect x="335.64" y="143.83" width="3.25" height="9.82" fill="#0424f8"/>
<rect x="338.59" y="143.83" width="50.47" height="9.82" fill="#0090fc"/>
<rect x="388.76" y="143.83" width="12.11" height="9.82" fill="#0424f8"/>
<rect x="400.57" y="143.83" width="6.20" height="9.82" fill="#0090fc"/>
<rect x="406.47" y="143.83" width="171.48" height="9.82" fill="#0424f8"/>
<rect x="577.65" y="143.83" width="3.25" height="9.82" fill="#0090fc"/>
<rect x="580.60" y="143.83" width="68.18" height="9.82" fill="#0424f8"/>
<rect x="648.49" y="143.83" width="6.20" height="9.82" fill="#0090fc"/>
<rect x="654.39" y="143.83" width="9.15" height="9.82" fill="#0424f8"/>
<rect x="663.24" y="143.83" width="9.15" height="9.82" fill="#0090fc"/>
<rect x="672.10" y="143.83" width="3.25" height="9.82" fill="#0424f8"/>
<rect x="675.05" y="143.83" width="20.96" height="9.82" fill="#0090fc"/>
<rect x="695.71" y="143.83" width="9.15" height="9.82" fill="#0424f8"/>
<rect x="704.56" y="143.83" width="9.15" height="9.82" fill="#0090fc"/>
<rect x="713.42" y="143.83" width="3.25" height="9.82" fill="#0424f8"/>
<rect x="716.37" y="143.83" width="23.91" height="9.82" fill="#0090fc"/>
<rect x="739.98" y="143.83" width="3.25" height="9.82" fill="#00ffff"/>
<rect x="742.93" y="143.83" width="3.25" height="9.82" fill="#0090fc"/>
<rect x="745.88" y="143.83" width="3.25" height="9.82" fill="#0424f8"/>
<rect x="748.83" y="143.83" width="12.11" height="9.82" fill="#0090fc"/>
<rect x="760.64" y="143.83" width="3.25" height="9.82" fill="#00ffff"/>
<rect x="763.59" y="143.83" width="26.86" height="9.82" fill="#0090fc"/>
<rect x="790.15" y="143.83" width="3.25" height="9.82" fill="#0424f8"/>
<rect x="793.10" y="143.83" width="94.74" height="9.82" fill="#0090fc"/>
<rect x="887.55" y="143.83" width="3.25" height="9.82" fill="#00ffff"/>
<rect x="40.50" y="153.36" width="12.11" height="9.82" fill="#ffd400"/>
<rect x="52.31" y="153.36" width="3.25" height="9.82" fill="#b4ff00"/>
<rect x="55.26" y="153.36" width="3.25" height="9.82" fill="#ffd400"/>
<rect x="58.21" y="153.36" width="9.15" height="9.82" fill="#b4ff00"/>
<rect x="67.06" y="153.36" width="3.25" height="9.82" fill="#ffd400"/>
<rect x="70.01" y="153.36" width="53.42" height="9.82" fill="#b4ff00"/>
<rect x="123.14" y="153.36" width="3.25" height="9.82" fill="#00ff20"/>
<rect x="126.09" y="153.36" width="9.15" height="9.82" fill="#b4ff00"/>
<rect x="134.94" y="153.36" width="32.77" height="9.82" fill="#00ff20"/>
<rect x="167.41" y="153.36" width="47.52" height="9.82" fill="#00c070"/>
<rect x="214.63" y="153.36" width="68.18" height="9.82" fill="#00ffff"/>
<rect x="282.51" y="153.36" width="6.20" height="9.82" fill="#0090fc"/>
<rect x="288.42" y="153.36" width="3.25" height="9.82" fill="#00ffff"/>
<rect x="291.37" y="153.36" width="115.40" height="9.82" fill="#0090fc"/>
<rect x="406.47" y="153.36" width="3.25" height="9.82" fill="#0424f8"/>
<rect x="409.42" y="153.36" width="3.25" height="9.82" fill="#0090fc"/>
<rect x="412.38" y="153.36" width="6.20" height="9.82" fill="#0424f8"/>
<rect x="418.28" y="153.36" width="3.25" height="9.82" fill="#0090fc"/>
<rect x="421.23" y="153.36" width="3.25" height="9.82" fill="#0424f8"/>
<rect x="424.18" y="153.36" width="3.25" height="9.82" fill="#0090fc"/>
<rect x="427.13" y="153.36" width="38.67" height="9.82" fill="#0424f8"/>
<rect x="465.50" y="153.36" width="3.25" height="9.82" fill="#0090fc"/>
<rect x="468.45" y="153.36" width="198.04" height="9.82" fill="#0424f8"/>
<rect x="666.19" y="153.36" width="3.25" height="9.82" fill="#0090fc"/>
<rect x="669.15" y="153.36" width="35.72" height="9.82" fill="#0424f8"/>
<rect x="704.56" y="153.36" width="9.15" height="9.82" fill="#0090fc"/>
<rect x="713.42" y="153.36" width="3.25" height="9.82" fill="#0424f8"/>
<rect x="716.37" y="153.36" width="12.11" height="9.82" fill="#0090fc"/>
<rect x="728.17" y="153.36" width="3.25" height="9.82" fill="#0424f8"/>
<rect x="731.12" y="153.36" width="15.06" height="9.82" fill="#0090fc"/>
<rect x="745.88" y="153.36" width="6.20" height="9.82" fill="#0424f8"/>
<rect x="751.78" y="153.36" width="32.77" height="9.82" fill="#0090fc"/>
<rect x="784.25" y="153.36" width="3.25" height="9.82" fill="#0424f8"/>
<rect x="787.20" y="153.36" width="3.25" height="9.82" fill="#0090fc"/>
<rect x="790.15" y="153.36" width="15.06" height="9.82" fill="#0424f8"/>
<rect x="804.91" y="153.36" width="9.15" height="9.82" fill="#0090fc"/>
<rect x="813.76" y="153.36" width="6.20" height="9.82" fill="#0424f8"/>
<rect x="819.67" y="153.36" width="20.96" height="9.82" fill="#0090fc"/>
<rect x="840.33" y="153.36" width="6.20" height="9.82" fill="#0424f8"/>
<rect x="846.23" y="153.36" width="29.81" height="9.82" fill="#0090fc"/>
<rect x="875.74" y="153.36" width="3.25" height="9.82" fill="#0424f8"/>
<rect x="878.69" y="153.36" width="12.11" height="9.82" fill="#0090fc"/>
<rect x="40.50" y="162.88" width="59.33" height="9.82" fill="#ffd400"/>
<rect x="99.53" y="162.88" width="18.01" height="9.82" fill="#b4ff00"/>
<rect x="117.24" y="162.88" width="3.25" height="9.82" fill="#ffd400"/>
<rect x="120.19" y="162.88" width="20.96" height="9.82" fill="#b4ff00"/>
<rect x="140.85" y="162.88" width="3.25" height="9.82" fill="#00ff20"/>
<rect x="143.80" y="162.88" width="9.15" height="9.82" fill="#b4ff00"/>
<rect x="152.65" y="162.88" width="47.52" height="9.82" fill="#00ff20"/>
<rect x="199.88" y="162.88" width="3.25" height="9.82" fill="#00c070"/>
<rect x="202.83" y="162.88" width="3.25" height="9.82" fill="#00ff20"/>
<rect x="205.78" y="162.88" width="3.25" height="9.82" fill="#00c070"/>
<rect x="208.73" y="162.88" width="3.25" height="9.82" fill="#00ff20"/>
<rect x="211.68" y="162.88" width="38.67" height="9.82" fill="#00c070"/>
<rect x="250.05" y="162.88" width="3.25" height="9.82" fill="#00ffff"/>
<rect x="253.00" y="162.88" width="3.25" height="9.82" fill="#00c070"/>
<rect x="255.95" y="162.88" width="3.25" height="9.82" fill="#00ffff"/>
<rect x="258.90" y="162.88" width="3.25" height="9.82" fill="#00c070"/>
<rect x="261.85" y="162.88" width="44.57" height="9.82" fill="#00ffff"/>
<rect x="306.12" y="162.88" width="3.25" height="9.82" fill="#0090fc"/>
<rect x="309.08" y="162.88" width="18.01" height="9.82" fill="#00ffff"/>
<rect x="326.78" y="162.88" width="3.25" height="9.82" fill="#0090fc"/>
<rect x="329.74" y="162.88" width="6.20" height="9.82" fill="#00ffff"/>
<rect x="335.64" y="162.88" width="180.33" height="9.82" fill="#0090fc"/>
<rect x="515.67" y="162.88" width="3.25" height="9.82" fill="#0424f8"/>
<rect x="518.62" y="162.88" width="6.20" height="9.82" fill="#0090fc"/>
<rect x="524.53" y="162.88" width="3.25" height="9.82" fill="#0424f8"/>
<rect x="527.48" y="162.88" width="3.25" height="9.82" fill="#0090fc"/>
<rect x="530.43" y="162.88" width="15.06" height="9.82" fill="#0424f8"/>
<rect x="545.19" y="162.88" width="3.25" height="9.82" fill="#0090fc"/>
<rect x="548.14" y="162.88" width="3.25" height="9.82" fill="#0424f8"/>
<rect x="551.09" y="162.88" width="3.25" height="9.82" fill="#0090fc"/>
<rect x="554.04" y="162.88" width="3.25" height="9.82" fill="#0424f8"/>
<rect x="556.99" y="162.88" width="3.25" height="9.82" fill="#0090fc"/>
<rect x="559.94" y="162.88" width="9.15" height="9.82" fill="#0424f8"/>
<rect x="568.80" y="162.88" width="3.25" height="9.82" fill="#0090fc"/>
<rect x="571.75" y="162.88" width="85.89" height="9.82" fill="#0424f8"/>
<rect x="657.34" y="162.88" width="3.25" height="9.82" fill="#0090fc"/>
<rect x="660.29" y="162.88" width="6.20" height="9.82" fill="#0424f8"/>
<rect x="666.19" y="162.88" width="6.20" height="9.82" fill="#0090fc"/>
<rect x="672.10" y="162.88" width="3.25" height="9.82" fill="#0424f8"/>
<rect x="675.05" y="162.88" width="3.25" height="9.82" fill="#0090fc"/>
<rect x="678.00" y="162.88" width="26.86" height="9.82" fill="#0424f8"/>
<rect x="704.56" y="162.88" width="9.15" height="9.82" fill="#0090fc"/>
<rect x="713.42" y="162.88" width="3.25" height="9.82" fill="#0424f8"/>
<rect x="716.37" y="162.88" width="12.11" height="9.82" fill="#0090fc"/>
<rect x="728.17" y="162.88" width="3.25" height="9.82" fill="#0424f8"/>
<rect x="731.12" y="162.88" width="12.11" height="9.82" fill="#0090fc"/>
<rect x="742.93" y="162.88" width="3.25" height="9.82" fill="#0424f8"/>
<rect x="745.88" y="162.88" width="3.25" height="9.82" fill="#0090fc"/>
<rect x="748.83" y="162.88" width="3.25" height="9.82" fill="#0424f8"/>
<rect x="751.78" y="162.88" width="32.77" height="9.82" fill="#0090fc"/>
<rect x="784.25" y="162.88" width="3.25" height="9.82" fill="#0424f8"/>
<rect x="787.20" y="162.88" width="3.25" height="9.82" fill="#0090fc"/>
<rect x="790.15" y="162.88" width="6.20" height="9.82" fill="#0424f8"/>
<rect x="796.06" y="162.88" width="94.74" height="9.82" fill="#0090fc"/>
<rect x="40.50" y="172.40" width="9.15" height="9.82" fill="#ffd400"/>
<rect x="49.35" y="172.40" width="3.25" height="9.82" fill="#ff6a2a"/>
<rect x="52.31" y="172.40" width="74.08" height="9.82" fill="#ffd400"/>
<rect x="126.09" y="172.40" width="3.25" height="9.82" fill="#b4ff00"/>
<rect x="129.04" y="172.40" width="6.20" height="9.82" fill="#ffd400"/>
<rect x="134.94" y="172.40" width="38.67" height="9.82" fill="#b4ff00"/>
<rect x="173.31" y="172.40" width="53.42" height="9.82" fill="#00ff20"/>
<rect x="226.44" y="172.40" width="15.06" height="9.82" fill="#00c070"/>
<rect x="241.19" y="172.40" width="3.25" height="9.82" fill="#00ff20"/>
<rect x="244.15" y="172.40" width="53.42" height="9.82" fill="#00c070"/>
<rect x="297.27" y="172.40" width="144.92" height="9.82" fill="#00ffff"/>
<rect x="441.89" y="172.40" width="3.25" height="9.82" fill="#0090fc"/>
<rect x="444.84" y="172.40" width="3.25" height="9.82" fill="#00ffff"/>
<rect x="447.79" y="172.40" width="3.25" height="9.82" fill="#0090fc"/>
<rect x="450.74" y="172.40" width="29.81" height="9.82" fill="#00ffff"/>
<rect x="480.26" y="172.40" width="6.20" height="9.82" fill="#0090fc"/>
<rect x="486.16" y="172.40" width="9.15" height="9.82" fill="#00ffff"/>
<rect x="495.01" y="172.40" width="3.25" height="9.82" fill="#0090fc"/>
<rect x="497.97" y="172.40" width="3.25" height="9.82" fill="#00ffff"/>
<rect x="500.92" y="172.40" width="3.25" height="9.82" fill="#0090fc"/>
<rect x="503.87" y="172.40" width="3.25" height="9.82" fill="#00ffff"/>
<rect x="506.82" y="172.40" width="230.51" height="9.82" fill="#0090fc"/>
<rect x="737.03" y="172.40" width="3.25" height="9.82" fill="#00ffff"/>
<rect x="739.98" y="172.40" width="32.77" height="9.82" fill="#0090fc"/>
<rect x="772.44" y="172.40" width="9.15" height="9.82" fill="#00ffff"/>
<rect x="781.30" y="172.40" width="23.91" height="9.82" fill="#0090fc"/>
<rect x="804.91" y="172.40" width="3.25" height="9.82" fill="#00ffff"/>
<rect x="807.86" y="172.40" width="3.25" height="9.82" fill="#0090fc"/>
<rect x="810.81" y="172.40" width="3.25" height="9.82" fill="#00ffff"/>
<rect x="813.76" y="172.40" width="9.15" height="9.82" fill="#0090fc"/>
<rect x="822.62" y="172.40" width="38.67" height="9.82" fill="#00ffff"/>
<rect x="860.99" y="172.40" width="3.25" height="9.82" fill="#0090fc"/>
<rect x="863.94" y="172.40" width="26.86" height="9.82" fill="#00ffff"/>
<rect x="40.50" y="181.93" width="26.86" height="9.82" fill="#ff6a2a"/>
<rect x="67.06" y="181.93" width="79.99" height="9.82" fill="#ffd400"/>
<rect x="146.75" y="181.93" width="3.25" height="9.82" fill="#b4ff00"/>
<rect x="149.70" y="181.93" width="6.20" height="9.82" fill="#ffd400"/>
<rect x="155.60" y="181.93" width="3.25" height="9.82" fill="#b4ff00"/>
<rect x="158.56" y="181.93" width="3.25" height="9.82" fill="#ffd400"/>
<rect x="161.51" y="181.93" width="47.52" height="9.82" fill="#b4ff00"/>
<rect x="208.73" y="181.93" width="3.25" height="9.82" fill="#00ff20"/>
<rect x="211.68" y="181.93" width="3.25" height="9.82" fill="#b4ff00"/>
<rect x="214.63" y="181.93" width="77.04" height="9.82" fill="#00ff20"/>
<rect x="291.37" y="181.93" width="139.02" height="9.82" fill="#00c070"/>
<rect x="430.08" y="181.93" width="9.15" height="9.82" fill="#00ffff"/>
<rect x="438.94" y="181.93" width="3.25" height="9.82" fill="#00c070"/>
<rect x="441.89" y="181.93" width="9.15" height="9.82" fill="#00ffff"/>
<rect x="450.74" y="181.93" width="3.25" height="9.82" fill="#00c070"/>
<rect x="453.69" y="181.93" width="3.25" height="9.82" fill="#00ffff"/>
<rect x="456.65" y="181.93" width="6.20" height="9.82" fill="#00c070"/>
<rect x="462.55" y="181.93" width="3.25" height="9.82" fill="#00ffff"/>
<rect x="465.50" y="181.93" width="9.15" height="9.82" fill="#00c070"/>
<rect x="474.35" y="181.93" width="3.25" height="9.82" fill="#00ffff"/>
<rect x="477.31" y="181.93" width="3.25" height="9.82" fill="#00c070"/>
<rect x="480.26" y="181.93" width="6.20" height="9.82" fill="#00ffff"/>
<rect x="486.16" y="181.93" width="3.25" height="9.82" fill="#00c070"/>
<rect x="489.11" y="181.93" width="307.24" height="9.82" fill="#00ffff"/>
<rect x="796.06" y="181.93" width="3.25" height="9.82" fill="#00c070"/>
<rect x="799.01" y="181.93" width="3.25" height="9.82" fill="#00ffff"/>
<rect x="801.96" y="181.93" width="3.25" height="9.82" fill="#00c070"/>
<rect x="804.91" y="181.93" width="3.25" height="9.82" fill="#00ffff"/>
<rect x="807.86" y="181.93" width="12.11" height="9.82" fill="#00c070"/>
<rect x="819.67" y="181.93" width="3.25" height="9.82" fill="#00ffff"/>
<rect x="822.62" y="181.93" width="68.18" height="9.82" fill="#00c070"/>
<rect x="40.50" y="191.45" width="35.72" height="9.82" fill="#ff6a2a"/>
<rect x="75.92" y="191.45" width="3.25" height="9.82" fill="#ffd400"/>
<rect x="78.87" y="191.45" width="6.20" height="9.82" fill="#ff6a2a"/>
<rect x="84.77" y="191.45" width="3.25" height="9.82" fill="#ffd400"/>
<rect x="87.72" y="191.45" width="6.20" height="9.82" fill="#ff6a2a"/>
<rect x="93.62" y="191.45" width="6.20" height="9.82" fill="#ffd400"/>
<rect x="99.53" y="191.45" width="6.20" height="9.82" fill="#ff6a2a"/>
<rect x="105.43" y="191.45" width="68.18" height="9.82" fill="#ffd400"/>
<rect x="173.31" y="191.45" width="47.52" height="9.82" fill="#b4ff00"/>
<rect x="220.53" y="191.45" width="3.25" height="9.82" fill="#00ff20"/>
<rect x="223.49" y="191.45" width="6.20" height="9.82" fill="#b4ff00"/>
<rect x="229.39" y="191.45" width="3.25" height="9.82" fill="#00ff20"/>
<rect x="232.34" y="191.45" width="6.20" height="9.82" fill="#b4ff00"/>
<rect x="238.24" y="191.45" width="127.21" height="9.82" fill="#00ff20"/>
<rect x="365.15" y="191.45" width="3.25" height="9.82" fill="#00c070"/>
<rect x="368.10" y="191.45" width="53.42" height="9.82" fill="#00ff20"/>
<rect x="421.23" y="191.45" width="171.48" height="9.82" fill="#00c070"/>
<rect x="592.41" y="191.45" width="3.25" height="9.82" fill="#00ffff"/>
<rect x="595.36" y="191.45" width="3.25" height="9.82" fill="#00c070"/>
<rect x="598.31" y="191.45" width="15.06" height="9.82" fill="#00ffff"/>
<rect x="613.07" y="191.45" width="3.25" height="9.82" fill="#00c070"/>
<rect x="616.02" y="191.45" width="38.67" height="9.82" fill="#00ffff"/>
<rect x="654.39" y="191.45" width="3.25" height="9.82" fill="#00c070"/>
<rect x="657.34" y="191.45" width="3.25" height="9.82" fill="#00ffff"/>
<rect x="660.29" y="191.45" width="6.20" height="9.82" fill="#00c070"/>
<rect x="666.19" y="191.45" width="3.25" height="9.82" fill="#00ffff"/>
<rect x="669.15" y="191.45" width="3.25" height="9.82" fill="#00c070"/>
<rect x="672.10" y="191.45" width="6.20" height="9.82" fill="#00ffff"/>
<rect x="678.00" y="191.45" width="3.25" height="9.82" fill="#00c070"/>
<rect x="680.95" y="191.45" width="23.91" height="9.82" fill="#00ffff"/>
<rect x="704.56" y="191.45" width="3.25" height="9.82" fill="#00c070"/>
<rect x="707.51" y="191.45" width="6.20" height="9.82" fill="#00ffff"/>
<rect x="713.42" y="191.45" width="3.25" height="9.82" fill="#00c070"/>
<rect x="716.37" y="191.45" width="6.20" height="9.82" fill="#00ffff"/>
<rect x="722.27" y="191.45" width="106.55" height="9.82" fill="#00c070"/>
<rect x="828.52" y="191.45" width="3.25" height="9.82" fill="#00ff20"/>
<rect x="831.47" y="191.45" width="44.57" height="9.82" fill="#00c070"/>
<rect x="875.74" y="191.45" width="15.06" height="9.82" fill="#00ff20"/>
<rect x="40.50" y="200.98" width="3.25" height="9.82" fill="#ffd400"/>
<rect x="43.45" y="200.98" width="9.15" height="9.82" fill="#ff6a2a"/>
<rect x="52.31" y="200.98" width="106.55" height="9.82" fill="#ffd400"/>
<rect x="158.56" y="200.98" width="3.25" height="9.82" fill="#b4ff00"/>
<rect x="161.51" y="200.98" width="3.25" height="9.82" fill="#ffd400"/>
<rect x="164.46" y="200.98" width="59.33" height="9.82" fill="#b4ff00"/>
<rect x="223.49" y="200.98" width="198.04" height="9.82" fill="#00ff20"/>
<rect x="421.23" y="200.98" width="165.58" height="9.82" fill="#00c070"/>
<rect x="586.51" y="200.98" width="3.25" height="9.82" fill="#00ffff"/>
<rect x="589.46" y="200.98" width="6.20" height="9.82" fill="#00c070"/>
<rect x="595.36" y="200.98" width="59.33" height="9.82" fill="#00ffff"/>
<rect x="654.39" y="200.98" width="6.20" height="9.82" fill="#00c070"/>
<rect x="660.29" y="200.98" width="6.20" height="9.82" fill="#00ffff"/>
<rect x="666.19" y="200.98" width="9.15" height="9.82" fill="#00c070"/>
<rect x="675.05" y="200.98" width="3.25" height="9.82" fill="#00ffff"/>
<rect x="678.00" y="200.98" width="3.25" height="9.82" fill="#00c070"/>
<rect x="680.95" y="200.98" width="20.96" height="9.82" fill="#00ffff"/>
<rect x="701.61" y="200.98" width="3.25" height="9.82" fill="#00c070"/>
<rect x="704.56" y="200.98" width="3.25" height="9.82" fill="#00ffff"/>
<rect x="707.51" y="200.98" width="6.20" height="9.82" fill="#00c070"/>
<rect x="713.42" y="200.98" width="3.25" height="9.82" fill="#00ffff"/>
<rect x="716.37" y="200.98" width="162.63" height="9.82" fill="#00c070"/>
<rect x="878.69" y="200.98" width="3.25" height="9.82" fill="#00ff20"/>
<rect x="881.65" y="200.98" width="3.25" height="9.82" fill="#00c070"/>
<rect x="884.60" y="200.98" width="3.25" height="9.82" fill="#00ff20"/>
<rect x="887.55" y="200.98" width="3.25" height="9.82" fill="#00c070"/>
</g>
<g shape-rendering="crispEdges">
<rect x="40.5" y="10.5" width="850.0" height="200.0" fill="none" stroke="#000" stroke-width="1"/>
<line x1="75.50" y1="10.0" x2="75.50" y2="210.0" stroke="#c0c0c0" stroke-width="1"/>
<line x1="110.50" y1="10.0" x2="110.50" y2="210.0" stroke="#c0c0c0" stroke-width="1"/>
<line x1="146.50" y1="10.0" x2="146.50" y2="210.0" stroke="#c0c0c0" stroke-width="1"/>
<line x1="181.50" y1="10.0" x2="181.50" y2="210.0" stroke="#c0c0c0" stroke-width="1"/>
<line x1="217.50" y1="10.0" x2="217.50" y2="210.0" stroke="#c0c0c0" stroke-width="1"/>
<line x1="252.50" y1="10.0" x2="252.50" y2="210.0" stroke="#c0c0c0" stroke-width="1"/>
<line x1="287.50" y1="10.0" x2="287.50" y2="210.0" stroke="#c0c0c0" stroke-width="1"/>
<line x1="323.50" y1="10.0" x2="323.50" y2="210.0" stroke="#c0c0c0" stroke-width="1"/>
<line x1="358.50" y1="10.0" x2="358.50" y2="210.0" stroke="#c0c0c0" stroke-width="1"/>
<line x1="394.50" y1="10.0" x2="394.50" y2="210.0" stroke="#c0c0c0" stroke-width="1"/>
<line x1="429.50" y1="10.0" x2="429.50" y2="210.0" stroke="#c0c0c0" stroke-width="1"/>
<line x1="465.50" y1="10.0" x2="465.50" y2="210.0" stroke="#c0c0c0" stroke-width="1"/>
<line x1="500.50" y1="10.0" x2="500.50" y2="210.0" stroke="#c0c0c0" stroke-width="1"/>
<line x1="535.50" y1="10.0" x2="535.50" y2="210.0" stroke="#c0c0c0" stroke-width="1"/>
<line x1="571.50" y1="10.0" x2="571.50" y2="210.0" stroke="#c0c0c0" stroke-width="1"/>
<line x1="606.50" y1="10.0" x2="606.50" y2="210.0" stroke="#c0c0c0" stroke-width="1"/>
<line x1="642.50" y1="10.0" x2="642.50" y2="210.0" stroke="#c0c0c0" stroke-width="1"/>
<line x1="677.50" y1="10.0" x2="677.50" y2="210.0" stroke="#c0c0c0" stroke-width="1"/>
<line x1="712.50" y1="10.0" x2="712.50" y2="210.0" stroke="#c0c0c0" stroke-width="1"/>
<line x1="748.50" y1="10.0" x2="748.50" y2="210.0" stroke="#c0c0c0" stroke-width="1"/>
<line x1="783.50" y1="10.0" x2="783.50" y2="210.0" stroke="#c0c0c0" stroke-width="1"/>
<line x1="819.50" y1="10.0" x2="819.50" y2="210.0" stroke="#c0c0c0" stroke-width="1"/>
<line x1="854.50" y1="10.0" x2="854.50" y2="210.0" stroke="#c0c0c0" stroke-width="1"/>
<line x1="41.0" y1="170.5" x2="890.0" y2="170.5" stroke="#c0c0c0" stroke-width="1"/>
<line x1="41.0" y1="130.5" x2="890.0" y2="130.5" stroke="#c0c0c0" stroke-width="1"/>
<line x1="41.0" y1="90.5" x2="890.0" y2="90.5" stroke="#c0c0c0" stroke-width="1"/>
<line x1="41.0" y1="50.5" x2="890.0" y2="50.5" stroke="#c0c0c0" stroke-width="1"/>
<line x1="40.50" y1="210.5" x2="40.50" y2="215.5" stroke="#000" stroke-width="1"/>
<line x1="75.50" y1="210.5" x2="75.50" y2="215.5" stroke="#000" stroke-width="1"/>
<line x1="110.50" y1="210.5" x2="110.50" y2="215.5" stroke="#000" stroke-width="1"/>
<line x1="146.50" y1="210.5" x2="146.50" y2="215.5" stroke="#000" stroke-width="1"/>
<line x1="181.50" y1="210.5" x2="181.50" y2="215.5" stroke="#000" stroke-width="1"/>
<line x1="217.50" y1="210.5" x2="217.50" y2="215.5" stroke="#000" stroke-width="1"/>
<line x1="252.50" y1="210.5" x2="252.50" y2="215.5" stroke="#000" stroke-width="1"/>
<line x1="287.50" y1="210.5" x2="287.50" y2="215.5" stroke="#000" stroke-width="1"/>
<line x1="323.50" y1="210.5" x2="323.50" y2="215.5" stroke="#000" stroke-width="1"/>
<line x1="358.50" y1="210.5" x2="358.50" y2="215.5" stroke="#000" stroke-width="1"/>
<line x1="394.50" y1="210.5" x2="394.50" y2="215.5" stroke="#000" stroke-width="1"/>
<line x1="429.50" y1="210.5" x2="429.50" y2="215.5" stroke="#000" stroke-width="1"/>
<line x1="465.50" y1="210.5" x2="465.50" y2="215.5" stroke="#000" stroke-width="1"/>
<line x1="500.50" y1="210.5" x2="500.50" y2="215.5" stroke="#000" stroke-width="1"/>
<line x1="535.50" y1="210.5" x2="535.50" y2="215.5" stroke="#000" stroke-width="1"/>
<line x1="571.50" y1="210.5" x2="571.50" y2="215.5" stroke="#000" stroke-width="1"/>
<line x1="606.50" y1="210.5" x2="606.50" y2="215.5" stroke="#000" stroke-width="1"/>
<line x1="642.50" y1="210.5" x2="642.50" y2="215.5" stroke="#000" stroke-width="1"/>
<line x1="677.50" y1="210.5" x2="677.50" y2="215.5" stroke="#000" stroke-width="1"/>
<line x1="712.50" y1="210.5" x2="712.50" y2="215.5" stroke="#000" stroke-width="1"/>
<line x1="748.50" y1="210.5" x2="748.50" y2="215.5" stroke="#000" stroke-width="1"/>
<line x1="783.50" y1="210.5" x2="783.50" y2="215.5" stroke="#000" stroke-width="1"/>
<line x1="819.50" y1="210.5" x2="819.50" y2="215.5" stroke="#000" stroke-width="1"/>
<line x1="854.50" y1="210.5" x2="854.50" y2="215.5" stroke="#000" stroke-width="1"/>
<line x1="890.50" y1="210.5" x2="890.50" y2="215.5" stroke="#000" stroke-width="1"/>
<line x1="35.0" y1="210.5" x2="40.5" y2="210.5" stroke="#000" stroke-width="1"/>
<line x1="35.0" y1="170.5" x2="40.5" y2="170.5" stroke="#000" stroke-width="1"/>
<line x1="35.0" y1="130.5" x2="40.5" y2="130.5" stroke="#000" stroke-width="1"/>
<line x1="35.0" y1="90.5" x2="40.5" y2="90.5" stroke="#000" stroke-width="1"/>
<line x1="35.0" y1="50.5" x2="40.5" y2="50.5" stroke="#000" stroke-width="1"/>
<line x1="35.0" y1="10.5" x2="40.5" y2="10.5" stroke="#000" stroke-width="1"/>
</g>
<text x="40.00" y="226.80" font-size="9.99" text-anchor="middle" textLength="11.44" lengthAdjust="spacingAndGlyphs">00</text>
<text x="75.42" y="226.80" font-size="9.99" text-anchor="middle" textLength="11.44" lengthAdjust="spacingAndGlyphs">01</text>
<text x="110.83" y="226.80" font-size="9.99" text-anchor="middle" textLength="11.44" lengthAdjust="spacingAndGlyphs">02</text>
<text x="146.25" y="226.80" font-size="9.99" text-anchor="middle" textLength="11.44" lengthAdjust="spacingAndGlyphs">03</text>
<text x="181.67" y="226.80" font-size="9.99" text-anchor="middle" textLength="11.44" lengthAdjust="spacingAndGlyphs">04</text>
<text x="217.08" y="226.80" font-size="9.99" text-anchor="middle" textLength="11.44" lengthAdjust="spacingAndGlyphs">05</text>
<text x="252.50" y="226.80" font-size="9.99" text-anchor="middle" textLength="11.44" lengthAdjust="spacingAndGlyphs">06</text>
<text x="287.92" y="226.80" font-size="9.99" text-anchor="middle" textLength="11.44" lengthAdjust="spacingAndGlyphs">07</text>
<text x="323.33" y="226.80" font-size="9.99" text-anchor="middle" textLength="11.44" lengthAdjust="spacingAndGlyphs">08</text>
<text x="358.75" y="226.80" font-size="9.99" text-anchor="middle" textLength="11.44" lengthAdjust="spacingAndGlyphs">09</text>
<text x="394.17" y="226.80" font-size="9.99" text-anchor="middle" textLength="11.44" lengthAdjust="spacingAndGlyphs">10</text>
<text x="429.58" y="226.80" font-size="9.99" text-anchor="middle" textLength="11.44" lengthAdjust="spacingAndGlyphs">11</text>
<text x="465.00" y="226.80" font-size="9.99" text-anchor="middle" textLength="11.44" lengthAdjust="spacingAndGlyphs">12</text>
<text x="500.42" y="226.80" font-size="9.99" text-anchor="middle" textLength="11.44" lengthAdjust="spacingAndGlyphs">13</text>
<text x="535.83" y="226.80" font-size="9.99" text-anchor="middle" textLength="11.44" lengthAdjust="spacingAndGlyphs">14</text>
<text x="571.25" y="226.80" font-size="9.99" text-anchor="middle" textLength="11.44" lengthAdjust="spacingAndGlyphs">15</text>
<text x="606.67" y="226.80" font-size="9.99" text-anchor="middle" textLength="11.44" lengthAdjust="spacingAndGlyphs">16</text>
<text x="642.08" y="226.80" font-size="9.99" text-anchor="middle" textLength="11.44" lengthAdjust="spacingAndGlyphs">17</text>
<text x="677.50" y="226.80" font-size="9.99" text-anchor="middle" textLength="11.44" lengthAdjust="spacingAndGlyphs">18</text>
<text x="712.92" y="226.80" font-size="9.99" text-anchor="middle" textLength="11.44" lengthAdjust="spacingAndGlyphs">19</text>
<text x="748.33" y="226.80" font-size="9.99" text-anchor="middle" textLength="11.44" lengthAdjust="spacingAndGlyphs">20</text>
<text x="783.75" y="226.80" font-size="9.99" text-anchor="middle" textLength="11.44" lengthAdjust="spacingAndGlyphs">21</text>
<text x="819.17" y="226.80" font-size="9.99" text-anchor="middle" textLength="11.44" lengthAdjust="spacingAndGlyphs">22</text>
<text x="854.58" y="226.80" font-size="9.99" text-anchor="middle" textLength="11.44" lengthAdjust="spacingAndGlyphs">23</text>
<text x="890.00" y="226.80" font-size="9.99" text-anchor="middle" textLength="11.44" lengthAdjust="spacingAndGlyphs">24</text>
<text x="33.00" y="215.00" font-size="9.99" text-anchor="end" textLength="5.72" lengthAdjust="spacingAndGlyphs">0</text>
<text x="33.00" y="175.00" font-size="9.99" text-anchor="end" textLength="17.16" lengthAdjust="spacingAndGlyphs">200</text>
<text x="33.00" y="135.00" font-size="9.99" text-anchor="end" textLength="17.16" lengthAdjust="spacingAndGlyphs">400</text>
<text x="33.00" y="95.00" font-size="9.99" text-anchor="end" textLength="17.16" lengthAdjust="spacingAndGlyphs">600</text>
<text x="33.00" y="55.00" font-size="9.99" text-anchor="end" textLength="17.16" lengthAdjust="spacingAndGlyphs">800</text>
<text x="33.00" y="15.00" font-size="9.99" text-anchor="end" textLength="22.88" lengthAdjust="spacingAndGlyphs">1000</text>
<text x="0.00" y="0.00" font-size="12.10" text-anchor="middle" textLength="59.54" lengthAdjust="spacingAndGlyphs" transform="translate(10.2,109.5) rotate(-90)">Height, [m]</text>
<text x="465.00" y="242.00" font-size="12.10" textLength="48.69" lengthAdjust="spacingAndGlyphs">Time, UT</text>
<g shape-rendering="crispEdges">
<rect x="100" y="235" width="35" height="20" fill="#0424f8"/>
<rect x="135" y="235" width="35" height="20" fill="#0090fc"/>
<rect x="170" y="235" width="35" height="20" fill="#00ffff"/>
<rect x="205" y="235" width="35" height="20" fill="#00c070"/>
<rect x="240" y="235" width="35" height="20" fill="#00ff20"/>
<rect x="275" y="235" width="35" height="20" fill="#b4ff00"/>
<rect x="310" y="235" width="35" height="20" fill="#ffd400"/>
<rect x="345" y="235" width="35" height="20" fill="#ff6a2a"/>
<rect x="380" y="235" width="35" height="20" fill="#ff0000"/>
<rect x="415" y="235" width="35" height="20" fill="#7a0000"/>
</g>
<text x="104.80" y="270.30" font-size="12.10" textLength="21.47" lengthAdjust="spacingAndGlyphs">-3.3</text>
<text x="139.80" y="270.30" font-size="12.10" textLength="21.47" lengthAdjust="spacingAndGlyphs" stroke="#000" stroke-width="0.45">-2.5</text>
<text x="174.80" y="270.30" font-size="12.10" textLength="21.47" lengthAdjust="spacingAndGlyphs" stroke="#000" stroke-width="0.45">-1.7</text>
<text x="209.80" y="270.30" font-size="12.10" textLength="21.47" lengthAdjust="spacingAndGlyphs">-0.8</text>
<text x="244.80" y="270.30" font-size="12.10" textLength="17.50" lengthAdjust="spacingAndGlyphs">0.0</text>
<text x="279.80" y="270.30" font-size="12.10" textLength="17.50" lengthAdjust="spacingAndGlyphs">0.8</text>
<text x="314.80" y="270.30" font-size="12.10" textLength="17.50" lengthAdjust="spacingAndGlyphs" stroke="#000" stroke-width="0.45">1.7</text>
<text x="349.80" y="270.30" font-size="12.10" textLength="17.50" lengthAdjust="spacingAndGlyphs" stroke="#000" stroke-width="0.45">2.5</text>
<text x="384.80" y="270.30" font-size="12.10" textLength="17.50" lengthAdjust="spacingAndGlyphs">3.3</text>
<text x="419.80" y="270.30" font-size="12.10" textLength="17.50" lengthAdjust="spacingAndGlyphs" stroke="#000" stroke-width="0.45">4.1</text>
<text x="5.00" y="249.50" font-size="12.10" textLength="92.09" lengthAdjust="spacingAndGlyphs">Temperature, °C</text>
<g shape-rendering="crispEdges">
<line x1="71.50" y1="320.5" x2="71.50" y2="580.5" stroke="#c0c0c0" stroke-width="1"/>
<line x1="92.50" y1="320.5" x2="92.50" y2="580.5" stroke="#c0c0c0" stroke-width="1"/>
<line x1="113.50" y1="320.5" x2="113.50" y2="580.5" stroke="#c0c0c0" stroke-width="1"/>
<line x1="135.50" y1="320.5" x2="135.50" y2="580.5" stroke="#c0c0c0" stroke-width="1"/>
<line x1="156.50" y1="320.5" x2="156.50" y2="580.5" stroke="#c0c0c0" stroke-width="1"/>
<line x1="177.50" y1="320.5" x2="177.50" y2="580.5" stroke="#c0c0c0" stroke-width="1"/>
<line x1="198.50" y1="320.5" x2="198.50" y2="580.5" stroke="#c0c0c0" stroke-width="1"/>
<line x1="50.5" y1="372.5" x2="220.5" y2="372.5" stroke="#c0c0c0" stroke-width="1"/>
<line x1="50.5" y1="424.5" x2="220.5" y2="424.5" stroke="#c0c0c0" stroke-width="1"/>
<line x1="50.5" y1="476.5" x2="220.5" y2="476.5" stroke="#c0c0c0" stroke-width="1"/>
<line x1="50.5" y1="528.5" x2="220.5" y2="528.5" stroke="#c0c0c0" stroke-width="1"/>
</g>
<rect x="50.5" y="320.5" width="170" height="260" fill="none" stroke="#000" stroke-width="1" shape-rendering="crispEdges"/>
<polyline points="71.38,320.50 76.23,333.50 82.98,346.50 85.72,359.50 88.68,372.50 89.73,385.50 90.36,398.50 90.36,411.50 89.94,424.50 95.21,437.50 97.32,450.50 105.13,463.50 113.56,476.50 126.22,489.50 139.93,502.50 155.75,515.50 172.62,528.50 186.75,541.50 195.82,554.50 198.99,567.50 193.29,580.50" fill="none" stroke="#0000ff" stroke-width="2" stroke-linejoin="miter"/>
<g shape-rendering="crispEdges">
<line x1="50.50" y1="580.5" x2="50.50" y2="585.5" stroke="#000" stroke-width="1"/>
<line x1="71.50" y1="580.5" x2="71.50" y2="585.5" stroke="#000" stroke-width="1"/>
<line x1="92.50" y1="580.5" x2="92.50" y2="585.5" stroke="#000" stroke-width="1"/>
<line x1="113.50" y1="580.5" x2="113.50" y2="585.5" stroke="#000" stroke-width="1"/>
<line x1="135.50" y1="580.5" x2="135.50" y2="585.5" stroke="#000" stroke-width="1"/>
<line x1="156.50" y1="580.5" x2="156.50" y2="585.5" stroke="#000" stroke-width="1"/>
<line x1="177.50" y1="580.5" x2="177.50" y2="585.5" stroke="#000" stroke-width="1"/>
<line x1="198.50" y1="580.5" x2="198.50" y2="585.5" stroke="#000" stroke-width="1"/>
<line x1="220.50" y1="580.5" x2="220.50" y2="585.5" stroke="#000" stroke-width="1"/>
<line x1="45.0" y1="580.5" x2="50.5" y2="580.5" stroke="#000" stroke-width="1"/>
<line x1="45.0" y1="528.5" x2="50.5" y2="528.5" stroke="#000" stroke-width="1"/>
<line x1="45.0" y1="476.5" x2="50.5" y2="476.5" stroke="#000" stroke-width="1"/>
<line x1="45.0" y1="424.5" x2="50.5" y2="424.5" stroke="#000" stroke-width="1"/>
<line x1="45.0" y1="372.5" x2="50.5" y2="372.5" stroke="#000" stroke-width="1"/>
<line x1="45.0" y1="320.5" x2="50.5" y2="320.5" stroke="#000" stroke-width="1"/>
</g>
<text x="71.25" y="595.20" font-size="9.99" text-anchor="middle" textLength="17.55" lengthAdjust="spacingAndGlyphs">-0.6</text>
<text x="113.75" y="595.20" font-size="9.99" text-anchor="middle" textLength="14.30" lengthAdjust="spacingAndGlyphs">0.4</text>
<text x="156.25" y="595.20" font-size="9.99" text-anchor="middle" textLength="14.30" lengthAdjust="spacingAndGlyphs">1.5</text>
<text x="198.75" y="595.20" font-size="9.99" text-anchor="middle" textLength="14.30" lengthAdjust="spacingAndGlyphs">2.5</text>
<text x="43.20" y="585.00" font-size="9.99" text-anchor="end" textLength="5.72" lengthAdjust="spacingAndGlyphs">0</text>
<text x="43.20" y="533.00" font-size="9.99" text-anchor="end" textLength="17.16" lengthAdjust="spacingAndGlyphs">200</text>
<text x="43.20" y="481.00" font-size="9.99" text-anchor="end" textLength="17.16" lengthAdjust="spacingAndGlyphs">400</text>
<text x="43.20" y="429.00" font-size="9.99" text-anchor="end" textLength="17.16" lengthAdjust="spacingAndGlyphs">600</text>
<text x="43.20" y="377.00" font-size="9.99" text-anchor="end" textLength="17.16" lengthAdjust="spacingAndGlyphs">800</text>
<text x="43.20" y="325.00" font-size="9.99" text-anchor="end" textLength="22.88" lengthAdjust="spacingAndGlyphs">1000</text>
<text x="141.00" y="610.00" font-size="12.10" text-anchor="middle" textLength="92.09" lengthAdjust="spacingAndGlyphs">Temperature, °C</text>
<text x="50.00" y="314.50" font-size="12.10" fill="#087008" textLength="170.68" lengthAdjust="spacingAndGlyphs">Time (hours, UT): 00:00 - 02:00</text>
<text x="0.00" y="0.00" font-size="12.10" text-anchor="middle" textLength="59.54" lengthAdjust="spacingAndGlyphs" transform="translate(15.2,439.5) rotate(-90)">Height, [m]</text>
<g shape-rendering="crispEdges">
<line x1="291.50" y1="320.5" x2="291.50" y2="580.5" stroke="#c0c0c0" stroke-width="1"/>
<line x1="312.50" y1="320.5" x2="312.50" y2="580.5" stroke="#c0c0c0" stroke-width="1"/>
<line x1="333.50" y1="320.5" x2="333.50" y2="580.5" stroke="#c0c0c0" stroke-width="1"/>
<line x1="355.50" y1="320.5" x2="355.50" y2="580.5" stroke="#c0c0c0" stroke-width="1"/>
<line x1="376.50" y1="320.5" x2="376.50" y2="580.5" stroke="#c0c0c0" stroke-width="1"/>
<line x1="397.50" y1="320.5" x2="397.50" y2="580.5" stroke="#c0c0c0" stroke-width="1"/>
<line x1="418.50" y1="320.5" x2="418.50" y2="580.5" stroke="#c0c0c0" stroke-width="1"/>
<line x1="270.5" y1="372.5" x2="440.5" y2="372.5" stroke="#c0c0c0" stroke-width="1"/>
<line x1="270.5" y1="424.5" x2="440.5" y2="424.5" stroke="#c0c0c0" stroke-width="1"/>
<line x1="270.5" y1="476.5" x2="440.5" y2="476.5" stroke="#c0c0c0" stroke-width="1"/>
<line x1="270.5" y1="528.5" x2="440.5" y2="528.5" stroke="#c0c0c0" stroke-width="1"/>
</g>
<rect x="270.5" y="320.5" width="170" height="260" fill="none" stroke="#000" stroke-width="1" shape-rendering="crispEdges"/>
<polyline points="291.38,320.50 296.65,333.50 301.93,346.50 305.09,359.50 307.20,372.50 308.25,385.50 308.04,398.50 306.78,411.50 304.67,424.50 307.20,437.50 309.31,450.50 315.00,463.50 323.02,476.50 333.56,489.50 346.85,502.50 360.98,515.50 376.38,528.50 394.10,541.50 409.50,554.50 419.62,567.50 412.24,580.50" fill="none" stroke="#0000ff" stroke-width="2" stroke-linejoin="miter"/>
<g shape-rendering="crispEdges">
<line x1="270.50" y1="580.5" x2="270.50" y2="585.5" stroke="#000" stroke-width="1"/>
<line x1="291.50" y1="580.5" x2="291.50" y2="585.5" stroke="#000" stroke-width="1"/>
<line x1="312.50" y1="580.5" x2="312.50" y2="585.5" stroke="#000" stroke-width="1"/>
<line x1="333.50" y1="580.5" x2="333.50" y2="585.5" stroke="#000" stroke-width="1"/>
<line x1="355.50" y1="580.5" x2="355.50" y2="585.5" stroke="#000" stroke-width="1"/>
<line x1="376.50" y1="580.5" x2="376.50" y2="585.5" stroke="#000" stroke-width="1"/>
<line x1="397.50" y1="580.5" x2="397.50" y2="585.5" stroke="#000" stroke-width="1"/>
<line x1="418.50" y1="580.5" x2="418.50" y2="585.5" stroke="#000" stroke-width="1"/>
<line x1="440.50" y1="580.5" x2="440.50" y2="585.5" stroke="#000" stroke-width="1"/>
<line x1="265.0" y1="580.5" x2="270.5" y2="580.5" stroke="#000" stroke-width="1"/>
<line x1="265.0" y1="528.5" x2="270.5" y2="528.5" stroke="#000" stroke-width="1"/>
<line x1="265.0" y1="476.5" x2="270.5" y2="476.5" stroke="#000" stroke-width="1"/>
<line x1="265.0" y1="424.5" x2="270.5" y2="424.5" stroke="#000" stroke-width="1"/>
<line x1="265.0" y1="372.5" x2="270.5" y2="372.5" stroke="#000" stroke-width="1"/>
<line x1="265.0" y1="320.5" x2="270.5" y2="320.5" stroke="#000" stroke-width="1"/>
</g>
<text x="291.25" y="595.20" font-size="9.99" text-anchor="middle" textLength="17.55" lengthAdjust="spacingAndGlyphs">-1.4</text>
<text x="333.75" y="595.20" font-size="9.99" text-anchor="middle" textLength="17.55" lengthAdjust="spacingAndGlyphs">-0.3</text>
<text x="376.25" y="595.20" font-size="9.99" text-anchor="middle" textLength="14.30" lengthAdjust="spacingAndGlyphs">0.9</text>
<text x="418.75" y="595.20" font-size="9.99" text-anchor="middle" textLength="14.30" lengthAdjust="spacingAndGlyphs">2.0</text>
<text x="263.20" y="585.00" font-size="9.99" text-anchor="end" textLength="5.72" lengthAdjust="spacingAndGlyphs">0</text>
<text x="263.20" y="533.00" font-size="9.99" text-anchor="end" textLength="17.16" lengthAdjust="spacingAndGlyphs">200</text>
<text x="263.20" y="481.00" font-size="9.99" text-anchor="end" textLength="17.16" lengthAdjust="spacingAndGlyphs">400</text>
<text x="263.20" y="429.00" font-size="9.99" text-anchor="end" textLength="17.16" lengthAdjust="spacingAndGlyphs">600</text>
<text x="263.20" y="377.00" font-size="9.99" text-anchor="end" textLength="17.16" lengthAdjust="spacingAndGlyphs">800</text>
<text x="263.20" y="325.00" font-size="9.99" text-anchor="end" textLength="22.88" lengthAdjust="spacingAndGlyphs">1000</text>
<text x="361.00" y="610.00" font-size="12.10" text-anchor="middle" textLength="92.09" lengthAdjust="spacingAndGlyphs">Temperature, °C</text>
<text x="270.00" y="314.50" font-size="12.10" fill="#087008" textLength="170.68" lengthAdjust="spacingAndGlyphs">Time (hours, UT): 02:00 - 04:00</text>
<g shape-rendering="crispEdges">
<line x1="511.50" y1="320.5" x2="511.50" y2="580.5" stroke="#c0c0c0" stroke-width="1"/>
<line x1="532.50" y1="320.5" x2="532.50" y2="580.5" stroke="#c0c0c0" stroke-width="1"/>
<line x1="553.50" y1="320.5" x2="553.50" y2="580.5" stroke="#c0c0c0" stroke-width="1"/>
<line x1="575.50" y1="320.5" x2="575.50" y2="580.5" stroke="#c0c0c0" stroke-width="1"/>
<line x1="596.50" y1="320.5" x2="596.50" y2="580.5" stroke="#c0c0c0" stroke-width="1"/>
<line x1="617.50" y1="320.5" x2="617.50" y2="580.5" stroke="#c0c0c0" stroke-width="1"/>
<line x1="638.50" y1="320.5" x2="638.50" y2="580.5" stroke="#c0c0c0" stroke-width="1"/>
<line x1="490.5" y1="372.5" x2="660.5" y2="372.5" stroke="#c0c0c0" stroke-width="1"/>
<line x1="490.5" y1="424.5" x2="660.5" y2="424.5" stroke="#c0c0c0" stroke-width="1"/>
<line x1="490.5" y1="476.5" x2="660.5" y2="476.5" stroke="#c0c0c0" stroke-width="1"/>
<line x1="490.5" y1="528.5" x2="660.5" y2="528.5" stroke="#c0c0c0" stroke-width="1"/>
</g>
<rect x="490.5" y="320.5" width="170" height="260" fill="none" stroke="#000" stroke-width="1" shape-rendering="crispEdges"/>
<polyline points="511.38,320.50 515.60,333.50 520.87,346.50 522.98,359.50 525.09,372.50 523.61,385.50 522.98,398.50 518.76,411.50 517.08,424.50 517.29,437.50 517.08,450.50 522.35,463.50 529.73,476.50 538.17,489.50 550.82,502.50 566.22,515.50 584.78,528.50 606.29,541.50 625.28,554.50 638.99,567.50 635.19,580.50" fill="none" stroke="#0000ff" stroke-width="2" stroke-linejoin="miter"/>
<g shape-rendering="crispEdges">
<line x1="490.50" y1="580.5" x2="490.50" y2="585.5" stroke="#000" stroke-width="1"/>
<line x1="511.50" y1="580.5" x2="511.50" y2="585.5" stroke="#000" stroke-width="1"/>
<line x1="532.50" y1="580.5" x2="532.50" y2="585.5" stroke="#000" stroke-width="1"/>
<line x1="553.50" y1="580.5" x2="553.50" y2="585.5" stroke="#000" stroke-width="1"/>
<line x1="575.50" y1="580.5" x2="575.50" y2="585.5" stroke="#000" stroke-width="1"/>
<line x1="596.50" y1="580.5" x2="596.50" y2="585.5" stroke="#000" stroke-width="1"/>
<line x1="617.50" y1="580.5" x2="617.50" y2="585.5" stroke="#000" stroke-width="1"/>
<line x1="638.50" y1="580.5" x2="638.50" y2="585.5" stroke="#000" stroke-width="1"/>
<line x1="660.50" y1="580.5" x2="660.50" y2="585.5" stroke="#000" stroke-width="1"/>
<line x1="485.0" y1="580.5" x2="490.5" y2="580.5" stroke="#000" stroke-width="1"/>
<line x1="485.0" y1="528.5" x2="490.5" y2="528.5" stroke="#000" stroke-width="1"/>
<line x1="485.0" y1="476.5" x2="490.5" y2="476.5" stroke="#000" stroke-width="1"/>
<line x1="485.0" y1="424.5" x2="490.5" y2="424.5" stroke="#000" stroke-width="1"/>
<line x1="485.0" y1="372.5" x2="490.5" y2="372.5" stroke="#000" stroke-width="1"/>
<line x1="485.0" y1="320.5" x2="490.5" y2="320.5" stroke="#000" stroke-width="1"/>
</g>
<text x="511.25" y="595.20" font-size="9.99" text-anchor="middle" textLength="17.55" lengthAdjust="spacingAndGlyphs">-2.1</text>
<text x="553.75" y="595.20" font-size="9.99" text-anchor="middle" textLength="17.55" lengthAdjust="spacingAndGlyphs">-1.0</text>
<text x="596.25" y="595.20" font-size="9.99" text-anchor="middle" textLength="17.55" lengthAdjust="spacingAndGlyphs">-0.0</text>
<text x="638.75" y="595.20" font-size="9.99" text-anchor="middle" textLength="14.30" lengthAdjust="spacingAndGlyphs">1.0</text>
<text x="483.20" y="585.00" font-size="9.99" text-anchor="end" textLength="5.72" lengthAdjust="spacingAndGlyphs">0</text>
<text x="483.20" y="533.00" font-size="9.99" text-anchor="end" textLength="17.16" lengthAdjust="spacingAndGlyphs">200</text>
<text x="483.20" y="481.00" font-size="9.99" text-anchor="end" textLength="17.16" lengthAdjust="spacingAndGlyphs">400</text>
<text x="483.20" y="429.00" font-size="9.99" text-anchor="end" textLength="17.16" lengthAdjust="spacingAndGlyphs">600</text>
<text x="483.20" y="377.00" font-size="9.99" text-anchor="end" textLength="17.16" lengthAdjust="spacingAndGlyphs">800</text>
<text x="483.20" y="325.00" font-size="9.99" text-anchor="end" textLength="22.88" lengthAdjust="spacingAndGlyphs">1000</text>
<text x="581.00" y="610.00" font-size="12.10" text-anchor="middle" textLength="92.09" lengthAdjust="spacingAndGlyphs">Temperature, °C</text>
<text x="490.00" y="314.50" font-size="12.10" fill="#087008" textLength="170.68" lengthAdjust="spacingAndGlyphs">Time (hours, UT): 04:00 - 06:00</text>
<g shape-rendering="crispEdges">
<line x1="731.50" y1="320.5" x2="731.50" y2="580.5" stroke="#c0c0c0" stroke-width="1"/>
<line x1="752.50" y1="320.5" x2="752.50" y2="580.5" stroke="#c0c0c0" stroke-width="1"/>
<line x1="773.50" y1="320.5" x2="773.50" y2="580.5" stroke="#c0c0c0" stroke-width="1"/>
<line x1="795.50" y1="320.5" x2="795.50" y2="580.5" stroke="#c0c0c0" stroke-width="1"/>
<line x1="816.50" y1="320.5" x2="816.50" y2="580.5" stroke="#c0c0c0" stroke-width="1"/>
<line x1="837.50" y1="320.5" x2="837.50" y2="580.5" stroke="#c0c0c0" stroke-width="1"/>
<line x1="858.50" y1="320.5" x2="858.50" y2="580.5" stroke="#c0c0c0" stroke-width="1"/>
<line x1="710.5" y1="372.5" x2="880.5" y2="372.5" stroke="#c0c0c0" stroke-width="1"/>
<line x1="710.5" y1="424.5" x2="880.5" y2="424.5" stroke="#c0c0c0" stroke-width="1"/>
<line x1="710.5" y1="476.5" x2="880.5" y2="476.5" stroke="#c0c0c0" stroke-width="1"/>
<line x1="710.5" y1="528.5" x2="880.5" y2="528.5" stroke="#c0c0c0" stroke-width="1"/>
</g>
<rect x="710.5" y="320.5" width="170" height="260" fill="none" stroke="#000" stroke-width="1" shape-rendering="crispEdges"/>
<polyline points="746.15,320.50 749.31,333.50 755.64,346.50 756.27,359.50 758.17,372.50 755.21,385.50 751.84,398.50 745.51,411.50 739.18,424.50 735.18,437.50 730.96,450.50 732.01,463.50 733.49,476.50 738.34,489.50 746.15,502.50 759.43,515.50 779.26,528.50 805.20,541.50 835.79,554.50 859.62,567.50 857.51,580.50" fill="none" stroke="#0000ff" stroke-width="2" stroke-linejoin="miter"/>
<g shape-rendering="crispEdges">
<line x1="710.50" y1="580.5" x2="710.50" y2="585.5" stroke="#000" stroke-width="1"/>
<line x1="731.50" y1="580.5" x2="731.50" y2="585.5" stroke="#000" stroke-width="1"/>
<line x1="752.50" y1="580.5" x2="752.50" y2="585.5" stroke="#000" stroke-width="1"/>
<line x1="773.50" y1="580.5" x2="773.50" y2="585.5" stroke="#000" stroke-width="1"/>
<line x1="795.50" y1="580.5" x2="795.50" y2="585.5" stroke="#000" stroke-width="1"/>
<line x1="816.50" y1="580.5" x2="816.50" y2="585.5" stroke="#000" stroke-width="1"/>
<line x1="837.50" y1="580.5" x2="837.50" y2="585.5" stroke="#000" stroke-width="1"/>
<line x1="858.50" y1="580.5" x2="858.50" y2="585.5" stroke="#000" stroke-width="1"/>
<line x1="880.50" y1="580.5" x2="880.50" y2="585.5" stroke="#000" stroke-width="1"/>
<line x1="705.0" y1="580.5" x2="710.5" y2="580.5" stroke="#000" stroke-width="1"/>
<line x1="705.0" y1="528.5" x2="710.5" y2="528.5" stroke="#000" stroke-width="1"/>
<line x1="705.0" y1="476.5" x2="710.5" y2="476.5" stroke="#000" stroke-width="1"/>
<line x1="705.0" y1="424.5" x2="710.5" y2="424.5" stroke="#000" stroke-width="1"/>
<line x1="705.0" y1="372.5" x2="710.5" y2="372.5" stroke="#000" stroke-width="1"/>
<line x1="705.0" y1="320.5" x2="710.5" y2="320.5" stroke="#000" stroke-width="1"/>
</g>
<text x="731.25" y="595.20" font-size="9.99" text-anchor="middle" textLength="17.55" lengthAdjust="spacingAndGlyphs">-2.3</text>
<text x="773.75" y="595.20" font-size="9.99" text-anchor="middle" textLength="17.55" lengthAdjust="spacingAndGlyphs">-1.4</text>
<text x="816.25" y="595.20" font-size="9.99" text-anchor="middle" textLength="17.55" lengthAdjust="spacingAndGlyphs">-0.4</text>
<text x="858.75" y="595.20" font-size="9.99" text-anchor="middle" textLength="14.30" lengthAdjust="spacingAndGlyphs">0.5</text>
<text x="703.20" y="585.00" font-size="9.99" text-anchor="end" textLength="5.72" lengthAdjust="spacingAndGlyphs">0</text>
<text x="703.20" y="533.00" font-size="9.99" text-anchor="end" textLength="17.16" lengthAdjust="spacingAndGlyphs">200</text>
<text x="703.20" y="481.00" font-size="9.99" text-anchor="end" textLength="17.16" lengthAdjust="spacingAndGlyphs">400</text>
<text x="703.20" y="429.00" font-size="9.99" text-anchor="end" textLength="17.16" lengthAdjust="spacingAndGlyphs">600</text>
<text x="703.20" y="377.00" font-size="9.99" text-anchor="end" textLength="17.16" lengthAdjust="spacingAndGlyphs">800</text>
<text x="703.20" y="325.00" font-size="9.99" text-anchor="end" textLength="22.88" lengthAdjust="spacingAndGlyphs">1000</text>
<text x="801.00" y="610.00" font-size="12.10" text-anchor="middle" textLength="92.09" lengthAdjust="spacingAndGlyphs">Temperature, °C</text>
<text x="710.00" y="314.50" font-size="12.10" fill="#087008" textLength="170.68" lengthAdjust="spacingAndGlyphs">Time (hours, UT): 06:00 - 08:00</text>
<g shape-rendering="crispEdges">
<line x1="71.50" y1="650.5" x2="71.50" y2="910.5" stroke="#c0c0c0" stroke-width="1"/>
<line x1="92.50" y1="650.5" x2="92.50" y2="910.5" stroke="#c0c0c0" stroke-width="1"/>
<line x1="113.50" y1="650.5" x2="113.50" y2="910.5" stroke="#c0c0c0" stroke-width="1"/>
<line x1="135.50" y1="650.5" x2="135.50" y2="910.5" stroke="#c0c0c0" stroke-width="1"/>
<line x1="156.50" y1="650.5" x2="156.50" y2="910.5" stroke="#c0c0c0" stroke-width="1"/>
<line x1="177.50" y1="650.5" x2="177.50" y2="910.5" stroke="#c0c0c0" stroke-width="1"/>
<line x1="198.50" y1="650.5" x2="198.50" y2="910.5" stroke="#c0c0c0" stroke-width="1"/>
<line x1="50.5" y1="702.5" x2="220.5" y2="702.5" stroke="#c0c0c0" stroke-width="1"/>
<line x1="50.5" y1="754.5" x2="220.5" y2="754.5" stroke="#c0c0c0" stroke-width="1"/>
<line x1="50.5" y1="806.5" x2="220.5" y2="806.5" stroke="#c0c0c0" stroke-width="1"/>
<line x1="50.5" y1="858.5" x2="220.5" y2="858.5" stroke="#c0c0c0" stroke-width="1"/>
</g>
<rect x="50.5" y="650.5" width="170" height="260" fill="none" stroke="#000" stroke-width="1" shape-rendering="crispEdges"/>
<polyline points="113.99,650.50 119.26,663.50 124.74,676.50 124.53,689.50 125.80,702.50 122.00,715.50 117.78,728.50 107.24,741.50 98.80,754.50 89.31,767.50 80.24,780.50 74.97,793.50 72.01,806.50 71.38,819.50 71.38,832.50 78.13,845.50 95.64,858.50 125.59,871.50 163.13,884.50 196.46,897.50 199.62,910.50" fill="none" stroke="#0000ff" stroke-width="2" stroke-linejoin="miter"/>
<g shape-rendering="crispEdges">
<line x1="50.50" y1="910.5" x2="50.50" y2="915.5" stroke="#000" stroke-width="1"/>
<line x1="71.50" y1="910.5" x2="71.50" y2="915.5" stroke="#000" stroke-width="1"/>
<line x1="92.50" y1="910.5" x2="92.50" y2="915.5" stroke="#000" stroke-width="1"/>
<line x1="113.50" y1="910.5" x2="113.50" y2="915.5" stroke="#000" stroke-width="1"/>
<line x1="135.50" y1="910.5" x2="135.50" y2="915.5" stroke="#000" stroke-width="1"/>
<line x1="156.50" y1="910.5" x2="156.50" y2="915.5" stroke="#000" stroke-width="1"/>
<line x1="177.50" y1="910.5" x2="177.50" y2="915.5" stroke="#000" stroke-width="1"/>
<line x1="198.50" y1="910.5" x2="198.50" y2="915.5" stroke="#000" stroke-width="1"/>
<line x1="220.50" y1="910.5" x2="220.50" y2="915.5" stroke="#000" stroke-width="1"/>
<line x1="45.0" y1="910.5" x2="50.5" y2="910.5" stroke="#000" stroke-width="1"/>
<line x1="45.0" y1="858.5" x2="50.5" y2="858.5" stroke="#000" stroke-width="1"/>
<line x1="45.0" y1="806.5" x2="50.5" y2="806.5" stroke="#000" stroke-width="1"/>
<line x1="45.0" y1="754.5" x2="50.5" y2="754.5" stroke="#000" stroke-width="1"/>
<line x1="45.0" y1="702.5" x2="50.5" y2="702.5" stroke="#000" stroke-width="1"/>
<line x1="45.0" y1="650.5" x2="50.5" y2="650.5" stroke="#000" stroke-width="1"/>
</g>
<text x="71.25" y="925.20" font-size="9.99" text-anchor="middle" textLength="17.55" lengthAdjust="spacingAndGlyphs">-2.3</text>
<text x="113.75" y="925.20" font-size="9.99" text-anchor="middle" textLength="17.55" lengthAdjust="spacingAndGlyphs">-1.5</text>
<text x="156.25" y="925.20" font-size="9.99" text-anchor="middle" textLength="17.55" lengthAdjust="spacingAndGlyphs">-0.6</text>
<text x="198.75" y="925.20" font-size="9.99" text-anchor="middle" textLength="14.30" lengthAdjust="spacingAndGlyphs">0.3</text>
<text x="43.20" y="915.00" font-size="9.99" text-anchor="end" textLength="5.72" lengthAdjust="spacingAndGlyphs">0</text>
<text x="43.20" y="863.00" font-size="9.99" text-anchor="end" textLength="17.16" lengthAdjust="spacingAndGlyphs">200</text>
<text x="43.20" y="811.00" font-size="9.99" text-anchor="end" textLength="17.16" lengthAdjust="spacingAndGlyphs">400</text>
<text x="43.20" y="759.00" font-size="9.99" text-anchor="end" textLength="17.16" lengthAdjust="spacingAndGlyphs">600</text>
<text x="43.20" y="707.00" font-size="9.99" text-anchor="end" textLength="17.16" lengthAdjust="spacingAndGlyphs">800</text>
<text x="43.20" y="655.00" font-size="9.99" text-anchor="end" textLength="22.88" lengthAdjust="spacingAndGlyphs">1000</text>
<text x="141.00" y="940.00" font-size="12.10" text-anchor="middle" textLength="92.09" lengthAdjust="spacingAndGlyphs">Temperature, °C</text>
<text x="50.00" y="644.50" font-size="12.10" fill="#087008" textLength="170.68" lengthAdjust="spacingAndGlyphs">Time (hours, UT): 08:00 - 10:00</text>
<text x="0.00" y="0.00" font-size="12.10" text-anchor="middle" textLength="59.54" lengthAdjust="spacingAndGlyphs" transform="translate(15.2,769.5) rotate(-90)">Height, [m]</text>
<g shape-rendering="crispEdges">
<line x1="291.50" y1="650.5" x2="291.50" y2="910.5" stroke="#c0c0c0" stroke-width="1"/>
<line x1="312.50" y1="650.5" x2="312.50" y2="910.5" stroke="#c0c0c0" stroke-width="1"/>
<line x1="333.50" y1="650.5" x2="333.50" y2="910.5" stroke="#c0c0c0" stroke-width="1"/>
<line x1="355.50" y1="650.5" x2="355.50" y2="910.5" stroke="#c0c0c0" stroke-width="1"/>
<line x1="376.50" y1="650.5" x2="376.50" y2="910.5" stroke="#c0c0c0" stroke-width="1"/>
<line x1="397.50" y1="650.5" x2="397.50" y2="910.5" stroke="#c0c0c0" stroke-width="1"/>
<line x1="418.50" y1="650.5" x2="418.50" y2="910.5" stroke="#c0c0c0" stroke-width="1"/>
<line x1="270.5" y1="702.5" x2="440.5" y2="702.5" stroke="#c0c0c0" stroke-width="1"/>
<line x1="270.5" y1="754.5" x2="440.5" y2="754.5" stroke="#c0c0c0" stroke-width="1"/>
<line x1="270.5" y1="806.5" x2="440.5" y2="806.5" stroke="#c0c0c0" stroke-width="1"/>
<line x1="270.5" y1="858.5" x2="440.5" y2="858.5" stroke="#c0c0c0" stroke-width="1"/>
</g>
<rect x="270.5" y="650.5" width="170" height="260" fill="none" stroke="#000" stroke-width="1" shape-rendering="crispEdges"/>
<polyline points="348.33,650.50 352.55,663.50 356.77,676.50 356.13,689.50 354.66,702.50 348.75,715.50 342.63,728.50 332.09,741.50 320.91,754.50 309.31,767.50 299.18,780.50 294.12,793.50 292.01,806.50 290.96,819.50 292.01,832.50 301.29,845.50 321.54,858.50 351.49,871.50 386.93,884.50 417.30,897.50 419.41,910.50" fill="none" stroke="#0000ff" stroke-width="2" stroke-linejoin="miter"/>
<g shape-rendering="crispEdges">
<line x1="270.50" y1="910.5" x2="270.50" y2="915.5" stroke="#000" stroke-width="1"/>
<line x1="291.50" y1="910.5" x2="291.50" y2="915.5" stroke="#000" stroke-width="1"/>
<line x1="312.50" y1="910.5" x2="312.50" y2="915.5" stroke="#000" stroke-width="1"/>
<line x1="333.50" y1="910.5" x2="333.50" y2="915.5" stroke="#000" stroke-width="1"/>
<line x1="355.50" y1="910.5" x2="355.50" y2="915.5" stroke="#000" stroke-width="1"/>
<line x1="376.50" y1="910.5" x2="376.50" y2="915.5" stroke="#000" stroke-width="1"/>
<line x1="397.50" y1="910.5" x2="397.50" y2="915.5" stroke="#000" stroke-width="1"/>
<line x1="418.50" y1="910.5" x2="418.50" y2="915.5" stroke="#000" stroke-width="1"/>
<line x1="440.50" y1="910.5" x2="440.50" y2="915.5" stroke="#000" stroke-width="1"/>
<line x1="265.0" y1="910.5" x2="270.5" y2="910.5" stroke="#000" stroke-width="1"/>
<line x1="265.0" y1="858.5" x2="270.5" y2="858.5" stroke="#000" stroke-width="1"/>
<line x1="265.0" y1="806.5" x2="270.5" y2="806.5" stroke="#000" stroke-width="1"/>
<line x1="265.0" y1="754.5" x2="270.5" y2="754.5" stroke="#000" stroke-width="1"/>
<line x1="265.0" y1="702.5" x2="270.5" y2="702.5" stroke="#000" stroke-width="1"/>
<line x1="265.0" y1="650.5" x2="270.5" y2="650.5" stroke="#000" stroke-width="1"/>
</g>
<text x="291.25" y="925.20" font-size="9.99" text-anchor="middle" textLength="17.55" lengthAdjust="spacingAndGlyphs">-2.7</text>
<text x="333.75" y="925.20" font-size="9.99" text-anchor="middle" textLength="17.55" lengthAdjust="spacingAndGlyphs">-1.8</text>
<text x="376.25" y="925.20" font-size="9.99" text-anchor="middle" textLength="17.55" lengthAdjust="spacingAndGlyphs">-0.9</text>
<text x="418.75" y="925.20" font-size="9.99" text-anchor="middle" textLength="17.55" lengthAdjust="spacingAndGlyphs">-0.0</text>
<text x="263.20" y="915.00" font-size="9.99" text-anchor="end" textLength="5.72" lengthAdjust="spacingAndGlyphs">0</text>
<text x="263.20" y="863.00" font-size="9.99" text-anchor="end" textLength="17.16" lengthAdjust="spacingAndGlyphs">200</text>
<text x="263.20" y="811.00" font-size="9.99" text-anchor="end" textLength="17.16" lengthAdjust="spacingAndGlyphs">400</text>
<text x="263.20" y="759.00" font-size="9.99" text-anchor="end" textLength="17.16" lengthAdjust="spacingAndGlyphs">600</text>
<text x="263.20" y="707.00" font-size="9.99" text-anchor="end" textLength="17.16" lengthAdjust="spacingAndGlyphs">800</text>
<text x="263.20" y="655.00" font-size="9.99" text-anchor="end" textLength="22.88" lengthAdjust="spacingAndGlyphs">1000</text>
<text x="361.00" y="940.00" font-size="12.10" text-anchor="middle" textLength="92.09" lengthAdjust="spacingAndGlyphs">Temperature, °C</text>
<text x="270.00" y="644.50" font-size="12.10" fill="#087008" textLength="170.68" lengthAdjust="spacingAndGlyphs">Time (hours, UT): 10:00 - 12:00</text>
<g shape-rendering="crispEdges">
<line x1="511.50" y1="650.5" x2="511.50" y2="910.5" stroke="#c0c0c0" stroke-width="1"/>
<line x1="532.50" y1="650.5" x2="532.50" y2="910.5" stroke="#c0c0c0" stroke-width="1"/>
<line x1="553.50" y1="650.5" x2="553.50" y2="910.5" stroke="#c0c0c0" stroke-width="1"/>
<line x1="575.50" y1="650.5" x2="575.50" y2="910.5" stroke="#c0c0c0" stroke-width="1"/>
<line x1="596.50" y1="650.5" x2="596.50" y2="910.5" stroke="#c0c0c0" stroke-width="1"/>
<line x1="617.50" y1="650.5" x2="617.50" y2="910.5" stroke="#c0c0c0" stroke-width="1"/>
<line x1="638.50" y1="650.5" x2="638.50" y2="910.5" stroke="#c0c0c0" stroke-width="1"/>
<line x1="490.5" y1="702.5" x2="660.5" y2="702.5" stroke="#c0c0c0" stroke-width="1"/>
<line x1="490.5" y1="754.5" x2="660.5" y2="754.5" stroke="#c0c0c0" stroke-width="1"/>
<line x1="490.5" y1="806.5" x2="660.5" y2="806.5" stroke="#c0c0c0" stroke-width="1"/>
<line x1="490.5" y1="858.5" x2="660.5" y2="858.5" stroke="#c0c0c0" stroke-width="1"/>
</g>
<rect x="490.5" y="650.5" width="170" height="260" fill="none" stroke="#000" stroke-width="1" shape-rendering="crispEdges"/>
<polyline points="599.33,650.50 602.71,663.50 606.72,676.50 604.18,689.50 601.65,702.50 593.64,715.50 586.68,728.50 571.91,741.50 557.78,754.50 542.39,767.50 528.25,780.50 520.24,793.50 514.54,806.50 510.96,819.50 511.38,832.50 520.45,845.50 540.91,858.50 571.49,871.50 607.77,884.50 638.56,897.50 638.56,910.50" fill="none" stroke="#0000ff" stroke-width="2" stroke-linejoin="miter"/>
<g shape-rendering="crispEdges">
<line x1="490.50" y1="910.5" x2="490.50" y2="915.5" stroke="#000" stroke-width="1"/>
<line x1="511.50" y1="910.5" x2="511.50" y2="915.5" stroke="#000" stroke-width="1"/>
<line x1="532.50" y1="910.5" x2="532.50" y2="915.5" stroke="#000" stroke-width="1"/>
<line x1="553.50" y1="910.5" x2="553.50" y2="915.5" stroke="#000" stroke-width="1"/>
<line x1="575.50" y1="910.5" x2="575.50" y2="915.5" stroke="#000" stroke-width="1"/>
<line x1="596.50" y1="910.5" x2="596.50" y2="915.5" stroke="#000" stroke-width="1"/>
<line x1="617.50" y1="910.5" x2="617.50" y2="915.5" stroke="#000" stroke-width="1"/>
<line x1="638.50" y1="910.5" x2="638.50" y2="915.5" stroke="#000" stroke-width="1"/>
<line x1="660.50" y1="910.5" x2="660.50" y2="915.5" stroke="#000" stroke-width="1"/>
<line x1="485.0" y1="910.5" x2="490.5" y2="910.5" stroke="#000" stroke-width="1"/>
<line x1="485.0" y1="858.5" x2="490.5" y2="858.5" stroke="#000" stroke-width="1"/>
<line x1="485.0" y1="806.5" x2="490.5" y2="806.5" stroke="#000" stroke-width="1"/>
<line x1="485.0" y1="754.5" x2="490.5" y2="754.5" stroke="#000" stroke-width="1"/>
<line x1="485.0" y1="702.5" x2="490.5" y2="702.5" stroke="#000" stroke-width="1"/>
<line x1="485.0" y1="650.5" x2="490.5" y2="650.5" stroke="#000" stroke-width="1"/>
</g>
<text x="511.25" y="925.20" font-size="9.99" text-anchor="middle" textLength="17.55" lengthAdjust="spacingAndGlyphs">-2.9</text>
<text x="553.75" y="925.20" font-size="9.99" text-anchor="middle" textLength="17.55" lengthAdjust="spacingAndGlyphs">-2.1</text>
<text x="596.25" y="925.20" font-size="9.99" text-anchor="middle" textLength="17.55" lengthAdjust="spacingAndGlyphs">-1.2</text>
<text x="638.75" y="925.20" font-size="9.99" text-anchor="middle" textLength="17.55" lengthAdjust="spacingAndGlyphs">-0.4</text>
<text x="483.20" y="915.00" font-size="9.99" text-anchor="end" textLength="5.72" lengthAdjust="spacingAndGlyphs">0</text>
<text x="483.20" y="863.00" font-size="9.99" text-anchor="end" textLength="17.16" lengthAdjust="spacingAndGlyphs">200</text>
<text x="483.20" y="811.00" font-size="9.99" text-anchor="end" textLength="17.16" lengthAdjust="spacingAndGlyphs">400</text>
<text x="483.20" y="759.00" font-size="9.99" text-anchor="end" textLength="17.16" lengthAdjust="spacingAndGlyphs">600</text>
<text x="483.20" y="707.00" font-size="9.99" text-anchor="end" textLength="17.16" lengthAdjust="spacingAndGlyphs">800</text>
<text x="483.20" y="655.00" font-size="9.99" text-anchor="end" textLength="22.88" lengthAdjust="spacingAndGlyphs">1000</text>
<text x="581.00" y="940.00" font-size="12.10" text-anchor="middle" textLength="92.09" lengthAdjust="spacingAndGlyphs">Temperature, °C</text>
<text x="490.00" y="644.50" font-size="12.10" fill="#087008" textLength="170.68" lengthAdjust="spacingAndGlyphs">Time (hours, UT): 12:00 - 14:00</text>
<g shape-rendering="crispEdges">
<line x1="731.50" y1="650.5" x2="731.50" y2="910.5" stroke="#c0c0c0" stroke-width="1"/>
<line x1="752.50" y1="650.5" x2="752.50" y2="910.5" stroke="#c0c0c0" stroke-width="1"/>
<line x1="773.50" y1="650.5" x2="773.50" y2="910.5" stroke="#c0c0c0" stroke-width="1"/>
<line x1="795.50" y1="650.5" x2="795.50" y2="910.5" stroke="#c0c0c0" stroke-width="1"/>
<line x1="816.50" y1="650.5" x2="816.50" y2="910.5" stroke="#c0c0c0" stroke-width="1"/>
<line x1="837.50" y1="650.5" x2="837.50" y2="910.5" stroke="#c0c0c0" stroke-width="1"/>
<line x1="858.50" y1="650.5" x2="858.50" y2="910.5" stroke="#c0c0c0" stroke-width="1"/>
<line x1="710.5" y1="702.5" x2="880.5" y2="702.5" stroke="#c0c0c0" stroke-width="1"/>
<line x1="710.5" y1="754.5" x2="880.5" y2="754.5" stroke="#c0c0c0" stroke-width="1"/>
<line x1="710.5" y1="806.5" x2="880.5" y2="806.5" stroke="#c0c0c0" stroke-width="1"/>
<line x1="710.5" y1="858.5" x2="880.5" y2="858.5" stroke="#c0c0c0" stroke-width="1"/>
</g>
<rect x="710.5" y="650.5" width="170" height="260" fill="none" stroke="#000" stroke-width="1" shape-rendering="crispEdges"/>
<polyline points="850.13,650.50 854.35,663.50 858.99,676.50 856.88,689.50 854.77,702.50 846.75,715.50 838.32,728.50 826.93,741.50 808.37,754.50 791.49,767.50 772.93,780.50 761.54,793.50 752.47,806.50 740.87,819.50 731.38,832.50 731.38,845.50 744.67,858.50 773.56,871.50 815.12,884.50 847.81,897.50 847.81,910.50" fill="none" stroke="#0000ff" stroke-width="2" stroke-linejoin="miter"/>
<g shape-rendering="crispEdges">
<line x1="710.50" y1="910.5" x2="710.50" y2="915.5" stroke="#000" stroke-width="1"/>
<line x1="731.50" y1="910.5" x2="731.50" y2="915.5" stroke="#000" stroke-width="1"/>
<line x1="752.50" y1="910.5" x2="752.50" y2="915.5" stroke="#000" stroke-width="1"/>
<line x1="773.50" y1="910.5" x2="773.50" y2="915.5" stroke="#000" stroke-width="1"/>
<line x1="795.50" y1="910.5" x2="795.50" y2="915.5" stroke="#000" stroke-width="1"/>
<line x1="816.50" y1="910.5" x2="816.50" y2="915.5" stroke="#000" stroke-width="1"/>
<line x1="837.50" y1="910.5" x2="837.50" y2="915.5" stroke="#000" stroke-width="1"/>
<line x1="858.50" y1="910.5" x2="858.50" y2="915.5" stroke="#000" stroke-width="1"/>
<line x1="880.50" y1="910.5" x2="880.50" y2="915.5" stroke="#000" stroke-width="1"/>
<line x1="705.0" y1="910.5" x2="710.5" y2="910.5" stroke="#000" stroke-width="1"/>
<line x1="705.0" y1="858.5" x2="710.5" y2="858.5" stroke="#000" stroke-width="1"/>
<line x1="705.0" y1="806.5" x2="710.5" y2="806.5" stroke="#000" stroke-width="1"/>
<line x1="705.0" y1="754.5" x2="710.5" y2="754.5" stroke="#000" stroke-width="1"/>
<line x1="705.0" y1="702.5" x2="710.5" y2="702.5" stroke="#000" stroke-width="1"/>
<line x1="705.0" y1="650.5" x2="710.5" y2="650.5" stroke="#000" stroke-width="1"/>
</g>
<text x="731.25" y="925.20" font-size="9.99" text-anchor="middle" textLength="17.55" lengthAdjust="spacingAndGlyphs">-2.9</text>
<text x="773.75" y="925.20" font-size="9.99" text-anchor="middle" textLength="17.55" lengthAdjust="spacingAndGlyphs">-2.1</text>
<text x="816.25" y="925.20" font-size="9.99" text-anchor="middle" textLength="17.55" lengthAdjust="spacingAndGlyphs">-1.3</text>
<text x="858.75" y="925.20" font-size="9.99" text-anchor="middle" textLength="17.55" lengthAdjust="spacingAndGlyphs">-0.5</text>
<text x="703.20" y="915.00" font-size="9.99" text-anchor="end" textLength="5.72" lengthAdjust="spacingAndGlyphs">0</text>
<text x="703.20" y="863.00" font-size="9.99" text-anchor="end" textLength="17.16" lengthAdjust="spacingAndGlyphs">200</text>
<text x="703.20" y="811.00" font-size="9.99" text-anchor="end" textLength="17.16" lengthAdjust="spacingAndGlyphs">400</text>
<text x="703.20" y="759.00" font-size="9.99" text-anchor="end" textLength="17.16" lengthAdjust="spacingAndGlyphs">600</text>
<text x="703.20" y="707.00" font-size="9.99" text-anchor="end" textLength="17.16" lengthAdjust="spacingAndGlyphs">800</text>
<text x="703.20" y="655.00" font-size="9.99" text-anchor="end" textLength="22.88" lengthAdjust="spacingAndGlyphs">1000</text>
<text x="801.00" y="940.00" font-size="12.10" text-anchor="middle" textLength="92.09" lengthAdjust="spacingAndGlyphs">Temperature, °C</text>
<text x="710.00" y="644.50" font-size="12.10" fill="#087008" textLength="170.68" lengthAdjust="spacingAndGlyphs">Time (hours, UT): 14:00 - 16:00</text>
<g shape-rendering="crispEdges">
<line x1="71.50" y1="980.5" x2="71.50" y2="1240.5" stroke="#c0c0c0" stroke-width="1"/>
<line x1="92.50" y1="980.5" x2="92.50" y2="1240.5" stroke="#c0c0c0" stroke-width="1"/>
<line x1="113.50" y1="980.5" x2="113.50" y2="1240.5" stroke="#c0c0c0" stroke-width="1"/>
<line x1="135.50" y1="980.5" x2="135.50" y2="1240.5" stroke="#c0c0c0" stroke-width="1"/>
<line x1="156.50" y1="980.5" x2="156.50" y2="1240.5" stroke="#c0c0c0" stroke-width="1"/>
<line x1="177.50" y1="980.5" x2="177.50" y2="1240.5" stroke="#c0c0c0" stroke-width="1"/>
<line x1="198.50" y1="980.5" x2="198.50" y2="1240.5" stroke="#c0c0c0" stroke-width="1"/>
<line x1="50.5" y1="1032.5" x2="220.5" y2="1032.5" stroke="#c0c0c0" stroke-width="1"/>
<line x1="50.5" y1="1084.5" x2="220.5" y2="1084.5" stroke="#c0c0c0" stroke-width="1"/>
<line x1="50.5" y1="1136.5" x2="220.5" y2="1136.5" stroke="#c0c0c0" stroke-width="1"/>
<line x1="50.5" y1="1188.5" x2="220.5" y2="1188.5" stroke="#c0c0c0" stroke-width="1"/>
</g>
<rect x="50.5" y="980.5" width="170" height="260" fill="none" stroke="#000" stroke-width="1" shape-rendering="crispEdges"/>
<polyline points="191.18,980.50 195.19,993.50 199.62,1006.50 197.93,1019.50 195.40,1032.50 190.13,1045.50 182.53,1058.50 169.46,1071.50 155.12,1084.50 135.71,1097.50 123.48,1110.50 111.46,1123.50 101.54,1136.50 88.25,1149.50 74.97,1162.50 71.38,1175.50 76.23,1188.50 96.69,1201.50 126.22,1214.50 152.58,1227.50 152.58,1240.50" fill="none" stroke="#0000ff" stroke-width="2" stroke-linejoin="miter"/>
<g shape-rendering="crispEdges">
<line x1="50.50" y1="1240.5" x2="50.50" y2="1245.5" stroke="#000" stroke-width="1"/>
<line x1="71.50" y1="1240.5" x2="71.50" y2="1245.5" stroke="#000" stroke-width="1"/>
<line x1="92.50" y1="1240.5" x2="92.50" y2="1245.5" stroke="#000" stroke-width="1"/>
<line x1="113.50" y1="1240.5" x2="113.50" y2="1245.5" stroke="#000" stroke-width="1"/>
<line x1="135.50" y1="1240.5" x2="135.50" y2="1245.5" stroke="#000" stroke-width="1"/>
<line x1="156.50" y1="1240.5" x2="156.50" y2="1245.5" stroke="#000" stroke-width="1"/>
<line x1="177.50" y1="1240.5" x2="177.50" y2="1245.5" stroke="#000" stroke-width="1"/>
<line x1="198.50" y1="1240.5" x2="198.50" y2="1245.5" stroke="#000" stroke-width="1"/>
<line x1="220.50" y1="1240.5" x2="220.50" y2="1245.5" stroke="#000" stroke-width="1"/>
<line x1="45.0" y1="1240.5" x2="50.5" y2="1240.5" stroke="#000" stroke-width="1"/>
<line x1="45.0" y1="1188.5" x2="50.5" y2="1188.5" stroke="#000" stroke-width="1"/>
<line x1="45.0" y1="1136.5" x2="50.5" y2="1136.5" stroke="#000" stroke-width="1"/>
<line x1="45.0" y1="1084.5" x2="50.5" y2="1084.5" stroke="#000" stroke-width="1"/>
<line x1="45.0" y1="1032.5" x2="50.5" y2="1032.5" stroke="#000" stroke-width="1"/>
<line x1="45.0" y1="980.5" x2="50.5" y2="980.5" stroke="#000" stroke-width="1"/>
</g>
<text x="71.25" y="1255.20" font-size="9.99" text-anchor="middle" textLength="17.55" lengthAdjust="spacingAndGlyphs">-2.7</text>
<text x="113.75" y="1255.20" font-size="9.99" text-anchor="middle" textLength="17.55" lengthAdjust="spacingAndGlyphs">-1.8</text>
<text x="156.25" y="1255.20" font-size="9.99" text-anchor="middle" textLength="17.55" lengthAdjust="spacingAndGlyphs">-0.8</text>
<text x="198.75" y="1255.20" font-size="9.99" text-anchor="middle" textLength="14.30" lengthAdjust="spacingAndGlyphs">0.2</text>
<text x="43.20" y="1245.00" font-size="9.99" text-anchor="end" textLength="5.72" lengthAdjust="spacingAndGlyphs">0</text>
<text x="43.20" y="1193.00" font-size="9.99" text-anchor="end" textLength="17.16" lengthAdjust="spacingAndGlyphs">200</text>
<text x="43.20" y="1141.00" font-size="9.99" text-anchor="end" textLength="17.16" lengthAdjust="spacingAndGlyphs">400</text>
<text x="43.20" y="1089.00" font-size="9.99" text-anchor="end" textLength="17.16" lengthAdjust="spacingAndGlyphs">600</text>
<text x="43.20" y="1037.00" font-size="9.99" text-anchor="end" textLength="17.16" lengthAdjust="spacingAndGlyphs">800</text>
<text x="43.20" y="985.00" font-size="9.99" text-anchor="end" textLength="22.88" lengthAdjust="spacingAndGlyphs">1000</text>
<text x="141.00" y="1270.00" font-size="12.10" text-anchor="middle" textLength="92.09" lengthAdjust="spacingAndGlyphs">Temperature, °C</text>
<text x="50.00" y="974.50" font-size="12.10" fill="#087008" textLength="170.68" lengthAdjust="spacingAndGlyphs">Time (hours, UT): 16:00 - 18:00</text>
<text x="0.00" y="0.00" font-size="12.10" text-anchor="middle" textLength="59.54" lengthAdjust="spacingAndGlyphs" transform="translate(15.2,1099.5) rotate(-90)">Height, [m]</text>
<g shape-rendering="crispEdges">
<line x1="291.50" y1="980.5" x2="291.50" y2="1240.5" stroke="#c0c0c0" stroke-width="1"/>
<line x1="312.50" y1="980.5" x2="312.50" y2="1240.5" stroke="#c0c0c0" stroke-width="1"/>
<line x1="333.50" y1="980.5" x2="333.50" y2="1240.5" stroke="#c0c0c0" stroke-width="1"/>
<line x1="355.50" y1="980.5" x2="355.50" y2="1240.5" stroke="#c0c0c0" stroke-width="1"/>
<line x1="376.50" y1="980.5" x2="376.50" y2="1240.5" stroke="#c0c0c0" stroke-width="1"/>
<line x1="397.50" y1="980.5" x2="397.50" y2="1240.5" stroke="#c0c0c0" stroke-width="1"/>
<line x1="418.50" y1="980.5" x2="418.50" y2="1240.5" stroke="#c0c0c0" stroke-width="1"/>
<line x1="270.5" y1="1032.5" x2="440.5" y2="1032.5" stroke="#c0c0c0" stroke-width="1"/>
<line x1="270.5" y1="1084.5" x2="440.5" y2="1084.5" stroke="#c0c0c0" stroke-width="1"/>
<line x1="270.5" y1="1136.5" x2="440.5" y2="1136.5" stroke="#c0c0c0" stroke-width="1"/>
<line x1="270.5" y1="1188.5" x2="440.5" y2="1188.5" stroke="#c0c0c0" stroke-width="1"/>
</g>
<rect x="270.5" y="980.5" width="170" height="260" fill="none" stroke="#000" stroke-width="1" shape-rendering="crispEdges"/>
<polyline points="412.24,980.50 415.19,993.50 419.62,1006.50 418.35,1019.50 416.46,1032.50 410.13,1045.50 405.28,1058.50 392.62,1071.50 379.54,1084.50 363.09,1097.50 349.38,1110.50 333.56,1123.50 322.39,1136.50 311.00,1149.50 297.08,1162.50 291.38,1175.50 292.86,1188.50 308.89,1201.50 332.51,1214.50 354.66,1227.50 355.29,1240.50" fill="none" stroke="#0000ff" stroke-width="2" stroke-linejoin="miter"/>
<g shape-rendering="crispEdges">
<line x1="270.50" y1="1240.5" x2="270.50" y2="1245.5" stroke="#000" stroke-width="1"/>
<line x1="291.50" y1="1240.5" x2="291.50" y2="1245.5" stroke="#000" stroke-width="1"/>
<line x1="312.50" y1="1240.5" x2="312.50" y2="1245.5" stroke="#000" stroke-width="1"/>
<line x1="333.50" y1="1240.5" x2="333.50" y2="1245.5" stroke="#000" stroke-width="1"/>
<line x1="355.50" y1="1240.5" x2="355.50" y2="1245.5" stroke="#000" stroke-width="1"/>
<line x1="376.50" y1="1240.5" x2="376.50" y2="1245.5" stroke="#000" stroke-width="1"/>
<line x1="397.50" y1="1240.5" x2="397.50" y2="1245.5" stroke="#000" stroke-width="1"/>
<line x1="418.50" y1="1240.5" x2="418.50" y2="1245.5" stroke="#000" stroke-width="1"/>
<line x1="440.50" y1="1240.5" x2="440.50" y2="1245.5" stroke="#000" stroke-width="1"/>
<line x1="265.0" y1="1240.5" x2="270.5" y2="1240.5" stroke="#000" stroke-width="1"/>
<line x1="265.0" y1="1188.5" x2="270.5" y2="1188.5" stroke="#000" stroke-width="1"/>
<line x1="265.0" y1="1136.5" x2="270.5" y2="1136.5" stroke="#000" stroke-width="1"/>
<line x1="265.0" y1="1084.5" x2="270.5" y2="1084.5" stroke="#000" stroke-width="1"/>
<line x1="265.0" y1="1032.5" x2="270.5" y2="1032.5" stroke="#000" stroke-width="1"/>
<line x1="265.0" y1="980.5" x2="270.5" y2="980.5" stroke="#000" stroke-width="1"/>
</g>
<text x="291.25" y="1255.20" font-size="9.99" text-anchor="middle" textLength="17.55" lengthAdjust="spacingAndGlyphs">-2.5</text>
<text x="333.75" y="1255.20" font-size="9.99" text-anchor="middle" textLength="17.55" lengthAdjust="spacingAndGlyphs">-1.4</text>
<text x="376.25" y="1255.20" font-size="9.99" text-anchor="middle" textLength="17.55" lengthAdjust="spacingAndGlyphs">-0.3</text>
<text x="418.75" y="1255.20" font-size="9.99" text-anchor="middle" textLength="14.30" lengthAdjust="spacingAndGlyphs">0.9</text>
<text x="263.20" y="1245.00" font-size="9.99" text-anchor="end" textLength="5.72" lengthAdjust="spacingAndGlyphs">0</text>
<text x="263.20" y="1193.00" font-size="9.99" text-anchor="end" textLength="17.16" lengthAdjust="spacingAndGlyphs">200</text>
<text x="263.20" y="1141.00" font-size="9.99" text-anchor="end" textLength="17.16" lengthAdjust="spacingAndGlyphs">400</text>
<text x="263.20" y="1089.00" font-size="9.99" text-anchor="end" textLength="17.16" lengthAdjust="spacingAndGlyphs">600</text>
<text x="263.20" y="1037.00" font-size="9.99" text-anchor="end" textLength="17.16" lengthAdjust="spacingAndGlyphs">800</text>
<text x="263.20" y="985.00" font-size="9.99" text-anchor="end" textLength="22.88" lengthAdjust="spacingAndGlyphs">1000</text>
<text x="361.00" y="1270.00" font-size="12.10" text-anchor="middle" textLength="92.09" lengthAdjust="spacingAndGlyphs">Temperature, °C</text>
<text x="270.00" y="974.50" font-size="12.10" fill="#087008" textLength="170.68" lengthAdjust="spacingAndGlyphs">Time (hours, UT): 18:00 - 20:00</text>
<g shape-rendering="crispEdges">
<line x1="511.50" y1="980.5" x2="511.50" y2="1240.5" stroke="#c0c0c0" stroke-width="1"/>
<line x1="532.50" y1="980.5" x2="532.50" y2="1240.5" stroke="#c0c0c0" stroke-width="1"/>
<line x1="553.50" y1="980.5" x2="553.50" y2="1240.5" stroke="#c0c0c0" stroke-width="1"/>
<line x1="575.50" y1="980.5" x2="575.50" y2="1240.5" stroke="#c0c0c0" stroke-width="1"/>
<line x1="596.50" y1="980.5" x2="596.50" y2="1240.5" stroke="#c0c0c0" stroke-width="1"/>
<line x1="617.50" y1="980.5" x2="617.50" y2="1240.5" stroke="#c0c0c0" stroke-width="1"/>
<line x1="638.50" y1="980.5" x2="638.50" y2="1240.5" stroke="#c0c0c0" stroke-width="1"/>
<line x1="490.5" y1="1032.5" x2="660.5" y2="1032.5" stroke="#c0c0c0" stroke-width="1"/>
<line x1="490.5" y1="1084.5" x2="660.5" y2="1084.5" stroke="#c0c0c0" stroke-width="1"/>
<line x1="490.5" y1="1136.5" x2="660.5" y2="1136.5" stroke="#c0c0c0" stroke-width="1"/>
<line x1="490.5" y1="1188.5" x2="660.5" y2="1188.5" stroke="#c0c0c0" stroke-width="1"/>
</g>
<rect x="490.5" y="980.5" width="170" height="260" fill="none" stroke="#000" stroke-width="1" shape-rendering="crispEdges"/>
<polyline points="635.19,980.50 637.30,993.50 639.62,1006.50 636.88,1019.50 633.71,1032.50 628.02,1045.50 621.69,1058.50 609.46,1071.50 596.38,1084.50 581.62,1097.50 567.27,1110.50 553.56,1123.50 542.39,1136.50 529.31,1149.50 516.23,1162.50 511.38,1175.50 514.12,1188.50 528.89,1201.50 549.35,1214.50 567.70,1227.50 567.70,1240.50" fill="none" stroke="#0000ff" stroke-width="2" stroke-linejoin="miter"/>
<g shape-rendering="crispEdges">
<line x1="490.50" y1="1240.5" x2="490.50" y2="1245.5" stroke="#000" stroke-width="1"/>
<line x1="511.50" y1="1240.5" x2="511.50" y2="1245.5" stroke="#000" stroke-width="1"/>
<line x1="532.50" y1="1240.5" x2="532.50" y2="1245.5" stroke="#000" stroke-width="1"/>
<line x1="553.50" y1="1240.5" x2="553.50" y2="1245.5" stroke="#000" stroke-width="1"/>
<line x1="575.50" y1="1240.5" x2="575.50" y2="1245.5" stroke="#000" stroke-width="1"/>
<line x1="596.50" y1="1240.5" x2="596.50" y2="1245.5" stroke="#000" stroke-width="1"/>
<line x1="617.50" y1="1240.5" x2="617.50" y2="1245.5" stroke="#000" stroke-width="1"/>
<line x1="638.50" y1="1240.5" x2="638.50" y2="1245.5" stroke="#000" stroke-width="1"/>
<line x1="660.50" y1="1240.5" x2="660.50" y2="1245.5" stroke="#000" stroke-width="1"/>
<line x1="485.0" y1="1240.5" x2="490.5" y2="1240.5" stroke="#000" stroke-width="1"/>
<line x1="485.0" y1="1188.5" x2="490.5" y2="1188.5" stroke="#000" stroke-width="1"/>
<line x1="485.0" y1="1136.5" x2="490.5" y2="1136.5" stroke="#000" stroke-width="1"/>
<line x1="485.0" y1="1084.5" x2="490.5" y2="1084.5" stroke="#000" stroke-width="1"/>
<line x1="485.0" y1="1032.5" x2="490.5" y2="1032.5" stroke="#000" stroke-width="1"/>
<line x1="485.0" y1="980.5" x2="490.5" y2="980.5" stroke="#000" stroke-width="1"/>
</g>
<text x="511.25" y="1255.20" font-size="9.99" text-anchor="middle" textLength="17.55" lengthAdjust="spacingAndGlyphs">-2.4</text>
<text x="553.75" y="1255.20" font-size="9.99" text-anchor="middle" textLength="17.55" lengthAdjust="spacingAndGlyphs">-0.8</text>
<text x="596.25" y="1255.20" font-size="9.99" text-anchor="middle" textLength="14.30" lengthAdjust="spacingAndGlyphs">0.8</text>
<text x="638.75" y="1255.20" font-size="9.99" text-anchor="middle" textLength="14.30" lengthAdjust="spacingAndGlyphs">2.4</text>
<text x="483.20" y="1245.00" font-size="9.99" text-anchor="end" textLength="5.72" lengthAdjust="spacingAndGlyphs">0</text>
<text x="483.20" y="1193.00" font-size="9.99" text-anchor="end" textLength="17.16" lengthAdjust="spacingAndGlyphs">200</text>
<text x="483.20" y="1141.00" font-size="9.99" text-anchor="end" textLength="17.16" lengthAdjust="spacingAndGlyphs">400</text>
<text x="483.20" y="1089.00" font-size="9.99" text-anchor="end" textLength="17.16" lengthAdjust="spacingAndGlyphs">600</text>
<text x="483.20" y="1037.00" font-size="9.99" text-anchor="end" textLength="17.16" lengthAdjust="spacingAndGlyphs">800</text>
<text x="483.20" y="985.00" font-size="9.99" text-anchor="end" textLength="22.88" lengthAdjust="spacingAndGlyphs">1000</text>
<text x="581.00" y="1270.00" font-size="12.10" text-anchor="middle" textLength="92.09" lengthAdjust="spacingAndGlyphs">Temperature, °C</text>
<text x="490.00" y="974.50" font-size="12.10" fill="#087008" textLength="170.68" lengthAdjust="spacingAndGlyphs">Time (hours, UT): 20:00 - 22:00</text>
<g shape-rendering="crispEdges">
<line x1="731.50" y1="980.5" x2="731.50" y2="1240.5" stroke="#c0c0c0" stroke-width="1"/>
<line x1="752.50" y1="980.5" x2="752.50" y2="1240.5" stroke="#c0c0c0" stroke-width="1"/>
<line x1="773.50" y1="980.5" x2="773.50" y2="1240.5" stroke="#c0c0c0" stroke-width="1"/>
<line x1="795.50" y1="980.5" x2="795.50" y2="1240.5" stroke="#c0c0c0" stroke-width="1"/>
<line x1="816.50" y1="980.5" x2="816.50" y2="1240.5" stroke="#c0c0c0" stroke-width="1"/>
<line x1="837.50" y1="980.5" x2="837.50" y2="1240.5" stroke="#c0c0c0" stroke-width="1"/>
<line x1="858.50" y1="980.5" x2="858.50" y2="1240.5" stroke="#c0c0c0" stroke-width="1"/>
<line x1="710.5" y1="1032.5" x2="880.5" y2="1032.5" stroke="#c0c0c0" stroke-width="1"/>
<line x1="710.5" y1="1084.5" x2="880.5" y2="1084.5" stroke="#c0c0c0" stroke-width="1"/>
<line x1="710.5" y1="1136.5" x2="880.5" y2="1136.5" stroke="#c0c0c0" stroke-width="1"/>
<line x1="710.5" y1="1188.5" x2="880.5" y2="1188.5" stroke="#c0c0c0" stroke-width="1"/>
</g>
<rect x="710.5" y="980.5" width="170" height="260" fill="none" stroke="#000" stroke-width="1" shape-rendering="crispEdges"/>
<polyline points="856.24,980.50 857.30,993.50 859.62,1006.50 855.82,1019.50 852.66,1032.50 846.75,1045.50 840.00,1058.50 827.35,1071.50 814.69,1084.50 796.77,1097.50 783.48,1110.50 769.35,1123.50 758.80,1136.50 745.51,1149.50 734.97,1162.50 731.38,1175.50 735.18,1188.50 748.89,1201.50 768.71,1214.50 785.59,1227.50 784.74,1240.50" fill="none" stroke="#0000ff" stroke-width="2" stroke-linejoin="miter"/>
<g shape-rendering="crispEdges">
<line x1="710.50" y1="1240.5" x2="710.50" y2="1245.5" stroke="#000" stroke-width="1"/>
<line x1="731.50" y1="1240.5" x2="731.50" y2="1245.5" stroke="#000" stroke-width="1"/>
<line x1="752.50" y1="1240.5" x2="752.50" y2="1245.5" stroke="#000" stroke-width="1"/>
<line x1="773.50" y1="1240.5" x2="773.50" y2="1245.5" stroke="#000" stroke-width="1"/>
<line x1="795.50" y1="1240.5" x2="795.50" y2="1245.5" stroke="#000" stroke-width="1"/>
<line x1="816.50" y1="1240.5" x2="816.50" y2="1245.5" stroke="#000" stroke-width="1"/>
<line x1="837.50" y1="1240.5" x2="837.50" y2="1245.5" stroke="#000" stroke-width="1"/>
<line x1="858.50" y1="1240.5" x2="858.50" y2="1245.5" stroke="#000" stroke-width="1"/>
<line x1="880.50" y1="1240.5" x2="880.50" y2="1245.5" stroke="#000" stroke-width="1"/>
<line x1="705.0" y1="1240.5" x2="710.5" y2="1240.5" stroke="#000" stroke-width="1"/>
<line x1="705.0" y1="1188.5" x2="710.5" y2="1188.5" stroke="#000" stroke-width="1"/>
<line x1="705.0" y1="1136.5" x2="710.5" y2="1136.5" stroke="#000" stroke-width="1"/>
<line x1="705.0" y1="1084.5" x2="710.5" y2="1084.5" stroke="#000" stroke-width="1"/>
<line x1="705.0" y1="1032.5" x2="710.5" y2="1032.5" stroke="#000" stroke-width="1"/>
<line x1="705.0" y1="980.5" x2="710.5" y2="980.5" stroke="#000" stroke-width="1"/>
</g>
<text x="731.25" y="1255.20" font-size="9.99" text-anchor="middle" textLength="17.55" lengthAdjust="spacingAndGlyphs">-2.3</text>
<text x="773.75" y="1255.20" font-size="9.99" text-anchor="middle" textLength="17.55" lengthAdjust="spacingAndGlyphs">-0.5</text>
<text x="816.25" y="1255.20" font-size="9.99" text-anchor="middle" textLength="14.30" lengthAdjust="spacingAndGlyphs">1.2</text>
<text x="858.75" y="1255.20" font-size="9.99" text-anchor="middle" textLength="14.30" lengthAdjust="spacingAndGlyphs">2.9</text>
<text x="703.20" y="1245.00" font-size="9.99" text-anchor="end" textLength="5.72" lengthAdjust="spacingAndGlyphs">0</text>
<text x="703.20" y="1193.00" font-size="9.99" text-anchor="end" textLength="17.16" lengthAdjust="spacingAndGlyphs">200</text>
<text x="703.20" y="1141.00" font-size="9.99" text-anchor="end" textLength="17.16" lengthAdjust="spacingAndGlyphs">400</text>
<text x="703.20" y="1089.00" font-size="9.99" text-anchor="end" textLength="17.16" lengthAdjust="spacingAndGlyphs">600</text>
<text x="703.20" y="1037.00" font-size="9.99" text-anchor="end" textLength="17.16" lengthAdjust="spacingAndGlyphs">800</text>
<text x="703.20" y="985.00" font-size="9.99" text-anchor="end" textLength="22.88" lengthAdjust="spacingAndGlyphs">1000</text>
<text x="801.00" y="1270.00" font-size="12.10" text-anchor="middle" textLength="92.09" lengthAdjust="spacingAndGlyphs">Temperature, °C</text>
<text x="710.00" y="974.50" font-size="12.10" fill="#087008" textLength="170.68" lengthAdjust="spacingAndGlyphs">Time (hours, UT): 22:00 - 24:00</text>
</svg></body></html>
